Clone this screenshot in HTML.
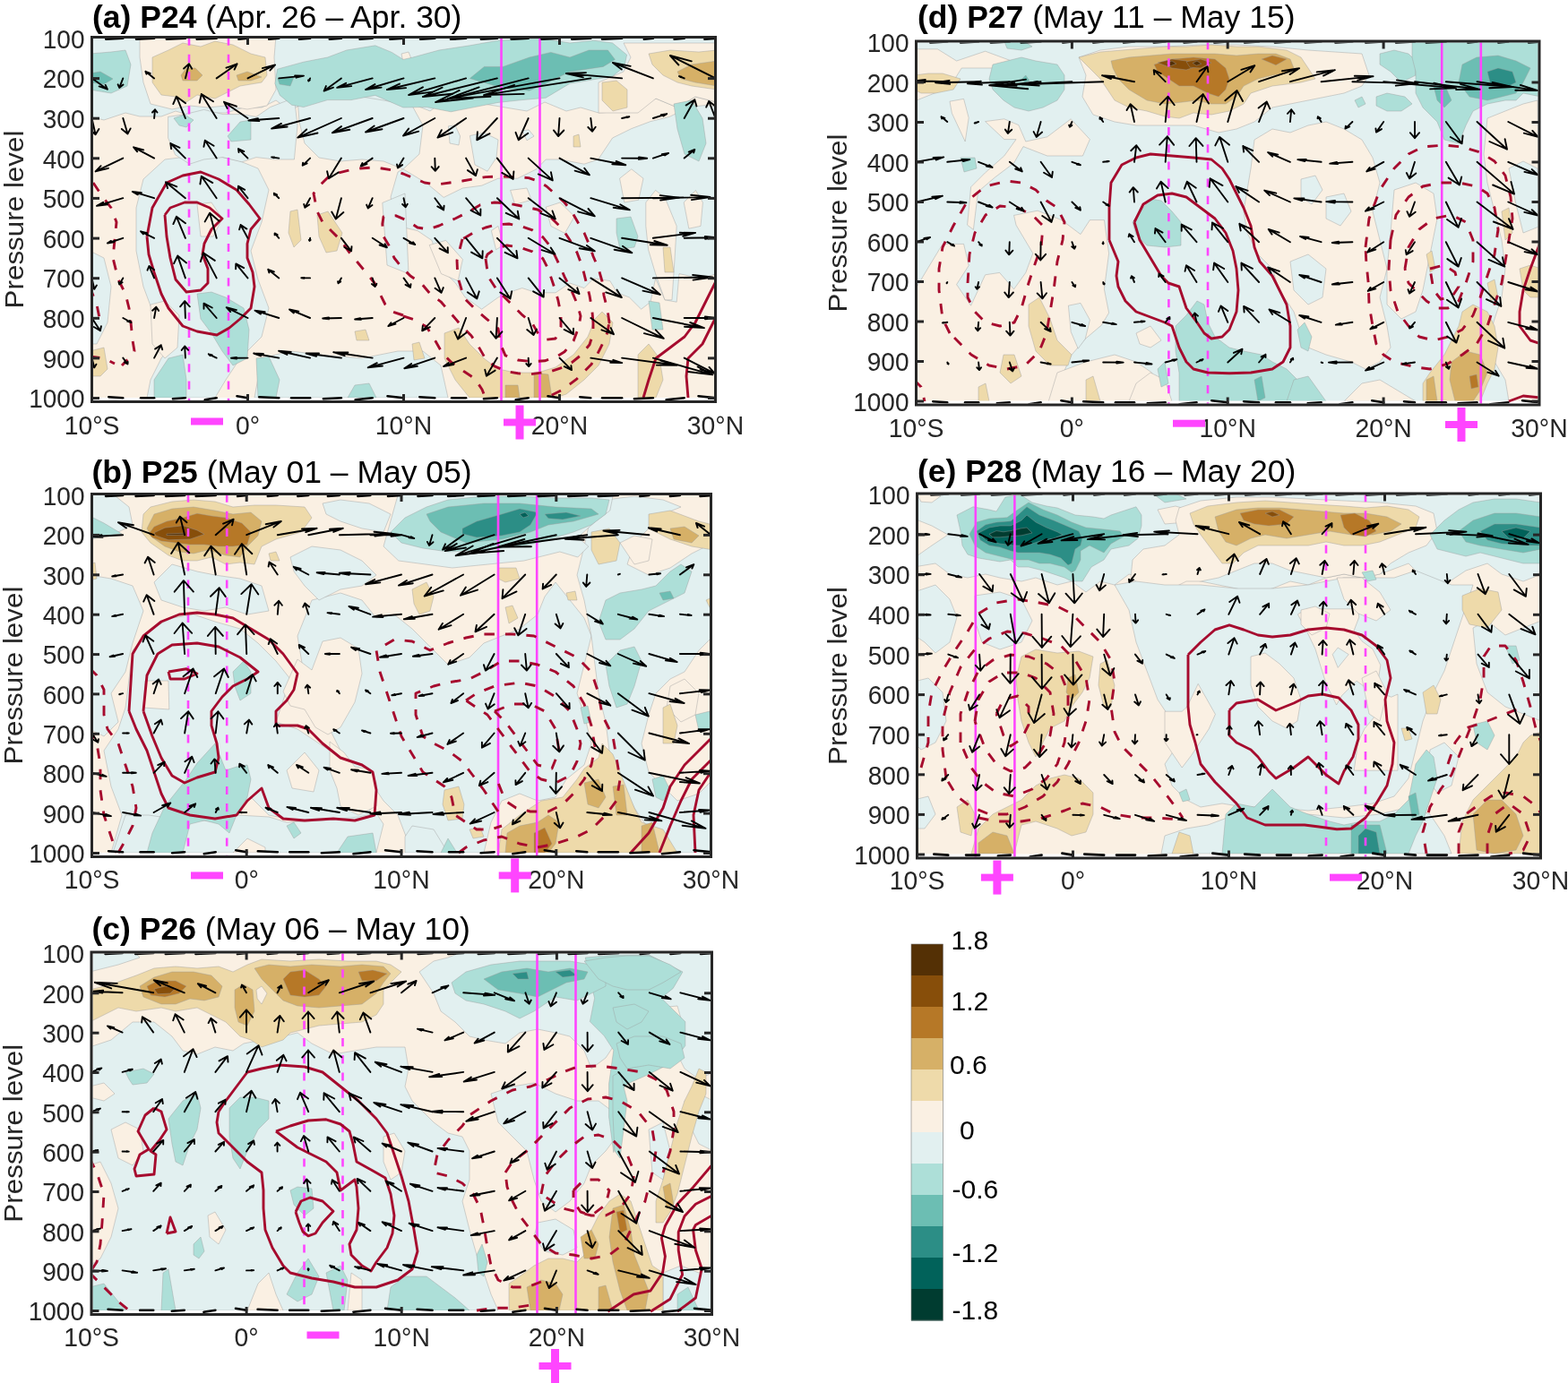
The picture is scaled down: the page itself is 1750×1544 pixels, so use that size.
<!DOCTYPE html><html><head><meta charset="utf-8"><title>figure</title><style>html,body{margin:0;padding:0;background:#fff;width:1750px;height:1544px;overflow:hidden}svg{display:block}</style></head><body><svg width="1750" height="1544" viewBox="0 0 1750 1544">
<style>.t{font-family:"Liberation Sans", Arial, Helvetica, sans-serif;font-size:29.5px;fill:#262626} .ti{font-family:"Liberation Sans", Arial, Helvetica, sans-serif;font-size:35.5px;fill:#000} .cb{font-family:"Liberation Sans", Arial, Helvetica, sans-serif;font-size:30px;fill:#000} path{stroke:#000;stroke-width:1.9;fill:none;stroke-linecap:round;stroke-linejoin:round}</style>
<rect width="1750" height="1544" fill="#fff"/>
<clipPath id="clipa"><rect x="104" y="43" width="693" height="404"/></clipPath>
<g clip-path="url(#clipa)">
<rect x="101" y="40" width="699" height="405" fill="#faf0e3"/>
<polygon points="100.0,40.0 800.0,40.0 800.0,114.0 776.0,108.0 756.0,120.0 732.0,110.0 704.0,124.0 668.0,126.0 648.0,120.0 632.0,124.0 608.0,114.0 588.0,124.0 564.0,120.0 540.0,116.0 520.0,120.0 496.0,112.0 480.0,124.0 460.0,116.0 440.0,122.0 412.0,126.0 388.0,118.0 364.0,122.0 340.0,114.0 324.0,124.0 308.0,112.0 292.0,120.0 272.0,120.0 252.0,126.0 232.0,126.0 216.0,130.0 196.0,124.0 180.0,130.0 156.0,130.0 140.0,126.0 116.0,134.0 100.0,130.0" fill="#e2f0f0" stroke="#9a9a9a" stroke-width="0.6" stroke-opacity="0.7"/>
<polygon points="156.0,44.0 164.0,40.0 308.0,40.0 306.0,64.0 308.0,100.0 298.0,118.0 276.0,122.0 252.0,118.0 232.0,120.0 212.0,118.0 192.0,122.0 168.0,116.0 160.0,92.0 156.0,64.0" fill="#faf0e3" stroke="#9a9a9a" stroke-width="0.6" stroke-opacity="0.7"/>
<polygon points="696.0,48.0 800.0,48.0 800.0,114.0 776.0,108.0 756.0,120.0 732.0,110.0 712.0,126.0 668.0,126.0 668.0,92.0 696.0,80.0 704.0,64.0" fill="#faf0e3" stroke="#9a9a9a" stroke-width="0.6" stroke-opacity="0.7"/>
<polygon points="448.0,60.0 456.0,58.0 460.0,68.0 450.0,70.0" fill="#faf0e3" stroke="#9a9a9a" stroke-width="0.6" stroke-opacity="0.7"/>
<polygon points="160.0,200.0 184.0,178.0 232.0,172.0 268.0,180.0 288.0,188.0 300.0,212.0 292.0,248.0 280.0,280.0 288.0,312.0 300.0,344.0 292.0,376.0 268.0,400.0 252.0,424.0 240.0,444.0 164.0,444.0 168.0,424.0 180.0,400.0 192.0,384.0 172.0,352.0 160.0,320.0 152.0,280.0 152.0,232.0" fill="#e2f0f0" stroke="#9a9a9a" stroke-width="0.6" stroke-opacity="0.7"/>
<polygon points="168.0,340.0 184.0,336.0 200.0,352.0 198.0,388.0 184.0,400.0 170.0,384.0" fill="#faf0e3" stroke="#9a9a9a" stroke-width="0.6" stroke-opacity="0.7"/>
<polygon points="220.0,228.0 236.0,226.0 248.0,244.0 238.0,264.0 224.0,264.0" fill="#faf0e3" stroke="#9a9a9a" stroke-width="0.6" stroke-opacity="0.7"/>
<polygon points="187.6,130.4 206.4,127.6 227.6,122.4 248.8,127.6 270.0,127.6 286.0,130.4 301.6,119.6 328.4,109.2 332.0,140.0 328.4,178.0 307.2,178.0 286.0,175.6 270.0,180.8 248.8,175.6 227.6,178.0 211.6,183.2 195.6,172.8 187.6,154.0" fill="#e2f0f0" stroke="#9a9a9a" stroke-width="0.6" stroke-opacity="0.7"/>
<polygon points="332.0,108.0 356.0,106.0 380.0,110.0 404.0,108.0 428.0,112.0 460.0,118.0 472.0,140.0 468.0,172.0 450.0,188.8 428.0,180.0 404.0,178.0 380.0,180.0 356.0,176.0 340.0,160.0 334.0,136.0" fill="#e2f0f0" stroke="#9a9a9a" stroke-width="0.6" stroke-opacity="0.7"/>
<polygon points="450.0,188.8 476.4,204.8 495.2,220.4 516.4,210.0 537.6,207.2 556.0,199.2 577.6,199.2 598.8,188.8 609.2,178.0 625.2,178.0 652.0,183.2 667.6,178.0 683.6,154.0 704.8,143.6 726.0,135.6 747.2,130.4 768.8,119.6 790.0,117.2 800.0,119.6 800.0,305.6 782.0,310.8 758.0,305.6 755.2,337.2 742.0,334.8 731.6,310.8 726.0,337.2 715.6,345.2 702.4,332.0 688.8,326.8 680.8,313.6 662.4,310.8 652.0,321.6 636.0,316.0 620.0,326.8 598.8,326.8 582.8,321.6 566.8,326.8 556.0,332.0 537.6,345.2 519.2,332.0 508.4,316.0 492.4,300.4 482.0,268.4 466.0,257.6 444.0,252.4 436.0,220.0 444.0,192.0" fill="#e2f0f0" stroke="#9a9a9a" stroke-width="0.6" stroke-opacity="0.7"/>
<polygon points="691.6,199.2 704.8,188.8 718.0,199.2 712.8,223.2 696.8,226.0" fill="#faf0e3" stroke="#9a9a9a" stroke-width="0.6" stroke-opacity="0.7"/>
<polygon points="720.8,226.0 731.6,212.4 742.0,220.4 755.2,252.4 752.8,292.4 750.0,334.8 742.0,334.8 731.6,305.6 723.6,278.8 720.8,252.4" fill="#faf0e3" stroke="#9a9a9a" stroke-width="0.6" stroke-opacity="0.7"/>
<polygon points="763.2,226.0 776.4,212.4 784.4,226.0 782.0,252.4 768.8,255.2" fill="#faf0e3" stroke="#9a9a9a" stroke-width="0.6" stroke-opacity="0.7"/>
<polygon points="569.6,212.4 588.0,210.0 593.2,223.2 574.8,228.4" fill="#faf0e3" stroke="#9a9a9a" stroke-width="0.6" stroke-opacity="0.7"/>
<polygon points="609.2,231.2 625.2,226.0 641.2,241.6 630.4,260.4 614.8,252.4" fill="#faf0e3" stroke="#9a9a9a" stroke-width="0.6" stroke-opacity="0.7"/>
<polygon points="479.2,273.6 497.6,268.4 516.4,289.6 511.2,313.6 492.4,305.6" fill="#faf0e3" stroke="#9a9a9a" stroke-width="0.6" stroke-opacity="0.7"/>
<polygon points="548.4,257.6 556.0,252.4 561.6,273.6 553.6,278.8" fill="#faf0e3" stroke="#9a9a9a" stroke-width="0.6" stroke-opacity="0.7"/>
<polygon points="500.4,140.8 508.0,140.0 513.6,152.0 512.0,162.0 502.0,160.0" fill="#e2f0f0" stroke="#9a9a9a" stroke-width="0.6" stroke-opacity="0.7"/>
<polygon points="524.4,151.6 540.0,148.0 556.0,156.0 554.0,176.0 544.0,191.2 530.0,184.0" fill="#e2f0f0" stroke="#9a9a9a" stroke-width="0.6" stroke-opacity="0.7"/>
<polygon points="582.8,146.0 590.0,144.8 596.0,152.0 588.0,156.8" fill="#e2f0f0" stroke="#9a9a9a" stroke-width="0.6" stroke-opacity="0.7"/>
<polygon points="426.8,226.4 452.0,216.0 456.0,305.6 432.0,296.0" fill="#e2f0f0" stroke="#9a9a9a" stroke-width="0.6" stroke-opacity="0.7"/>
<polygon points="100.0,280.0 116.0,288.0 124.0,320.0 120.0,360.0 108.0,384.0 100.0,384.0" fill="#e2f0f0" stroke="#9a9a9a" stroke-width="0.6" stroke-opacity="0.7"/>
<polygon points="292.0,400.0 324.0,392.0 360.0,396.0 404.0,400.0 444.0,392.0 472.0,392.0 492.0,408.0 500.0,444.0 284.0,444.0" fill="#e2f0f0" stroke="#9a9a9a" stroke-width="0.6" stroke-opacity="0.7"/>
<polygon points="100.0,60.0 124.0,58.0 140.0,56.0 146.0,72.0 142.0,96.0 124.0,104.0 100.0,100.0" fill="#addfd8" stroke="#9a9a9a" stroke-width="0.6" stroke-opacity="0.7"/>
<polygon points="100.0,82.0 112.0,80.0 126.0,88.0 116.0,94.0 100.0,92.0" fill="#6cbeb3" stroke="#9a9a9a" stroke-width="0.6" stroke-opacity="0.7"/>
<polygon points="194.0,132.0 206.0,128.0 216.0,134.0 208.0,142.0 200.0,140.0" fill="#addfd8" stroke="#9a9a9a" stroke-width="0.6" stroke-opacity="0.7"/>
<polygon points="254.0,152.0 268.0,136.0 280.0,134.0 280.0,156.0 258.0,158.0" fill="#addfd8" stroke="#9a9a9a" stroke-width="0.6" stroke-opacity="0.7"/>
<polygon points="309.6,77.2 338.8,69.2 365.6,64.0 386.8,56.0 418.8,50.8 437.2,58.4 450.0,66.4 460.8,64.0 490.0,56.0 524.4,50.8 556.0,45.2 604.0,42.8 636.0,48.0 662.4,45.2 683.6,48.0 699.6,61.2 696.8,74.4 683.6,85.2 636.0,93.2 609.2,109.2 582.8,111.6 556.0,114.4 529.6,119.6 503.2,124.8 476.4,119.6 450.0,120.0 418.8,106.4 392.0,111.6 365.6,111.6 338.8,119.6 325.6,117.2 312.4,106.4 306.8,93.2" fill="#addfd8" stroke="#9a9a9a" stroke-width="0.6" stroke-opacity="0.7"/>
<polygon points="524.4,87.6 540.4,74.4 561.6,74.4 590.8,64.0 614.8,58.4 636.0,64.0 657.2,56.0 678.4,56.0 686.4,66.4 673.2,74.4 636.0,80.0 609.2,93.2 590.8,101.2 561.6,98.4" fill="#6cbeb3" stroke="#9a9a9a" stroke-width="0.6" stroke-opacity="0.7"/>
<polygon points="310.0,88.0 328.0,86.0 324.0,96.0 312.0,94.0" fill="#6cbeb3" stroke="#9a9a9a" stroke-width="0.6" stroke-opacity="0.7"/>
<polygon points="752.0,116.0 772.0,112.0 784.0,132.0 788.0,160.0 780.0,180.0 764.0,172.0 756.0,144.0" fill="#addfd8" stroke="#9a9a9a" stroke-width="0.6" stroke-opacity="0.7"/>
<polygon points="220.0,328.0 236.0,326.0 252.0,332.0 272.0,344.0 278.0,368.0 276.0,400.0 260.0,408.0 248.0,392.0 236.0,372.0 224.0,356.0" fill="#addfd8" stroke="#9a9a9a" stroke-width="0.6" stroke-opacity="0.7"/>
<polygon points="172.0,424.0 188.0,400.0 204.0,396.0 208.0,424.0 208.0,444.0 172.0,444.0" fill="#addfd8" stroke="#9a9a9a" stroke-width="0.6" stroke-opacity="0.7"/>
<polygon points="286.0,400.0 300.0,398.0 312.0,424.0 308.0,444.0 288.0,444.0" fill="#addfd8" stroke="#9a9a9a" stroke-width="0.6" stroke-opacity="0.7"/>
<polygon points="688.0,244.0 704.0,242.0 712.0,264.0 708.0,276.0 692.0,278.0 688.0,260.0" fill="#addfd8" stroke="#9a9a9a" stroke-width="0.6" stroke-opacity="0.7"/>
<polygon points="724.0,336.0 736.0,338.0 740.0,368.0 728.0,368.0" fill="#addfd8" stroke="#9a9a9a" stroke-width="0.6" stroke-opacity="0.7"/>
<polygon points="388.0,444.0 396.0,430.0 412.0,428.0 420.0,444.0" fill="#addfd8" stroke="#9a9a9a" stroke-width="0.6" stroke-opacity="0.7"/>
<polygon points="170.0,64.0 188.0,56.0 204.0,48.0 224.0,52.0 240.0,46.0 260.0,50.0 280.0,60.0 296.0,64.0 298.0,84.0 292.0,92.0 268.0,96.0 252.0,104.0 240.0,110.0 220.0,106.0 208.0,114.0 196.0,108.0 180.0,106.0 170.0,92.0" fill="#eedaaa" stroke="#9a9a9a" stroke-width="0.6" stroke-opacity="0.7"/>
<polygon points="202.0,84.0 208.0,76.0 218.0,76.0 226.0,84.0 220.0,90.0 204.0,90.0" fill="#d6b067" stroke="#9a9a9a" stroke-width="0.6" stroke-opacity="0.7"/>
<polygon points="264.0,84.0 276.0,80.0 292.0,86.0 280.0,90.0 266.0,90.0" fill="#d6b067" stroke="#9a9a9a" stroke-width="0.6" stroke-opacity="0.7"/>
<polygon points="724.0,60.0 748.0,56.0 780.0,58.0 800.0,56.0 800.0,100.0 772.0,96.0 756.0,92.0 740.0,84.0 728.0,72.0" fill="#eedaaa" stroke="#9a9a9a" stroke-width="0.6" stroke-opacity="0.7"/>
<polygon points="756.0,80.0 772.0,72.0 800.0,68.0 800.0,96.0 776.0,92.0 760.0,88.0" fill="#d6b067" stroke="#9a9a9a" stroke-width="0.6" stroke-opacity="0.7"/>
<polygon points="672.0,92.0 688.0,90.0 700.0,100.0 700.0,120.0 684.0,124.0 672.0,112.0" fill="#eedaaa" stroke="#9a9a9a" stroke-width="0.6" stroke-opacity="0.7"/>
<polygon points="354.0,240.0 366.0,236.0 382.0,260.0 376.0,280.0 364.0,282.0 356.0,264.0" fill="#eedaaa" stroke="#9a9a9a" stroke-width="0.6" stroke-opacity="0.7"/>
<polygon points="324.0,236.0 332.0,234.0 336.0,268.0 328.0,276.0 322.0,260.0" fill="#eedaaa" stroke="#9a9a9a" stroke-width="0.6" stroke-opacity="0.7"/>
<polygon points="496.0,372.0 512.0,366.0 524.0,384.0 540.0,400.0 556.0,412.0 576.0,416.0 600.0,416.0 620.0,410.0 640.0,396.0 656.0,376.0 664.0,356.0 672.0,348.0 684.0,360.0 680.0,384.0 668.0,408.0 652.0,424.0 632.0,440.0 620.0,444.0 524.0,444.0 508.0,424.0 496.0,400.0" fill="#eedaaa" stroke="#9a9a9a" stroke-width="0.6" stroke-opacity="0.7"/>
<polygon points="596.0,416.0 612.0,418.0 616.0,444.0 596.0,444.0" fill="#d6b067" stroke="#9a9a9a" stroke-width="0.6" stroke-opacity="0.7"/>
<polygon points="564.0,430.0 578.0,430.0 580.0,444.0 564.0,444.0" fill="#d6b067" stroke="#9a9a9a" stroke-width="0.6" stroke-opacity="0.7"/>
<polygon points="712.0,396.0 724.0,384.0 736.0,400.0 740.0,424.0 732.0,444.0 712.0,444.0" fill="#eedaaa" stroke="#9a9a9a" stroke-width="0.6" stroke-opacity="0.7"/>
<polygon points="100.0,392.0 116.0,388.0 120.0,412.0 112.0,420.0 100.0,420.0" fill="#eedaaa" stroke="#9a9a9a" stroke-width="0.6" stroke-opacity="0.7"/>
<polygon points="396.0,370.0 408.0,368.0 412.0,380.0 398.0,380.0" fill="#eedaaa" stroke="#9a9a9a" stroke-width="0.6" stroke-opacity="0.7"/>
<polygon points="460.0,384.0 468.0,382.0 474.0,400.0 462.0,402.0" fill="#eedaaa" stroke="#9a9a9a" stroke-width="0.6" stroke-opacity="0.7"/>
<polygon points="740.0,276.0 748.0,276.0 752.0,304.0 742.0,304.0" fill="#eedaaa" stroke="#9a9a9a" stroke-width="0.6" stroke-opacity="0.7"/>
<polygon points="640.0,152.0 646.0,150.0 648.0,164.0 640.0,164.0" fill="#eedaaa" stroke="#9a9a9a" stroke-width="0.6" stroke-opacity="0.7"/>
<rect x="101" y="444" width="699" height="6" fill="#fff"/>
<line x1="211" y1="41.5" x2="211" y2="450" stroke="#ff45ff" stroke-width="2.6" stroke-dasharray="9.2,10"/>
<line x1="255" y1="41.5" x2="255" y2="450" stroke="#ff45ff" stroke-width="2.6" stroke-dasharray="9.2,10"/>
<line x1="559.5" y1="41.5" x2="559.5" y2="450" stroke="#ff45ff" stroke-width="2.6"/>
<line x1="602.5" y1="41.5" x2="602.5" y2="450" stroke="#ff45ff" stroke-width="2.6"/>
<polyline points="164.0,264.0 170.0,232.0 186.0,204.0 204.0,196.0 224.0,192.0 244.0,200.0 264.0,212.0 278.0,228.0 290.0,244.0 280.0,256.0 276.0,272.0 276.0,288.0 282.0,304.0 284.0,320.0 280.0,344.0 268.0,356.0 256.0,366.0 242.0,374.0 220.0,370.0 204.0,364.0 188.0,344.0 180.0,328.0 172.0,304.0 166.0,284.0 164.0,264.0" fill="none" stroke="#a60b2e" stroke-width="2.9" stroke-linejoin="round"/>
<polyline points="184.0,240.0 190.0,232.0 206.0,226.0 220.0,226.0 234.0,232.0 248.0,244.0 236.0,256.0 228.0,272.0 226.0,284.0 232.0,300.0 232.0,316.0 224.0,324.0 208.0,326.0 196.0,312.0 190.0,288.0 186.0,264.0 184.0,240.0" fill="none" stroke="#a60b2e" stroke-width="2.9" stroke-linejoin="round"/>
<polyline points="104.0,204.0 112.0,216.0 124.0,232.0 130.0,248.0 128.0,268.0 126.0,288.0 132.0,312.0 140.0,328.0 144.0,344.0 146.0,360.0 148.0,380.0 150.0,392.0 144.0,400.0 136.0,408.0" fill="none" stroke="#a60b2e" stroke-width="2.9" stroke-linejoin="round" stroke-dasharray="11.5,12"/>
<polyline points="100.0,398.0 116.0,400.0 128.0,406.0" fill="none" stroke="#a60b2e" stroke-width="2.9" stroke-linejoin="round" stroke-dasharray="11.5,12"/>
<polyline points="100.0,320.0 108.0,340.0 112.0,360.0" fill="none" stroke="#a60b2e" stroke-width="2.9" stroke-linejoin="round" stroke-dasharray="11.5,12"/>
<polyline points="718.0,444.0 724.0,424.0 732.0,400.0 748.0,388.0 764.0,376.0 776.0,360.0 788.0,336.0 800.0,312.0" fill="none" stroke="#a60b2e" stroke-width="2.9" stroke-linejoin="round"/>
<polyline points="768.0,444.0 766.0,420.0 768.0,400.0 784.0,384.0 796.0,360.0 800.0,352.0" fill="none" stroke="#a60b2e" stroke-width="2.9" stroke-linejoin="round"/>
<polyline points="450.0,352.0 438.0,348.0 430.0,340.0 424.0,328.0 418.0,316.0 410.0,306.0 400.0,294.0 390.0,282.0 380.0,268.0 370.0,258.0 360.0,248.0 354.0,236.0 352.0,226.0 350.0,216.0 358.0,206.0 366.0,198.0 378.0,193.0 390.0,190.0 402.0,188.0 416.0,187.0 426.0,188.0 438.0,190.0 450.0,194.0 462.0,199.0 474.0,204.0 488.0,206.0 502.0,204.0 516.0,202.0 530.0,199.6 542.0,197.6 558.0,197.0 574.0,197.6 590.0,198.6 600.0,202.0 610.0,208.0 620.0,217.0 630.0,226.0 638.0,236.0 646.0,250.0 652.0,260.0 658.0,274.0 662.0,286.0 668.0,300.0 672.0,314.0 674.0,330.0 678.0,346.0 680.0,360.0 680.8,354.8 678.0,370.8 674.0,380.8 670.0,388.8 666.0,396.8 660.0,406.8 654.0,412.8 644.0,422.8 636.0,428.8 626.0,436.0 618.0,440.0 610.0,444.8" fill="none" stroke="#a60b2e" stroke-width="2.9" stroke-linejoin="round" stroke-dasharray="11.5,12"/>
<polyline points="450.0,352.8 462.0,356.8 476.0,364.8 486.0,380.8 494.0,394.8 504.0,404.8 518.0,414.8 530.0,422.8 538.0,434.8 542.0,444.8" fill="none" stroke="#a60b2e" stroke-width="2.9" stroke-linejoin="round" stroke-dasharray="11.5,12"/>
<polyline points="662.0,360.0 660.8,346.0 658.0,330.0 654.0,314.0 650.0,298.0 644.0,282.0 636.0,268.0 628.0,256.0 616.0,244.0 600.0,234.0 582.0,230.0 566.0,226.8 552.0,226.0 536.0,228.8 520.0,238.0 508.0,244.0 490.0,252.0 478.0,256.0 466.0,254.0 454.0,246.0 442.0,240.8 428.0,242.0 426.8,250.0 428.0,264.0 434.0,274.0 440.0,288.0 448.0,298.0 458.0,308.0 470.0,316.0 480.0,328.0 492.0,336.8 504.0,350.8 516.0,364.8 526.0,374.8 534.0,386.8 542.0,400.8 552.0,408.8 566.0,414.8 578.0,416.8 590.0,418.0 602.0,416.4 614.0,414.8 626.0,410.8 638.0,404.8 648.0,396.8 658.0,384.8 662.0,372.0 662.0,360.0" fill="none" stroke="#a60b2e" stroke-width="2.9" stroke-linejoin="round" stroke-dasharray="11.5,12"/>
<polyline points="516.0,266.8 510.0,290.8 510.8,308.8 518.0,332.8 530.0,344.8 544.0,356.8 556.0,366.8 558.8,384.8 564.0,396.8 578.0,402.0 594.0,403.6 608.0,402.8 620.0,398.8 630.0,392.8 640.0,380.8 646.0,364.8 648.0,352.8 644.0,338.8 638.0,324.8 630.0,308.8 622.0,290.8 614.0,274.8 606.0,264.8 594.0,256.8 582.0,252.8 568.0,250.0 554.0,250.8 542.0,254.0 530.0,258.8 520.0,264.8 516.0,266.8" fill="none" stroke="#a60b2e" stroke-width="2.9" stroke-linejoin="round" stroke-dasharray="11.5,12"/>
<polyline points="542.0,288.8 544.8,308.8 554.0,322.8 568.0,336.8 582.0,350.8 594.0,360.8 600.8,372.8 610.0,379.2 620.0,378.0 626.0,364.8 626.0,350.8 622.8,334.8 618.0,318.8 612.0,300.8 606.0,288.8 594.0,280.8 580.0,276.0 566.0,274.0 554.0,276.8 544.0,284.0 542.0,288.8" fill="none" stroke="#a60b2e" stroke-width="2.9" stroke-linejoin="round" stroke-dasharray="11.5,12"/>
<path d="M102.5,87.4L119.9,99.7M110.7,96.4L119.9,99.7L117.7,94.9" />
<path d="M137.3,87.4L133.2,97.9M131.6,94.3L133.2,97.9L137.5,94.6" />
<path d="M172.1,87.4L162.4,79.8M167.7,81.9L162.4,79.8L163.5,82.7" />
<path d="M206.9,87.4L211.0,71.3M214.2,76.8L211.0,71.3L205.1,76.5" />
<path d="M241.7,87.4L264.6,71.3M261.6,77.6L264.6,71.3L252.5,75.7" />
<path d="M276.5,87.4L307.1,72.4M301.3,78.6L307.1,72.4L292.8,76.1" />
<path d="M311.3,87.4L339.0,84.6M330.6,86.7L339.0,84.6L329.1,84.4" />
<path d="M346.1,87.4L344.3,90.5M344.0,89.4L344.3,90.5L345.8,89.5" />
<path d="M380.9,87.4L361.6,101.6M363.9,96.1L361.6,101.6L372.0,97.7" />
<path d="M415.7,87.4L376.2,97.9M386.2,92.8L376.2,97.9L392.2,96.1" />
<path d="M102.5,132.0L106.6,150.2M100.1,144.4L106.6,150.2L110.4,144.0" />
<path d="M137.3,132.0L142.5,149.4M135.8,143.9L142.5,149.4L145.7,143.4" />
<path d="M172.1,132.0L173.0,122.3M175.5,125.5L173.0,122.3L170.0,125.5" />
<path d="M206.9,132.0L196.9,107.7M207.1,115.3L196.9,107.7L193.3,116.1" />
<path d="M241.7,132.0L224.8,105.1M238.0,113.2L224.8,105.1L222.7,114.7" />
<path d="M276.5,132.0L250.0,113.8M263.9,118.7L250.0,113.8L253.6,120.9" />
<path d="M311.3,132.0L277.4,134.5M287.9,132.3L277.4,134.5L289.3,135.1" />
<path d="M346.1,132.0L303.1,143.6M314.0,137.9L303.1,143.6L320.6,141.5" />
<path d="M380.9,132.0L332.3,153.6M342.2,144.5L332.3,153.6L354.5,148.5" />
<path d="M415.7,132.0L370.8,148.3M381.0,141.1L370.8,148.3L390.3,144.8" />
<path d="M137.3,176.6L106.6,191.4M112.6,185.2L106.6,191.4L120.9,187.8" />
<path d="M172.1,176.6L149.1,164.3M160.2,167.4L149.1,164.3L153.2,169.3" />
<path d="M206.9,176.6L190.3,160.0M200.5,164.8L190.3,160.0L191.1,166.2" />
<path d="M241.7,176.6L228.8,156.8M238.6,162.8L228.8,156.8L227.4,163.9" />
<path d="M276.5,176.6L266.0,166.1M272.4,169.1L266.0,166.1L266.5,170.0" />
<path d="M311.3,176.6L303.1,175.4M306.2,175.5L303.1,175.4L305.5,176.2" />
<path d="M346.1,176.6L337.7,184.7M338.1,181.7L337.7,184.7L342.7,182.4" />
<path d="M380.9,176.6L366.9,199.3M365.1,191.2L366.9,199.3L377.9,192.4" />
<path d="M415.7,176.6L402.7,185.5M404.5,182.0L402.7,185.5L409.5,183.1" />
<path d="M137.3,221.2L108.0,229.9M115.2,225.8L108.0,229.9L120.1,228.2" />
<path d="M172.1,221.2L147.8,213.9M157.9,215.3L147.8,213.9L153.8,217.3" />
<path d="M206.9,221.2L185.0,203.3M197.3,208.3L185.0,203.3L187.1,210.1" />
<path d="M241.7,221.2L224.8,196.7M237.3,204.1L224.8,196.7L223.4,205.5" />
<path d="M276.5,221.2L266.0,207.8M273.2,211.8L266.0,207.8L265.6,212.7" />
<path d="M311.3,221.2L305.8,215.8M309.1,217.3L305.8,215.8L306.1,217.8" />
<path d="M346.1,221.2L340.3,231.7M339.2,228.0L340.3,231.7L345.2,228.5" />
<path d="M380.9,221.2L374.8,244.5M370.2,236.5L374.8,244.5L383.4,237.0" />
<path d="M415.7,221.2L410.7,232.5M409.1,228.6L410.7,232.5L415.5,229.0" />
<path d="M137.3,265.8L119.9,271.5M124.0,268.9L119.9,271.5L127.3,270.4" />
<path d="M172.1,265.8L157.1,258.3M164.2,260.1L157.1,258.3L159.9,261.4" />
<path d="M206.9,265.8L196.9,241.8M207.0,249.3L196.9,241.8L193.4,250.1" />
<path d="M241.7,265.8L234.1,237.8M244.5,246.7L234.1,237.8L228.7,247.4" />
<path d="M276.5,265.8L268.6,251.1M275.4,255.6L268.6,251.1L267.1,256.3" />
<path d="M311.3,265.8L306.6,260.4M309.7,262.0L306.6,260.4L306.6,262.4" />
<path d="M346.1,265.8L345.6,268.9M344.9,267.9L345.6,268.9L346.7,267.9" />
<path d="M380.9,265.8L392.1,280.3M384.3,276.0L392.1,280.3L392.5,275.1" />
<path d="M415.7,265.8L431.9,276.3M423.6,273.5L431.9,276.3L429.5,272.2" />
<path d="M102.5,310.4L105.3,322.8M100.9,318.8L105.3,322.8L107.9,318.6" />
<path d="M137.3,310.4L133.2,317.5M132.5,315.0L133.2,317.5L136.6,315.3" />
<path d="M172.1,310.4L166.4,297.0M172.1,301.2L166.4,297.0L164.5,301.7" />
<path d="M206.9,310.4L198.2,285.6M208.1,293.4L198.2,285.6L194.1,294.2" />
<path d="M241.7,310.4L226.9,282.2M239.8,290.9L226.9,282.2L223.8,292.1" />
<path d="M276.5,310.4L263.3,294.4M272.2,299.1L263.3,294.4L263.1,300.2" />
<path d="M311.3,310.4L299.2,300.8M305.9,303.4L299.2,300.8L300.4,304.4" />
<path d="M346.1,310.4L336.3,310.3M339.6,309.9L336.3,310.3L339.5,310.8" />
<path d="M380.9,310.4L377.5,316.2M377.0,314.1L377.5,316.2L380.2,314.4" />
<path d="M415.7,310.4L418.6,320.1M414.9,317.0L418.6,320.1L420.4,316.8" />
<path d="M102.5,355.0L111.9,369.3M104.8,365.0L111.9,369.3L112.9,364.2" />
<path d="M137.3,355.0L146.5,360.0M142.0,358.7L146.5,360.0L144.8,357.9" />
<path d="M172.1,355.0L174.3,342.7M177.1,346.9L174.3,342.7L170.1,346.7" />
<path d="M206.9,355.0L206.2,336.1M211.8,342.3L206.2,336.1L201.1,342.3" />
<path d="M241.7,355.0L227.5,338.7M236.8,343.5L227.5,338.7L227.5,344.7" />
<path d="M276.5,355.0L252.7,343.2M263.9,346.1L252.7,343.2L257.2,348.1" />
<path d="M311.3,355.0L284.5,346.7M295.7,348.3L284.5,346.7L291.0,350.6" />
<path d="M346.1,355.0L323.0,345.4M333.4,347.6L323.0,345.4L327.9,349.5" />
<path d="M380.9,355.0L360.2,355.5M366.9,354.4L360.2,355.5L367.2,356.2" />
<path d="M415.7,355.0L396.1,356.5M402.1,355.2L396.1,356.5L403.0,356.8" />
<path d="M102.5,399.6L105.3,410.4M101.3,407.0L105.3,410.4L107.4,406.7" />
<path d="M137.3,399.6L142.5,406.4M138.8,404.4L142.5,406.4L142.7,404.0" />
<path d="M172.1,399.6L179.7,385.2M181.2,390.3L179.7,385.2L173.1,389.6" />
<path d="M206.9,399.6L206.2,386.5M210.1,390.8L206.2,386.5L202.7,390.9" />
<path d="M241.7,399.6L232.8,395.3M236.9,396.3L232.8,395.3L234.5,397.1" />
<path d="M276.5,399.6L258.0,399.8M264.0,399.0L258.0,399.8L264.2,400.5" />
<path d="M311.3,399.6L283.2,394.5M293.9,395.0L283.2,394.5L291.0,397.4" />
<path d="M346.1,399.6L311.1,391.8M324.8,392.9L311.1,391.8L320.5,395.9" />
<path d="M380.9,399.6L341.6,394.5M356.0,394.5L341.6,394.5L353.1,397.8" />
<path d="M415.7,399.6L372.2,393.2M388.4,393.5L372.2,393.2L384.7,397.1" />
<path d="M450.5,87.4L408.0,100.0M418.5,94.1L408.0,100.0L425.6,97.6" />
<path d="M485.3,87.4L431.9,100.0M446.0,93.6L431.9,100.0L453.1,98.1" />
<path d="M520.1,87.4L456.1,106.1M471.9,97.3L456.1,106.1L482.5,102.6" />
<path d="M554.9,87.4L472.0,108.0M493.6,97.7L472.0,108.0L505.2,104.7" />
<path d="M589.7,87.4L486.1,114.1M512.7,100.9L486.1,114.1L527.9,109.6" />
<path d="M624.5,87.4L499.9,110.1M534.6,97.4L499.9,110.1L547.5,107.8" />
<path d="M659.3,87.4L540.0,106.1M574.1,94.9L540.0,106.1L584.7,104.9" />
<path d="M694.1,87.4L631.9,82.0M654.0,81.1L631.9,82.0L650.9,86.4" />
<path d="M728.9,87.4L683.9,70.0M703.7,73.9L683.9,70.0L693.8,77.6" />
<path d="M763.7,87.4L758.0,85.1M760.5,85.6L758.0,85.1L759.3,86.1" />
<path d="M798.5,87.4L747.9,62.0M771.8,68.3L747.9,62.0L757.4,72.5" />
<path d="M450.5,132.0L408.0,147.5M417.7,140.6L408.0,147.5L426.5,144.2" />
<path d="M485.3,132.0L450.0,151.5M456.1,143.6L450.0,151.5L467.2,146.6" />
<path d="M520.1,132.0L488.5,153.6M492.8,145.2L488.5,153.6L505.1,147.8" />
<path d="M554.9,132.0L532.3,156.3M532.9,147.3L532.3,156.3L546.6,149.2" />
<path d="M589.7,132.0L578.8,156.3M575.5,147.8L578.8,156.3L589.3,148.7" />
<path d="M624.5,132.0L623.1,152.1M617.9,145.4L623.1,152.1L629.3,145.5" />
<path d="M659.3,132.0L661.1,146.7M656.3,142.0L661.1,146.7L664.7,141.8" />
<path d="M694.1,132.0L702.3,130.3M700.1,131.2L702.3,130.3L699.1,130.5" />
<path d="M728.9,132.0L744.2,127.1M740.5,129.4L744.2,127.1L737.8,128.1" />
<path d="M763.7,132.0L775.3,111.2M777.4,118.5L775.3,111.2L765.6,117.6" />
<path d="M798.5,132.0L791.2,113.0M799.0,119.0L791.2,113.0L788.2,119.6" />
<path d="M450.5,176.6L443.9,187.4M443.0,183.5L443.9,187.4L449.1,184.1" />
<path d="M485.3,176.6L485.8,190.8M481.6,186.2L485.8,190.8L489.7,186.1" />
<path d="M520.1,176.6L531.0,196.1M521.9,190.1L531.0,196.1L532.9,189.2" />
<path d="M554.9,176.6L572.7,199.9M560.2,192.9L572.7,199.9L573.4,191.4" />
<path d="M589.7,176.6L616.8,201.4M600.8,194.4L616.8,201.4L614.9,192.1" />
<path d="M624.5,176.6L657.9,195.3M641.6,190.6L657.9,195.3L652.2,187.8" />
<path d="M659.3,176.6L698.3,184.2M683.3,183.3L698.3,184.2L687.6,180.0" />
<path d="M694.1,176.6L722.2,176.7M712.9,177.9L722.2,176.7L713.0,175.5" />
<path d="M728.9,176.6L746.1,170.9M742.0,173.5L746.1,170.9L738.8,172.1" />
<path d="M763.7,176.6L775.3,166.9M774.2,170.6L775.3,166.9L768.7,169.6" />
<path d="M450.5,221.2L452.7,231.2M449.1,228.0L452.7,231.2L454.8,227.8" />
<path d="M485.3,221.2L495.1,234.4M488.2,230.4L495.1,234.4L495.6,229.6" />
<path d="M520.1,221.2L536.3,240.5M525.5,234.8L536.3,240.5L536.4,233.4" />
<path d="M554.9,221.2L579.3,244.5M564.7,237.8L579.3,244.5L577.8,235.8" />
<path d="M589.7,221.2L619.9,244.5M603.4,238.1L619.9,244.5L616.5,235.5" />
<path d="M624.5,221.2L663.8,241.3M645.1,236.3L663.8,241.3L656.5,233.0" />
<path d="M659.3,221.2L702.8,234.4M684.7,231.8L702.8,234.4L692.2,228.2" />
<path d="M694.1,221.2L758.0,220.6M737.1,223.5L758.0,220.6L736.7,218.1" />
<path d="M728.9,221.2L792.5,220.0M771.9,223.1L792.5,220.0L771.2,217.8" />
<path d="M450.5,265.8L463.3,273.1M457.0,271.3L463.3,273.1L461.1,270.2" />
<path d="M485.3,265.8L499.9,282.2M490.5,277.4L499.9,282.2L499.7,276.2" />
<path d="M520.1,265.8L538.4,288.3M526.0,281.6L538.4,288.3L538.7,280.1" />
<path d="M554.9,265.8L577.5,288.3M563.6,281.8L577.5,288.3L576.4,279.9" />
<path d="M589.7,265.8L619.4,283.8M604.5,279.1L619.4,283.8L614.7,276.6" />
<path d="M624.5,265.8L663.8,280.3M646.7,277.2L663.8,280.3L654.9,273.9" />
<path d="M659.3,265.8L705.4,282.2M685.6,278.7L705.4,282.2L694.9,274.8" />
<path d="M694.1,265.8L744.7,273.7M725.8,273.2L744.7,273.7L730.3,269.0" />
<path d="M728.9,265.8L776.1,259.9M762.2,263.8L776.1,259.9L758.8,259.8" />
<path d="M763.7,265.8L798.4,265.2M787.1,266.8L798.4,265.2L786.8,263.9" />
<path d="M450.5,310.4L458.0,320.9M452.5,317.8L458.0,320.9L458.5,317.1" />
<path d="M485.3,310.4L492.5,326.8M485.5,321.7L492.5,326.8L494.8,321.1" />
<path d="M520.1,310.4L532.3,333.4M521.8,326.3L532.3,333.4L534.8,325.3" />
<path d="M554.9,310.4L569.5,333.4M558.2,326.4L569.5,333.4L571.2,325.2" />
<path d="M589.7,310.4L606.7,331.6M595.1,325.3L606.7,331.6L607.1,323.9" />
<path d="M624.5,310.4L646.5,328.1M634.2,323.2L646.5,328.1L644.2,321.3" />
<path d="M659.3,310.4L693.8,332.1M676.2,326.4L693.8,332.1L688.5,323.5" />
<path d="M694.1,310.4L736.8,328.9M717.5,324.6L736.8,328.9L727.9,321.0" />
<path d="M728.9,310.4L795.2,309.5M773.6,312.6L795.2,309.5L773.1,307.0" />
<path d="M450.5,355.0L433.3,364.0M436.4,360.3L433.3,364.0L441.5,361.7" />
<path d="M485.3,355.0L471.2,369.3M471.8,364.0L471.2,369.3L479.9,365.1" />
<path d="M520.1,355.0L511.1,378.6M507.4,370.4L511.1,378.6L520.7,371.2" />
<path d="M554.9,355.0L553.6,377.8M547.6,370.2L553.6,377.8L560.4,370.3" />
<path d="M589.7,355.0L595.5,374.0M588.2,368.0L595.5,374.0L599.0,367.5" />
<path d="M624.5,355.0L639.9,373.2M629.6,367.9L639.9,373.2L640.0,366.6" />
<path d="M659.3,355.0L685.0,373.2M671.4,368.3L685.0,373.2L681.7,366.1" />
<path d="M694.1,355.0L740.8,377.8M718.9,372.2L740.8,377.8L731.8,368.3" />
<path d="M728.9,355.0L785.9,366.1M764.0,364.8L785.9,366.1L770.2,360.0" />
<path d="M763.7,355.0L798.4,354.9M787.0,356.4L798.4,354.9L786.9,353.5" />
<path d="M450.5,399.6L410.7,410.4M420.8,405.2L410.7,410.4L426.9,408.5" />
<path d="M485.3,399.6L451.3,411.2M459.2,406.0L451.3,411.2L465.8,408.8" />
<path d="M520.1,399.6L495.1,409.1M500.7,404.9L495.1,409.1L506.1,407.0" />
<path d="M554.9,399.6L542.9,419.7M541.2,412.6L542.9,419.7L552.6,413.6" />
<path d="M589.7,399.6L590.2,409.1M587.3,406.0L590.2,409.1L592.7,405.9" />
<path d="M624.5,399.6L638.0,413.1M629.7,409.2L638.0,413.1L637.4,408.1" />
<path d="M659.3,399.6L694.3,405.1M681.2,404.8L694.3,405.1L684.3,401.8" />
<path d="M694.1,399.6L755.4,407.8M732.8,407.6L755.4,407.8L737.5,402.5" />
<path d="M728.9,399.6L795.2,418.4M768.0,415.0L795.2,418.4L778.6,409.4" />
<path d="M763.7,399.6L797.8,417.1M781.6,412.7L797.8,417.1L791.5,409.9" />
<path d="M102.5,42.8L84.5,43.8" style="stroke-width:2.6"/>
<path d="M137.3,42.8L118.3,43.8" style="stroke-width:2.6"/>
<path d="M172.1,42.8L152.1,43.8" style="stroke-width:2.6"/>
<path d="M206.9,42.8L185.9,43.8" style="stroke-width:2.6"/>
<path d="M241.7,42.8L219.7,43.8" style="stroke-width:2.6"/>
<path d="M276.5,42.8L266.5,43.8" style="stroke-width:2.6"/>
<path d="M311.3,42.8L300.3,43.8" style="stroke-width:2.6"/>
<path d="M346.1,42.8L334.1,43.8" style="stroke-width:2.6"/>
<path d="M380.9,42.8L367.9,43.8" style="stroke-width:2.6"/>
<path d="M415.7,42.8L401.7,43.8" style="stroke-width:2.6"/>
<path d="M450.5,42.8L435.5,43.8" style="stroke-width:2.6"/>
<path d="M485.3,42.8L469.3,43.8" style="stroke-width:2.6"/>
<path d="M520.1,42.8L503.1,43.8" style="stroke-width:2.6"/>
<path d="M554.9,42.8L536.9,43.8" style="stroke-width:2.6"/>
<path d="M589.7,42.8L570.7,43.8" style="stroke-width:2.6"/>
<path d="M624.5,42.8L604.5,43.8" style="stroke-width:2.6"/>
<path d="M659.3,42.8L638.3,43.8" style="stroke-width:2.6"/>
<path d="M694.1,42.8L672.1,43.8" style="stroke-width:2.6"/>
<path d="M728.9,42.8L718.9,43.8" style="stroke-width:2.6"/>
<path d="M763.7,42.8L752.7,43.8" style="stroke-width:2.6"/>
<path d="M798.5,42.8L786.5,43.8" style="stroke-width:2.6"/>
<path d="M102.5,444.2L85.5,442.2" style="stroke-width:2.6"/>
<path d="M137.3,444.2L121.3,443.2" style="stroke-width:2.6"/>
<path d="M172.1,444.2L157.1,444.2" style="stroke-width:2.6"/>
<path d="M206.9,444.2L192.9,445.2" style="stroke-width:2.6"/>
<path d="M241.7,444.2L228.7,446.2" style="stroke-width:2.6"/>
<path d="M276.5,444.2L264.5,442.2" style="stroke-width:2.6"/>
<path d="M311.3,444.2L289.3,443.2" style="stroke-width:2.6"/>
<path d="M346.1,444.2L325.1,444.2" style="stroke-width:2.6"/>
<path d="M380.9,444.2L360.9,445.2" style="stroke-width:2.6"/>
<path d="M415.7,444.2L396.7,446.2" style="stroke-width:2.6"/>
<path d="M450.5,444.2L432.5,442.2" style="stroke-width:2.6"/>
<path d="M485.3,444.2L468.3,443.2" style="stroke-width:2.6"/>
<path d="M520.1,444.2L504.1,444.2" style="stroke-width:2.6"/>
<path d="M554.9,444.2L539.9,445.2" style="stroke-width:2.6"/>
<path d="M589.7,444.2L575.7,446.2" style="stroke-width:2.6"/>
<path d="M624.5,444.2L611.5,442.2" style="stroke-width:2.6"/>
<path d="M659.3,444.2L647.3,443.2" style="stroke-width:2.6"/>
<path d="M694.1,444.2L672.1,444.2" style="stroke-width:2.6"/>
<path d="M728.9,444.2L707.9,445.2" style="stroke-width:2.6"/>
<path d="M763.7,444.2L743.7,446.2" style="stroke-width:2.6"/>
<path d="M798.5,444.2L779.5,442.2" style="stroke-width:2.6"/>
</g>
<rect x="102.5" y="41.5" width="696" height="407" fill="none" stroke="#262626" stroke-width="3"/>
<line x1="102.5" y1="87.6" x2="111" y2="87.6" stroke="#262626" stroke-width="3"/>
<line x1="798.5" y1="87.6" x2="790" y2="87.6" stroke="#262626" stroke-width="3"/>
<line x1="102.5" y1="132.2" x2="111" y2="132.2" stroke="#262626" stroke-width="3"/>
<line x1="798.5" y1="132.2" x2="790" y2="132.2" stroke="#262626" stroke-width="3"/>
<line x1="102.5" y1="176.8" x2="111" y2="176.8" stroke="#262626" stroke-width="3"/>
<line x1="798.5" y1="176.8" x2="790" y2="176.8" stroke="#262626" stroke-width="3"/>
<line x1="102.5" y1="221.4" x2="111" y2="221.4" stroke="#262626" stroke-width="3"/>
<line x1="798.5" y1="221.4" x2="790" y2="221.4" stroke="#262626" stroke-width="3"/>
<line x1="102.5" y1="266.1" x2="111" y2="266.1" stroke="#262626" stroke-width="3"/>
<line x1="798.5" y1="266.1" x2="790" y2="266.1" stroke="#262626" stroke-width="3"/>
<line x1="102.5" y1="310.7" x2="111" y2="310.7" stroke="#262626" stroke-width="3"/>
<line x1="798.5" y1="310.7" x2="790" y2="310.7" stroke="#262626" stroke-width="3"/>
<line x1="102.5" y1="355.3" x2="111" y2="355.3" stroke="#262626" stroke-width="3"/>
<line x1="798.5" y1="355.3" x2="790" y2="355.3" stroke="#262626" stroke-width="3"/>
<line x1="102.5" y1="399.9" x2="111" y2="399.9" stroke="#262626" stroke-width="3"/>
<line x1="798.5" y1="399.9" x2="790" y2="399.9" stroke="#262626" stroke-width="3"/>
<line x1="102.5" y1="444.5" x2="111" y2="444.5" stroke="#262626" stroke-width="3"/>
<line x1="798.5" y1="444.5" x2="790" y2="444.5" stroke="#262626" stroke-width="3"/>
<line x1="276.5" y1="448.5" x2="276.5" y2="440" stroke="#262626" stroke-width="3"/>
<line x1="276.5" y1="41.5" x2="276.5" y2="50" stroke="#262626" stroke-width="3"/>
<line x1="450.5" y1="448.5" x2="450.5" y2="440" stroke="#262626" stroke-width="3"/>
<line x1="450.5" y1="41.5" x2="450.5" y2="50" stroke="#262626" stroke-width="3"/>
<line x1="624.5" y1="448.5" x2="624.5" y2="440" stroke="#262626" stroke-width="3"/>
<line x1="624.5" y1="41.5" x2="624.5" y2="50" stroke="#262626" stroke-width="3"/>
<text x="94.5" y="53.7" text-anchor="end" class="t" textLength="46.8" lengthAdjust="spacingAndGlyphs">100</text>
<text x="94.5" y="98.3" text-anchor="end" class="t" textLength="46.8" lengthAdjust="spacingAndGlyphs">200</text>
<text x="94.5" y="142.9" text-anchor="end" class="t" textLength="46.8" lengthAdjust="spacingAndGlyphs">300</text>
<text x="94.5" y="187.5" text-anchor="end" class="t" textLength="46.8" lengthAdjust="spacingAndGlyphs">400</text>
<text x="94.5" y="232.1" text-anchor="end" class="t" textLength="46.8" lengthAdjust="spacingAndGlyphs">500</text>
<text x="94.5" y="276.8" text-anchor="end" class="t" textLength="46.8" lengthAdjust="spacingAndGlyphs">600</text>
<text x="94.5" y="321.4" text-anchor="end" class="t" textLength="46.8" lengthAdjust="spacingAndGlyphs">700</text>
<text x="94.5" y="366.0" text-anchor="end" class="t" textLength="46.8" lengthAdjust="spacingAndGlyphs">800</text>
<text x="94.5" y="410.6" text-anchor="end" class="t" textLength="46.8" lengthAdjust="spacingAndGlyphs">900</text>
<text x="94.5" y="455.2" text-anchor="end" class="t" textLength="62.3" lengthAdjust="spacingAndGlyphs">1000</text>
<text x="102.5" y="484.5" text-anchor="middle" class="t" textLength="61.7" lengthAdjust="spacingAndGlyphs">10°S</text>
<text x="276.5" y="484.5" text-anchor="middle" class="t" textLength="27.1" lengthAdjust="spacingAndGlyphs">0°</text>
<text x="450.5" y="484.5" text-anchor="middle" class="t" textLength="63.3" lengthAdjust="spacingAndGlyphs">10°N</text>
<text x="624.5" y="484.5" text-anchor="middle" class="t" textLength="63.3" lengthAdjust="spacingAndGlyphs">20°N</text>
<text x="798.5" y="484.5" text-anchor="middle" class="t" textLength="63.3" lengthAdjust="spacingAndGlyphs">30°N</text>
<text x="25.5" y="245.0" text-anchor="middle" class="t" textLength="198.9" lengthAdjust="spacingAndGlyphs" transform="rotate(-90 25.5 245.0)">Pressure level</text>
<text x="103.0" y="31" class="ti"><tspan font-weight="bold">(a) P24</tspan> (Apr. 26 – Apr. 30)</text>
<rect x="213" y="466.5" width="36" height="8" fill="#ff45ff"/>
<rect x="562" y="467.5" width="36" height="8" fill="#ff45ff"/>
<rect x="575.5" y="452.5" width="9" height="38" fill="#ff45ff"/>
<clipPath id="clipb"><rect x="104" y="553" width="688" height="402"/></clipPath>
<g clip-path="url(#clipb)">
<rect x="101" y="550" width="694" height="403" fill="#faf0e3"/>
<polygon points="100.0,642.0 124.0,646.0 148.0,654.0 160.0,682.0 148.0,718.0 140.0,750.0 124.0,774.0 132.0,806.0 116.0,822.0 100.0,814.0" fill="#e2f0f0" stroke="#9a9a9a" stroke-width="0.6" stroke-opacity="0.7"/>
<polygon points="100.0,550.0 124.0,550.0 144.0,566.0 148.0,586.0 124.0,598.0 100.0,602.0" fill="#e2f0f0" stroke="#9a9a9a" stroke-width="0.6" stroke-opacity="0.7"/>
<polygon points="140.0,790.0 148.0,726.0 168.0,702.0 192.0,690.0 216.0,686.0 240.0,694.0 268.0,702.0 288.0,718.0 308.0,738.0 324.0,758.0 316.0,782.0 308.0,806.0 332.0,814.0 356.0,830.0 380.0,846.0 404.0,862.0 416.0,882.0 412.0,910.0 380.0,918.0 340.0,918.0 300.0,910.0 280.0,890.0 260.0,902.0 232.0,914.0 212.0,918.0 180.0,952.0 124.0,952.0 136.0,910.0 124.0,878.0 116.0,838.0 132.0,814.0" fill="#e2f0f0" stroke="#9a9a9a" stroke-width="0.6" stroke-opacity="0.7"/>
<polygon points="172.0,650.0 192.0,630.0 220.0,638.0 240.0,642.0 268.0,646.0 292.0,654.0 300.0,682.0 276.0,686.0 252.0,678.0 228.0,682.0 204.0,678.0 180.0,670.0" fill="#e2f0f0" stroke="#9a9a9a" stroke-width="0.6" stroke-opacity="0.7"/>
<polygon points="332.0,710.0 348.0,670.0 380.0,662.0 404.0,670.0 420.0,690.0 440.0,686.0 460.0,702.0 484.0,726.0 500.0,742.0 524.0,734.0 540.0,718.0 560.0,710.0 580.0,702.0 600.0,686.0 608.0,666.0 620.0,650.0 636.0,670.0 652.0,690.0 660.0,710.0 652.0,742.0 644.0,774.0 652.0,798.0 660.0,830.0 652.0,854.0 632.0,870.0 620.0,890.0 600.0,894.0 580.0,886.0 560.0,894.0 548.0,918.0 540.0,952.0 460.0,952.0 444.0,910.0 428.0,894.0 412.0,870.0 388.0,854.0 372.0,822.0 356.0,790.0 340.0,758.0" fill="#e2f0f0" stroke="#9a9a9a" stroke-width="0.6" stroke-opacity="0.7"/>
<polygon points="324.0,622.0 348.0,610.0 380.0,614.0 404.0,626.0 420.0,642.0 404.0,654.0 380.0,658.0 356.0,670.0 340.0,654.0 328.0,638.0" fill="#e2f0f0" stroke="#9a9a9a" stroke-width="0.6" stroke-opacity="0.7"/>
<polygon points="360.0,562.0 380.0,558.0 412.0,562.0 436.0,574.0 428.0,594.0 404.0,590.0 380.0,582.0 364.0,574.0" fill="#e2f0f0" stroke="#9a9a9a" stroke-width="0.6" stroke-opacity="0.7"/>
<polygon points="660.0,574.0 676.0,558.0 708.0,554.0 740.0,558.0 760.0,566.0 740.0,574.0 724.0,590.0 708.0,606.0 700.0,630.0 724.0,642.0 748.0,634.0 772.0,618.0 796.0,606.0 796.0,710.0 780.0,726.0 764.0,750.0 748.0,758.0 732.0,774.0 724.0,798.0 716.0,830.0 724.0,862.0 740.0,878.0 756.0,894.0 780.0,886.0 796.0,870.0 796.0,952.0 740.0,952.0 724.0,926.0 708.0,902.0 692.0,870.0 680.0,838.0 676.0,806.0 668.0,774.0 664.0,742.0 660.0,710.0 652.0,670.0 644.0,642.0 652.0,610.0" fill="#e2f0f0" stroke="#9a9a9a" stroke-width="0.6" stroke-opacity="0.7"/>
<polygon points="692.0,606.0 708.0,598.0 728.0,602.0 724.0,626.0 708.0,630.0" fill="#faf0e3" stroke="#9a9a9a" stroke-width="0.6" stroke-opacity="0.7"/>
<polygon points="748.0,766.0 764.0,758.0 780.0,774.0 776.0,798.0 760.0,806.0 744.0,790.0" fill="#faf0e3" stroke="#9a9a9a" stroke-width="0.6" stroke-opacity="0.7"/>
<polygon points="452.0,934.0 460.0,922.0 484.0,926.0 500.0,952.0 452.0,952.0" fill="#e2f0f0" stroke="#9a9a9a" stroke-width="0.6" stroke-opacity="0.7"/>
<polygon points="444.8,550.0 684.8,550.0 680.8,570.0 664.8,582.0 644.8,600.0 656.8,610.0 644.8,622.0 624.8,616.0 584.8,626.0 544.8,630.0 504.8,634.0 444.8,626.0 428.0,610.0" fill="#e2f0f0" stroke="#9a9a9a" stroke-width="0.6" stroke-opacity="0.7"/>
<polygon points="316.0,772.0 324.0,788.0 340.0,792.0 352.0,812.0 366.0,820.0 380.0,812.0 396.0,784.0 404.0,752.0 400.0,724.0 380.0,712.0 360.0,716.0 348.0,748.0 332.0,736.0" fill="#faf0e3" stroke="#9a9a9a" stroke-width="0.6" stroke-opacity="0.7"/>
<polygon points="320.0,860.0 340.0,840.0 356.0,860.0 350.0,884.0 326.0,880.0" fill="#faf0e3" stroke="#9a9a9a" stroke-width="0.6" stroke-opacity="0.7"/>
<polygon points="368.0,828.0 384.0,840.0 396.0,856.0 412.0,858.0 420.0,874.0 420.0,900.0 400.0,910.0 380.0,900.0 376.0,880.0 368.0,860.0" fill="#faf0e3" stroke="#9a9a9a" stroke-width="0.6" stroke-opacity="0.7"/>
<polygon points="160.0,790.0 162.0,760.0 188.0,760.0 188.8,792.0" fill="#faf0e3" stroke="#9a9a9a" stroke-width="0.6" stroke-opacity="0.7"/>
<polygon points="126.0,952.0 140.0,910.0 166.0,910.0 206.0,916.0 240.0,916.0 266.0,910.0 300.0,912.0 320.0,918.0 360.0,916.0 400.0,912.0 420.0,908.0 428.0,920.0 420.0,952.0" fill="#e2f0f0" stroke="#9a9a9a" stroke-width="0.6" stroke-opacity="0.7"/>
<polygon points="260.0,952.0 276.0,936.0 296.0,946.0 296.0,952.0" fill="#faf0e3" stroke="#9a9a9a" stroke-width="0.6" stroke-opacity="0.7"/>
<polygon points="160.0,574.0 168.0,566.0 192.0,560.0 216.0,558.0 240.0,560.0 260.0,566.0 284.0,564.0 308.0,564.0 340.0,566.0 348.0,578.0 336.0,594.0 308.0,602.0 292.0,610.0 284.0,630.0 268.0,628.0 252.0,630.0 236.0,622.0 220.0,626.0 204.0,626.0 188.0,620.0 168.0,606.0 158.0,594.0" fill="#eedaaa" stroke="#9a9a9a" stroke-width="0.6" stroke-opacity="0.7"/>
<polygon points="164.0,590.0 172.0,574.0 192.0,568.0 216.0,566.0 240.0,570.0 260.0,574.0 280.0,572.0 292.0,582.0 288.0,598.0 276.0,610.0 268.0,622.0 252.0,620.0 232.0,614.0 216.0,618.0 200.0,616.0 184.0,610.0 170.0,600.0" fill="#d6b067" stroke="#9a9a9a" stroke-width="0.6" stroke-opacity="0.7"/>
<polygon points="166.0,596.0 172.0,588.0 186.0,582.0 204.0,578.0 220.0,573.2 236.0,576.0 252.0,578.0 270.0,584.0 280.0,594.0 276.0,608.0 260.0,610.0 244.0,610.0 228.0,608.0 212.0,608.0 196.0,606.0 180.0,604.0 170.0,600.0" fill="#b67827" stroke="#9a9a9a" stroke-width="0.6" stroke-opacity="0.7"/>
<polygon points="172.0,594.8 184.0,589.2 204.0,586.8 220.0,592.0 228.0,596.4 212.0,602.0 188.0,602.8 174.0,598.0" fill="#874e0a" stroke="#9a9a9a" stroke-width="0.6" stroke-opacity="0.7"/>
<polygon points="186.0,596.0 206.0,595.2 206.0,597.2 186.0,597.6" fill="#543005" stroke="#9a9a9a" stroke-width="0.6" stroke-opacity="0.7"/>
<polygon points="660.0,594.0 680.0,590.0 692.0,606.0 688.0,626.0 668.0,630.0 660.0,614.0" fill="#eedaaa" stroke="#9a9a9a" stroke-width="0.6" stroke-opacity="0.7"/>
<polygon points="724.0,574.0 748.0,570.0 780.0,582.0 796.0,586.0 796.0,614.0 772.0,610.0 748.0,602.0 724.0,590.0" fill="#eedaaa" stroke="#9a9a9a" stroke-width="0.6" stroke-opacity="0.7"/>
<polygon points="748.0,590.0 764.0,588.0 780.0,598.0 772.0,606.0 752.0,602.0" fill="#d6b067" stroke="#9a9a9a" stroke-width="0.6" stroke-opacity="0.7"/>
<polygon points="436.0,594.0 452.0,578.0 476.0,566.0 500.0,558.0 540.0,554.0 580.0,554.0 620.0,556.0 660.0,556.0 680.0,558.0 676.0,574.0 660.0,586.0 640.0,594.0 620.0,600.0 600.0,606.0 580.0,610.0 540.0,614.0 500.0,616.0 472.0,612.0 448.0,606.0" fill="#addfd8" stroke="#9a9a9a" stroke-width="0.6" stroke-opacity="0.7"/>
<polygon points="476.0,574.0 500.0,566.0 540.0,562.0 580.0,562.0 620.0,566.0 660.0,568.0 668.0,574.0 640.0,582.0 612.0,586.0 592.0,594.0 560.0,602.0 520.0,606.0 492.0,594.0 480.0,582.0" fill="#6cbeb3" stroke="#9a9a9a" stroke-width="0.6" stroke-opacity="0.7"/>
<polygon points="516.0,590.0 532.0,582.0 560.0,574.0 580.0,568.0 600.0,572.0 592.0,586.0 580.0,594.0 560.0,598.0 532.0,600.0 516.0,596.0" fill="#2c8e86" stroke="#9a9a9a" stroke-width="0.6" stroke-opacity="0.7"/>
<polygon points="608.0,574.0 632.0,572.0 648.0,576.0 628.0,580.0 612.0,578.8" fill="#2c8e86" stroke="#9a9a9a" stroke-width="0.6" stroke-opacity="0.7"/>
<polygon points="580.0,574.0 586.0,572.0 590.0,576.0 584.0,578.0" fill="#01625a" stroke="#9a9a9a" stroke-width="0.6" stroke-opacity="0.7"/>
<polygon points="100.0,576.0 116.0,584.0 136.0,596.0 116.0,598.0 100.0,602.0" fill="#addfd8" stroke="#9a9a9a" stroke-width="0.6" stroke-opacity="0.7"/>
<polygon points="668.0,694.0 676.0,670.0 692.0,662.0 716.0,658.0 732.0,654.0 748.0,638.0 760.0,630.0 772.0,638.0 764.0,662.0 748.0,670.0 724.0,682.0 708.0,702.0 692.0,714.0 676.0,714.0" fill="#addfd8" stroke="#9a9a9a" stroke-width="0.6" stroke-opacity="0.7"/>
<polygon points="736.0,662.0 748.0,660.0 752.0,668.0 740.0,670.0" fill="#6cbeb3" stroke="#9a9a9a" stroke-width="0.6" stroke-opacity="0.7"/>
<polygon points="676.0,742.0 692.0,726.0 708.0,722.0 716.0,738.0 708.0,766.0 700.0,786.0 688.0,790.0 680.0,766.0" fill="#addfd8" stroke="#9a9a9a" stroke-width="0.6" stroke-opacity="0.7"/>
<polygon points="164.0,952.0 170.0,930.0 184.0,900.0 200.0,880.0 208.0,870.0 220.0,852.0 240.0,830.0 244.0,840.0 252.0,860.0 264.0,856.0 276.0,854.0 280.0,870.0 276.0,890.0 264.0,910.0 256.0,930.0 244.0,920.0 228.0,916.0 212.0,920.0 208.0,936.0 204.0,952.0" fill="#addfd8" stroke="#9a9a9a" stroke-width="0.6" stroke-opacity="0.7"/>
<polygon points="376.0,952.0 388.0,934.0 416.0,930.0 420.0,952.0" fill="#addfd8" stroke="#9a9a9a" stroke-width="0.6" stroke-opacity="0.7"/>
<polygon points="260.0,750.0 272.0,738.0 280.0,750.0 280.0,774.0 268.0,782.0 262.0,766.0" fill="#addfd8" stroke="#9a9a9a" stroke-width="0.6" stroke-opacity="0.7"/>
<polygon points="320.0,922.0 328.0,918.0 336.0,930.0 328.0,936.0" fill="#addfd8" stroke="#9a9a9a" stroke-width="0.6" stroke-opacity="0.7"/>
<polygon points="648.0,790.0 656.0,788.0 660.0,806.0 652.0,808.0" fill="#addfd8" stroke="#9a9a9a" stroke-width="0.6" stroke-opacity="0.7"/>
<polygon points="728.0,870.0 740.0,866.0 748.0,882.0 740.0,894.0 732.0,890.0" fill="#addfd8" stroke="#9a9a9a" stroke-width="0.6" stroke-opacity="0.7"/>
<polygon points="776.0,798.0 792.0,794.0 794.0,814.0 780.0,816.0" fill="#addfd8" stroke="#9a9a9a" stroke-width="0.6" stroke-opacity="0.7"/>
<polygon points="492.0,952.0 500.0,936.0 510.0,952.0" fill="#addfd8" stroke="#9a9a9a" stroke-width="0.6" stroke-opacity="0.7"/>
<polygon points="496.0,882.0 512.0,878.0 518.0,898.0 516.0,914.0 500.0,916.0 494.0,898.0" fill="#eedaaa" stroke="#9a9a9a" stroke-width="0.6" stroke-opacity="0.7"/>
<polygon points="556.0,952.0 560.0,926.0 580.0,910.0 604.0,894.0 628.0,890.0 644.0,870.0 652.0,858.0 668.0,846.0 672.0,830.0 684.0,842.0 692.0,862.0 700.0,882.0 708.0,902.0 716.0,918.0 740.0,926.0 756.0,952.0" fill="#eedaaa" stroke="#9a9a9a" stroke-width="0.6" stroke-opacity="0.7"/>
<polygon points="564.0,952.0 566.0,930.0 580.0,922.0 600.0,918.0 612.0,910.0 624.0,918.0 620.0,942.0 612.0,952.0" fill="#d6b067" stroke="#9a9a9a" stroke-width="0.6" stroke-opacity="0.7"/>
<polygon points="596.0,930.0 608.0,924.0 616.0,942.0 608.0,952.0 596.0,952.0" fill="#b67827" stroke="#9a9a9a" stroke-width="0.6" stroke-opacity="0.7"/>
<polygon points="652.0,874.0 668.0,870.0 676.0,890.0 668.0,902.0 656.0,898.0" fill="#d6b067" stroke="#9a9a9a" stroke-width="0.6" stroke-opacity="0.7"/>
<polygon points="684.0,878.0 696.0,876.0 700.0,910.0 688.0,910.0" fill="#d6b067" stroke="#9a9a9a" stroke-width="0.6" stroke-opacity="0.7"/>
<polygon points="716.0,922.0 728.0,918.0 736.0,952.0 716.0,952.0" fill="#d6b067" stroke="#9a9a9a" stroke-width="0.6" stroke-opacity="0.7"/>
<polygon points="740.0,790.0 748.0,786.0 756.0,810.0 752.0,830.0 740.0,830.0" fill="#eedaaa" stroke="#9a9a9a" stroke-width="0.6" stroke-opacity="0.7"/>
<polygon points="556.0,634.0 576.0,634.0 580.0,646.0 564.0,650.0 556.0,646.0" fill="#eedaaa" stroke="#9a9a9a" stroke-width="0.6" stroke-opacity="0.7"/>
<polygon points="460.0,658.0 476.0,650.0 484.0,666.0 480.0,682.0 468.0,686.0 462.0,674.0" fill="#eedaaa" stroke="#9a9a9a" stroke-width="0.6" stroke-opacity="0.7"/>
<polygon points="564.0,678.0 572.0,676.0 578.0,690.0 568.0,696.0" fill="#eedaaa" stroke="#9a9a9a" stroke-width="0.6" stroke-opacity="0.7"/>
<polygon points="632.0,662.0 642.0,660.0 644.0,670.0 634.0,670.0" fill="#eedaaa" stroke="#9a9a9a" stroke-width="0.6" stroke-opacity="0.7"/>
<polygon points="100.0,630.0 106.0,628.0 108.0,646.0 100.0,648.0" fill="#eedaaa" stroke="#9a9a9a" stroke-width="0.6" stroke-opacity="0.7"/>
<polygon points="788.0,670.0 796.0,666.0 796.0,686.0" fill="#eedaaa" stroke="#9a9a9a" stroke-width="0.6" stroke-opacity="0.7"/>
<polygon points="300.0,618.0 308.0,616.0 312.0,626.0 302.0,626.0" fill="#eedaaa" stroke="#9a9a9a" stroke-width="0.6" stroke-opacity="0.7"/>
<polygon points="524.0,926.0 536.0,924.0 540.0,934.0 528.0,936.0" fill="#eedaaa" stroke="#9a9a9a" stroke-width="0.6" stroke-opacity="0.7"/>
<rect x="101" y="952" width="694" height="6" fill="#fff"/>
<line x1="210" y1="551.5" x2="210" y2="958" stroke="#ff45ff" stroke-width="2.6" stroke-dasharray="9.2,10"/>
<line x1="253.2" y1="551.5" x2="253.2" y2="958" stroke="#ff45ff" stroke-width="2.6" stroke-dasharray="9.2,10"/>
<line x1="556" y1="551.5" x2="556" y2="958" stroke="#ff45ff" stroke-width="2.6"/>
<line x1="599.2" y1="551.5" x2="599.2" y2="958" stroke="#ff45ff" stroke-width="2.6"/>
<polyline points="144.0,794.0 148.0,730.0 160.0,710.0 180.0,694.0 200.0,686.0 220.0,684.0 240.0,686.0 260.0,690.0 280.0,702.0 300.0,714.0 316.0,730.0 332.0,752.0 328.0,770.0 320.0,782.0 308.0,794.0 308.0,810.0 332.0,810.0 344.0,814.0 360.0,830.0 380.0,846.0 404.0,854.0 416.0,862.0 420.0,882.0 418.0,910.0 396.0,916.0 372.0,914.0 340.0,916.0 316.0,914.0 300.0,902.0 292.0,880.0 276.0,894.0 264.0,910.0 240.0,914.0 212.0,910.0 188.0,902.0 180.0,886.0 172.0,862.0 164.0,838.0 152.0,814.0 144.0,794.0" fill="none" stroke="#a60b2e" stroke-width="2.9" stroke-linejoin="round"/>
<polyline points="160.0,794.0 164.0,754.0 176.0,730.0 192.0,720.0 220.0,718.0 244.0,722.0 268.0,734.0 288.0,750.0 276.0,758.0 260.0,766.0 248.0,778.0 236.0,794.0 236.0,810.0 242.0,830.0 244.0,846.0 240.0,862.0 220.0,868.0 206.0,874.0 192.0,866.0 180.0,846.0 170.0,822.0 160.0,794.0" fill="none" stroke="#a60b2e" stroke-width="2.9" stroke-linejoin="round"/>
<polyline points="188.0,750.0 208.0,746.8 220.0,752.0 206.0,758.0 190.0,758.0 188.0,750.0" fill="none" stroke="#a60b2e" stroke-width="2.9" stroke-linejoin="round"/>
<polyline points="704.0,952.0 724.0,930.0 740.0,902.0 748.0,878.0 764.0,854.0 780.0,838.0 796.0,822.0" fill="none" stroke="#a60b2e" stroke-width="2.9" stroke-linejoin="round"/>
<polyline points="736.0,952.0 748.0,922.0 760.0,894.0 772.0,870.0 788.0,854.0 796.0,846.0" fill="none" stroke="#a60b2e" stroke-width="2.9" stroke-linejoin="round"/>
<polyline points="776.0,952.0 774.0,910.0 780.0,882.0 796.0,858.0" fill="none" stroke="#a60b2e" stroke-width="2.9" stroke-linejoin="round"/>
<polyline points="100.0,746.0 108.0,754.0 116.0,770.0 116.0,798.0 120.0,814.0 132.0,830.0 140.0,854.0 148.0,878.0 152.0,902.0 148.0,922.0 140.0,938.0 132.0,952.0" fill="none" stroke="#a60b2e" stroke-width="2.9" stroke-linejoin="round" stroke-dasharray="11.5,12"/>
<polyline points="100.0,814.0 108.0,830.0 112.0,854.0 112.0,882.0 116.0,910.0 124.0,934.0 130.0,952.0" fill="none" stroke="#a60b2e" stroke-width="2.9" stroke-linejoin="round" stroke-dasharray="11.5,12"/>
<polyline points="512.0,952.0 520.0,946.0 540.0,938.0 560.0,934.0 580.0,942.0 600.0,946.0 620.0,942.0 644.0,934.0 660.0,926.0 676.0,910.0 688.0,894.0 692.0,870.0 688.0,846.0 684.0,822.0 672.0,798.0 668.0,774.0 660.0,750.0 644.0,734.0 620.0,722.0 596.0,710.0 572.0,708.0 540.0,708.0 520.0,712.0 500.0,718.0 480.0,726.0 460.0,716.0 440.0,714.0 420.0,726.0 424.0,750.0 432.0,774.0 440.0,798.0 448.0,822.0 460.0,842.0 472.0,862.0 484.0,870.0 496.0,878.0 504.0,890.0 508.0,910.0 520.0,918.0 532.0,926.0 548.0,926.0 560.0,922.0" fill="none" stroke="#a60b2e" stroke-width="2.9" stroke-linejoin="round" stroke-dasharray="11.5,12"/>
<polyline points="556.0,906.0 548.0,894.0 540.0,882.0 528.0,866.0 516.0,850.0 500.0,838.0 484.0,830.0 472.0,822.0 464.0,798.0 464.0,774.0 484.0,766.0 500.0,762.0 524.0,758.0 540.0,750.0 560.0,738.0 580.0,738.0 600.0,742.0 620.0,750.0 640.0,766.0 652.0,786.0 660.0,810.0 664.0,834.0 660.0,854.0 652.0,870.0 640.0,886.0 628.0,898.0 612.0,906.0 592.0,906.0 576.0,902.0 564.0,894.0 556.0,874.0" fill="none" stroke="#a60b2e" stroke-width="2.9" stroke-linejoin="round" stroke-dasharray="11.5,12"/>
<polyline points="520.0,782.0 532.0,774.0 552.0,766.0 580.0,762.0 600.0,766.0 620.0,778.0 636.0,794.0 644.0,814.0 648.0,830.0 644.0,850.0 636.0,866.0 620.0,874.0 604.0,870.0 592.0,862.0 580.0,846.0 568.0,830.0 556.0,814.0 544.0,798.0 532.0,790.0 520.0,782.0" fill="none" stroke="#a60b2e" stroke-width="2.9" stroke-linejoin="round" stroke-dasharray="11.5,12"/>
<polyline points="552.0,794.0 572.0,786.0 592.0,786.0 608.0,794.0 620.0,814.0 624.0,838.0 616.0,858.0 600.0,854.0 588.0,838.0 576.0,822.0 564.0,806.0 552.0,794.0" fill="none" stroke="#a60b2e" stroke-width="2.9" stroke-linejoin="round" stroke-dasharray="11.5,12"/>
<path d="M137.1,597.2L102.7,599.1M113.5,597.1L102.7,599.1L114.5,599.9" />
<path d="M171.6,597.2L131.9,583.2M149.0,586.2L131.9,583.2L141.0,589.5" />
<path d="M206.1,597.2L200.9,576.6M208.5,583.2L200.9,576.6L196.8,583.6" />
<path d="M240.7,597.2L260.6,579.7M259.0,586.4L260.6,579.7L249.1,584.7" />
<path d="M275.2,597.2L313.8,581.9M305.4,588.6L313.8,581.9L296.7,585.3" />
<path d="M309.8,597.2L353.6,589.8M341.2,594.1L353.6,589.8L337.0,590.4" />
<path d="M344.3,597.2L382.8,589.8M372.2,593.9L382.8,589.8L368.0,590.7" />
<path d="M378.9,597.2L437.2,595.7M418.4,598.6L437.2,595.7L417.5,593.7" />
<path d="M413.4,597.2L447.8,597.3M436.5,598.7L447.8,597.3L436.5,595.8" />
<path d="M137.1,641.5L125.2,643.5M128.6,642.3L125.2,643.5L129.7,643.3" />
<path d="M171.6,641.5L165.1,621.7M172.8,628.0L165.1,621.7L161.6,628.5" />
<path d="M206.1,641.5L198.8,605.8M211.3,617.2L198.8,605.8L191.1,617.9" />
<path d="M240.7,641.5L235.4,609.7M246.2,620.0L235.4,609.7L228.2,620.4" />
<path d="M275.2,641.5L269.9,607.1M281.4,618.2L269.9,607.1L262.0,618.7" />
<path d="M309.8,641.5L300.5,627.5M307.5,631.8L300.5,627.5L299.6,632.5" />
<path d="M344.3,641.5L327.8,632.8M335.7,635.0L327.8,632.8L330.8,636.4" />
<path d="M378.9,641.5L353.6,639.2M362.6,638.9L353.6,639.2L361.3,641.0" />
<path d="M413.4,641.5L378.8,639.8M390.7,638.9L378.8,639.8L389.7,641.8" />
<path d="M137.1,685.8L125.2,688.1M128.5,686.8L125.2,688.1L129.8,687.8" />
<path d="M171.6,685.8L163.7,664.2M172.4,671.0L163.7,664.2L160.2,671.6" />
<path d="M206.1,685.8L204.9,648.2M215.9,660.6L204.9,648.2L194.7,660.7" />
<path d="M240.7,685.8L244.7,656.2M251.8,666.1L244.7,656.2L235.0,665.8" />
<path d="M275.2,685.8L280.6,652.2M288.3,663.5L280.6,652.2L269.3,663.1" />
<path d="M309.8,685.8L311.1,670.8M314.9,675.8L311.1,670.8L306.4,675.7" />
<path d="M344.3,685.8L340.3,673.5M345.1,677.4L340.3,673.5L338.2,677.7" />
<path d="M378.9,685.8L365.5,684.1M370.4,684.1L365.5,684.1L369.5,685.2" />
<path d="M413.4,685.8L389.4,676.9M399.9,678.8L389.4,676.9L394.9,680.8" />
<path d="M137.1,730.0L122.6,733.2M126.4,731.5L122.6,733.2L128.3,732.8" />
<path d="M171.6,730.0L162.4,709.3M171.3,715.8L162.4,709.3L159.6,716.5" />
<path d="M206.1,730.0L203.6,695.5M214.2,706.8L203.6,695.5L194.6,707.0" />
<path d="M240.7,730.0L240.2,700.0M248.9,709.9L240.2,700.0L231.9,709.9" />
<path d="M275.2,730.0L273.9,697.4M283.6,708.1L273.9,697.4L265.1,708.2" />
<path d="M309.8,730.0L301.8,713.3M309.2,718.5L301.8,713.3L299.7,719.1" />
<path d="M344.3,730.0L333.7,719.9M340.0,722.8L333.7,719.9L334.3,723.7" />
<path d="M378.9,730.0L362.9,730.0M368.2,729.4L362.9,730.0L368.2,730.7" />
<path d="M413.4,730.0L392.1,722.6M401.2,724.1L392.1,722.6L397.0,725.9" />
<path d="M137.1,774.2L133.2,775.2M134.2,774.7L133.2,775.2L134.7,775.0" />
<path d="M171.6,774.2L177.0,758.4M179.7,763.9L177.0,758.4L170.7,763.4" />
<path d="M206.1,774.2L215.5,746.5M220.3,756.0L215.5,746.5L204.6,755.3" />
<path d="M240.7,774.2L250.0,746.5M254.8,756.0L250.0,746.5L239.1,755.3" />
<path d="M275.2,774.2L281.9,753.1M285.7,760.4L281.9,753.1L273.7,759.8" />
<path d="M309.8,774.2L309.8,761.9M313.3,766.0L309.8,761.9L306.3,766.0" />
<path d="M344.3,774.2L343.0,764.6M346.2,767.7L343.0,764.6L340.7,767.8" />
<path d="M378.9,774.2L376.2,770.9M378.0,771.9L376.2,770.9L376.1,772.1" />
<path d="M413.4,774.2L408.0,770.4M410.9,771.4L408.0,770.4L408.7,771.9" />
<path d="M102.5,818.5L109.3,828.8M104.1,825.7L109.3,828.8L110.0,825.1" />
<path d="M137.1,818.5L143.8,818.5M141.6,818.8L143.8,818.5L141.6,818.2" />
<path d="M171.6,818.5L179.7,803.6M181.2,808.8L179.7,803.6L172.8,808.2" />
<path d="M206.1,818.5L210.2,794.3M215.7,802.4L210.2,794.3L202.0,802.1" />
<path d="M240.7,818.5L243.4,794.3M249.4,802.4L243.4,794.3L235.6,802.2" />
<path d="M275.2,818.5L277.9,803.6M281.3,808.6L277.9,803.6L272.8,808.4" />
<path d="M309.8,818.5L308.4,807.6M312.0,811.1L308.4,807.6L305.8,811.2" />
<path d="M344.3,818.5L341.6,810.2M344.9,812.8L341.6,810.2L340.2,813.1" />
<path d="M378.9,818.5L372.2,814.2M375.6,815.3L372.2,814.2L373.2,815.9" />
<path d="M413.4,818.5L404.0,815.5M408.0,816.1L404.0,815.5L406.3,816.9" />
<path d="M102.5,862.8L118.6,866.8M112.1,866.1L118.6,866.8L114.4,864.8" />
<path d="M137.1,862.8L151.8,862.8M146.9,863.4L151.8,862.8L146.9,862.2" />
<path d="M171.6,862.8L183.6,850.6M183.1,855.1L183.6,850.6L176.2,854.1" />
<path d="M206.1,862.8L214.2,844.7M216.6,851.0L214.2,844.7L206.4,850.3" />
<path d="M240.7,862.8L239.4,847.4M244.2,852.4L239.4,847.4L235.5,852.5" />
<path d="M275.2,862.8L267.3,852.7M272.8,855.7L267.3,852.7L267.1,856.4" />
<path d="M309.8,862.8L299.2,854.0M305.1,856.5L299.2,854.0L300.2,857.4" />
<path d="M344.3,862.8L331.0,854.0M337.9,856.4L331.0,854.0L332.9,857.5" />
<path d="M378.9,862.8L361.6,856.7M369.0,858.0L361.6,856.7L365.6,859.4" />
<path d="M413.4,862.8L392.1,859.3M400.1,859.6L392.1,859.3L398.2,861.4" />
<path d="M102.5,907.0L123.9,911.1M115.7,910.7L123.9,911.1L118.0,908.9" />
<path d="M137.1,907.0L157.1,910.6M149.5,910.2L157.1,910.6L151.5,908.6" />
<path d="M171.6,907.0L190.3,896.5M187.1,900.8L190.3,896.5L181.1,899.2" />
<path d="M206.1,907.0L218.2,897.3M216.9,901.0L218.2,897.3L211.5,900.0" />
<path d="M240.7,907.0L243.4,901.8M244.0,903.7L243.4,901.8L241.0,903.4" />
<path d="M275.2,907.0L267.3,906.9M269.9,906.6L267.3,906.9L269.9,907.3" />
<path d="M309.8,907.0L296.5,901.8M302.3,903.0L296.5,901.8L299.4,904.1" />
<path d="M344.3,907.0L320.4,901.0M330.0,902.0L320.4,901.0L326.6,904.0" />
<path d="M378.9,907.0L346.9,901.8M359.0,902.2L346.9,901.8L356.0,904.9" />
<path d="M413.4,907.0L376.2,901.8M389.9,902.0L376.2,901.8L387.0,905.1" />
<path d="M448.0,597.2L462.3,601.0M456.5,600.3L462.3,601.0L458.6,599.2" />
<path d="M482.5,597.2L479.0,608.9M476.9,604.9L479.0,608.9L483.5,605.2" />
<path d="M517.1,597.2L494.1,613.7M497.0,607.3L494.1,613.7L506.4,609.3" />
<path d="M551.6,597.2L496.8,615.1M509.8,606.9L496.8,615.1L519.9,611.5" />
<path d="M586.2,597.2L508.7,620.4M527.7,609.5L508.7,620.4L540.8,616.0" />
<path d="M620.8,597.2L524.7,617.7M550.6,606.9L524.7,617.7L562.2,615.0" />
<path d="M655.3,597.2L556.5,610.5M585.4,602.0L556.5,610.5L592.9,610.3" />
<path d="M689.8,597.2L630.9,601.8M649.1,597.8L630.9,601.8L651.6,602.8" />
<path d="M724.4,597.2L673.4,592.5M691.6,591.9L673.4,592.5L688.9,596.2" />
<path d="M758.9,597.2L723.8,589.3M737.7,590.5L723.8,589.3L733.2,593.4" />
<path d="M793.5,597.2L776.9,584.0M786.1,587.7L776.9,584.0L778.6,589.1" />
<path d="M448.0,641.5L408.1,652.2M418.2,647.0L408.1,652.2L424.3,650.4" />
<path d="M482.5,641.5L445.0,653.6M454.0,648.0L445.0,653.6L460.8,651.2" />
<path d="M517.1,641.5L473.7,665.5M481.2,655.8L473.7,665.5L494.8,659.4" />
<path d="M551.6,641.5L514.0,664.7M519.9,655.5L514.0,664.7L533.0,658.6" />
<path d="M586.2,641.5L560.5,668.2M561.4,658.3L560.5,668.2L576.5,660.4" />
<path d="M620.8,641.5L605.6,657.5M606.1,651.6L605.6,657.5L615.2,652.9" />
<path d="M655.3,641.5L654.2,654.9M650.8,650.4L654.2,654.9L658.4,650.5" />
<path d="M689.8,641.5L691.9,640.8M691.4,641.1L691.9,640.8L691.1,641.0" />
<path d="M724.4,641.5L737.1,640.3M733.2,641.2L737.1,640.3L732.6,640.2" />
<path d="M758.9,641.5L774.3,630.2M772.4,634.6L774.3,630.2L766.0,633.3" />
<path d="M448.0,685.8L416.1,688.6M425.8,686.3L416.1,688.6L427.4,689.0" />
<path d="M482.5,685.8L450.8,691.3M459.7,688.1L450.8,691.3L462.9,690.8" />
<path d="M517.1,685.8L489.6,702.7M493.9,695.9L489.6,702.7L503.5,698.2" />
<path d="M551.6,685.8L530.5,705.3M531.9,698.0L530.5,705.3L543.0,699.8" />
<path d="M586.2,685.8L578.3,709.3M574.2,701.2L578.3,709.3L587.6,701.9" />
<path d="M620.8,685.8L625.6,701.4M619.6,696.4L625.6,701.4L628.4,696.0" />
<path d="M655.3,685.8L672.8,696.6M664.0,693.7L672.8,696.6L670.1,692.3" />
<path d="M689.8,685.8L711.3,691.5M702.6,690.5L711.3,691.5L705.9,688.7" />
<path d="M724.4,685.8L741.1,688.1M734.9,688.0L741.1,688.1L736.2,686.6" />
<path d="M758.9,685.8L771.6,687.0M767.1,687.1L771.6,687.0L767.8,686.1" />
<path d="M448.0,730.0L424.0,733.7M430.9,731.5L424.0,733.7L433.0,733.5" />
<path d="M482.5,730.0L460.9,732.7M467.3,730.9L460.9,732.7L468.8,732.7" />
<path d="M517.1,730.0L500.2,741.7M502.5,737.1L500.2,741.7L509.1,738.6" />
<path d="M551.6,730.0L541.9,748.6M539.9,742.1L541.9,748.6L550.4,742.9" />
<path d="M586.2,730.0L587.9,748.6M582.0,742.5L587.9,748.6L592.6,742.4" />
<path d="M620.8,730.0L634.9,745.2M625.9,740.8L634.9,745.2L634.5,739.6" />
<path d="M655.3,730.0L681.3,743.3M669.0,740.0L681.3,743.3L676.5,737.8" />
<path d="M689.8,730.0L721.2,743.8M706.9,740.6L721.2,743.8L714.7,738.0" />
<path d="M724.4,730.0L755.7,739.1M742.8,737.4L755.7,739.1L747.9,734.8" />
<path d="M758.9,730.0L792.8,730.0M781.7,731.4L792.8,730.0L781.7,728.6" />
<path d="M448.0,774.2L437.3,776.2M440.3,775.1L437.3,776.2L441.4,776.0" />
<path d="M482.5,774.2L467.6,777.0M471.7,775.5L467.6,777.0L473.3,776.7" />
<path d="M517.1,774.2L503.4,785.0M504.9,780.9L503.4,785.0L511.0,782.0" />
<path d="M551.6,774.2L544.6,791.6M542.0,785.6L544.6,791.6L551.8,786.2" />
<path d="M586.2,774.2L589.7,790.3M584.0,785.2L589.7,790.3L593.1,784.9" />
<path d="M620.8,774.2L635.7,791.1M626.0,786.2L635.7,791.1L635.5,784.9" />
<path d="M655.3,774.2L681.3,787.7M668.9,784.3L681.3,787.7L676.5,782.1" />
<path d="M689.8,774.2L723.8,799.6M705.4,792.7L723.8,799.6L719.8,789.8" />
<path d="M724.4,774.2L763.6,785.0M747.6,783.1L763.6,785.0L753.7,779.8" />
<path d="M758.9,774.2L792.8,770.4M782.8,773.1L792.8,770.4L780.6,770.2" />
<path d="M448.0,818.5L436.0,818.7M439.9,818.1L436.0,818.7L440.0,819.2" />
<path d="M482.5,818.5L465.7,823.0M470.0,820.8L465.7,823.0L472.5,822.2" />
<path d="M517.1,818.5L499.4,830.9M501.7,826.1L499.4,830.9L508.8,827.6" />
<path d="M551.6,818.5L537.9,834.7M537.9,828.7L537.9,834.7L547.0,829.9" />
<path d="M586.2,818.5L580.4,832.8M578.3,827.8L580.4,832.8L586.4,828.3" />
<path d="M620.8,818.5L624.2,839.4M617.2,832.7L624.2,839.4L629.0,832.4" />
<path d="M655.3,818.5L672.0,840.8M660.2,834.1L672.0,840.8L672.8,832.7" />
<path d="M689.8,818.5L719.8,848.7M701.4,840.0L719.8,848.7L718.5,837.5" />
<path d="M724.4,818.5L769.0,830.1M751.0,828.2L769.0,830.1L757.5,824.4" />
<path d="M758.9,818.5L791.5,814.2M782.0,817.0L791.5,814.2L779.6,814.3" />
<path d="M448.0,862.8L426.4,863.9M433.2,862.6L426.4,863.9L433.9,864.4" />
<path d="M482.5,862.8L455.6,866.0M463.6,863.8L455.6,866.0L465.4,866.0" />
<path d="M517.1,862.8L494.9,873.4M499.2,869.0L494.9,873.4L505.3,870.8" />
<path d="M551.6,862.8L534.8,877.1M536.3,871.7L534.8,877.1L544.4,873.1" />
<path d="M586.2,862.8L575.6,876.1M575.4,871.2L575.6,876.1L582.9,872.1" />
<path d="M620.8,862.8L620.3,885.9M613.9,878.2L620.3,885.9L627.0,878.3" />
<path d="M655.3,862.8L672.0,883.2M660.7,877.2L672.0,883.2L672.3,875.8" />
<path d="M689.8,862.8L729.1,888.6M708.9,881.7L729.1,888.6L723.5,878.4" />
<path d="M724.4,862.8L780.9,874.5M758.9,873.0L780.9,874.5L765.6,868.2" />
<path d="M758.9,862.8L792.8,860.7M782.3,862.8L792.8,860.7L781.1,859.9" />
<path d="M448.0,907.0L413.4,908.5M424.4,906.5L413.4,908.5L425.2,909.4" />
<path d="M482.5,907.0L445.0,909.0M456.8,906.8L445.0,909.0L458.0,909.9" />
<path d="M517.1,907.0L483.5,909.0M494.0,906.9L483.5,909.0L495.2,909.7" />
<path d="M551.6,907.0L524.7,919.6M530.0,914.3L524.7,919.6L537.1,916.6" />
<path d="M586.2,907.0L571.9,920.4M572.8,915.4L571.9,920.4L580.4,916.6" />
<path d="M620.8,907.0L625.0,924.4M618.7,918.8L625.0,924.4L628.5,918.5" />
<path d="M655.3,907.0L682.7,909.8M672.8,910.0L682.7,909.8L674.4,907.7" />
<path d="M689.8,907.0L738.4,916.4M719.7,915.4L738.4,916.4L725.1,911.3" />
<path d="M724.4,907.0L787.5,924.9M761.6,921.7L787.5,924.9L771.8,916.4" />
<path d="M758.9,907.0L791.5,904.5M781.5,906.7L791.5,904.5L780.1,904.0" />
<path d="M102.5,553.0L84.5,554.0" style="stroke-width:2.6"/>
<path d="M137.1,553.0L118.1,554.0" style="stroke-width:2.6"/>
<path d="M171.6,553.0L151.6,554.0" style="stroke-width:2.6"/>
<path d="M206.1,553.0L185.1,554.0" style="stroke-width:2.6"/>
<path d="M240.7,553.0L218.7,554.0" style="stroke-width:2.6"/>
<path d="M275.2,553.0L265.2,554.0" style="stroke-width:2.6"/>
<path d="M309.8,553.0L298.8,554.0" style="stroke-width:2.6"/>
<path d="M344.3,553.0L332.3,554.0" style="stroke-width:2.6"/>
<path d="M378.9,553.0L365.9,554.0" style="stroke-width:2.6"/>
<path d="M413.4,553.0L399.4,554.0" style="stroke-width:2.6"/>
<path d="M448.0,553.0L433.0,554.0" style="stroke-width:2.6"/>
<path d="M482.5,553.0L466.5,554.0" style="stroke-width:2.6"/>
<path d="M517.1,553.0L500.1,554.0" style="stroke-width:2.6"/>
<path d="M551.6,553.0L533.6,554.0" style="stroke-width:2.6"/>
<path d="M586.2,553.0L567.2,554.0" style="stroke-width:2.6"/>
<path d="M620.8,553.0L600.8,554.0" style="stroke-width:2.6"/>
<path d="M655.3,553.0L634.3,554.0" style="stroke-width:2.6"/>
<path d="M689.8,553.0L667.8,554.0" style="stroke-width:2.6"/>
<path d="M724.4,553.0L714.4,554.0" style="stroke-width:2.6"/>
<path d="M758.9,553.0L747.9,554.0" style="stroke-width:2.6"/>
<path d="M793.5,553.0L781.5,554.0" style="stroke-width:2.6"/>
<path d="M102.5,951.2L85.5,949.2" style="stroke-width:2.6"/>
<path d="M137.1,951.2L121.1,950.2" style="stroke-width:2.6"/>
<path d="M171.6,951.2L156.6,951.2" style="stroke-width:2.6"/>
<path d="M206.1,951.2L192.1,952.2" style="stroke-width:2.6"/>
<path d="M240.7,951.2L227.7,953.2" style="stroke-width:2.6"/>
<path d="M275.2,951.2L263.2,949.2" style="stroke-width:2.6"/>
<path d="M309.8,951.2L287.8,950.2" style="stroke-width:2.6"/>
<path d="M344.3,951.2L323.3,951.2" style="stroke-width:2.6"/>
<path d="M378.9,951.2L358.9,952.2" style="stroke-width:2.6"/>
<path d="M413.4,951.2L394.4,953.2" style="stroke-width:2.6"/>
<path d="M448.0,951.2L430.0,949.2" style="stroke-width:2.6"/>
<path d="M482.5,951.2L465.5,950.2" style="stroke-width:2.6"/>
<path d="M517.1,951.2L501.1,951.2" style="stroke-width:2.6"/>
<path d="M551.6,951.2L536.6,952.2" style="stroke-width:2.6"/>
<path d="M586.2,951.2L572.2,953.2" style="stroke-width:2.6"/>
<path d="M620.8,951.2L607.8,949.2" style="stroke-width:2.6"/>
<path d="M655.3,951.2L643.3,950.2" style="stroke-width:2.6"/>
<path d="M689.8,951.2L667.8,951.2" style="stroke-width:2.6"/>
<path d="M724.4,951.2L703.4,952.2" style="stroke-width:2.6"/>
<path d="M758.9,951.2L738.9,953.2" style="stroke-width:2.6"/>
<path d="M793.5,951.2L774.5,949.2" style="stroke-width:2.6"/>
</g>
<rect x="102.5" y="551.5" width="691" height="405" fill="none" stroke="#262626" stroke-width="3"/>
<line x1="102.5" y1="597.4" x2="111" y2="597.4" stroke="#262626" stroke-width="3"/>
<line x1="793.5" y1="597.4" x2="785" y2="597.4" stroke="#262626" stroke-width="3"/>
<line x1="102.5" y1="641.8" x2="111" y2="641.8" stroke="#262626" stroke-width="3"/>
<line x1="793.5" y1="641.8" x2="785" y2="641.8" stroke="#262626" stroke-width="3"/>
<line x1="102.5" y1="686.2" x2="111" y2="686.2" stroke="#262626" stroke-width="3"/>
<line x1="793.5" y1="686.2" x2="785" y2="686.2" stroke="#262626" stroke-width="3"/>
<line x1="102.5" y1="730.6" x2="111" y2="730.6" stroke="#262626" stroke-width="3"/>
<line x1="793.5" y1="730.6" x2="785" y2="730.6" stroke="#262626" stroke-width="3"/>
<line x1="102.5" y1="774.9" x2="111" y2="774.9" stroke="#262626" stroke-width="3"/>
<line x1="793.5" y1="774.9" x2="785" y2="774.9" stroke="#262626" stroke-width="3"/>
<line x1="102.5" y1="819.3" x2="111" y2="819.3" stroke="#262626" stroke-width="3"/>
<line x1="793.5" y1="819.3" x2="785" y2="819.3" stroke="#262626" stroke-width="3"/>
<line x1="102.5" y1="863.7" x2="111" y2="863.7" stroke="#262626" stroke-width="3"/>
<line x1="793.5" y1="863.7" x2="785" y2="863.7" stroke="#262626" stroke-width="3"/>
<line x1="102.5" y1="908.1" x2="111" y2="908.1" stroke="#262626" stroke-width="3"/>
<line x1="793.5" y1="908.1" x2="785" y2="908.1" stroke="#262626" stroke-width="3"/>
<line x1="102.5" y1="952.5" x2="111" y2="952.5" stroke="#262626" stroke-width="3"/>
<line x1="793.5" y1="952.5" x2="785" y2="952.5" stroke="#262626" stroke-width="3"/>
<line x1="275.2" y1="956.5" x2="275.2" y2="948" stroke="#262626" stroke-width="3"/>
<line x1="275.2" y1="551.5" x2="275.2" y2="560" stroke="#262626" stroke-width="3"/>
<line x1="448.0" y1="956.5" x2="448.0" y2="948" stroke="#262626" stroke-width="3"/>
<line x1="448.0" y1="551.5" x2="448.0" y2="560" stroke="#262626" stroke-width="3"/>
<line x1="620.8" y1="956.5" x2="620.8" y2="948" stroke="#262626" stroke-width="3"/>
<line x1="620.8" y1="551.5" x2="620.8" y2="560" stroke="#262626" stroke-width="3"/>
<text x="94.5" y="563.7" text-anchor="end" class="t" textLength="46.8" lengthAdjust="spacingAndGlyphs">100</text>
<text x="94.5" y="608.1" text-anchor="end" class="t" textLength="46.8" lengthAdjust="spacingAndGlyphs">200</text>
<text x="94.5" y="652.5" text-anchor="end" class="t" textLength="46.8" lengthAdjust="spacingAndGlyphs">300</text>
<text x="94.5" y="696.9" text-anchor="end" class="t" textLength="46.8" lengthAdjust="spacingAndGlyphs">400</text>
<text x="94.5" y="741.3" text-anchor="end" class="t" textLength="46.8" lengthAdjust="spacingAndGlyphs">500</text>
<text x="94.5" y="785.6" text-anchor="end" class="t" textLength="46.8" lengthAdjust="spacingAndGlyphs">600</text>
<text x="94.5" y="830.0" text-anchor="end" class="t" textLength="46.8" lengthAdjust="spacingAndGlyphs">700</text>
<text x="94.5" y="874.4" text-anchor="end" class="t" textLength="46.8" lengthAdjust="spacingAndGlyphs">800</text>
<text x="94.5" y="918.8" text-anchor="end" class="t" textLength="46.8" lengthAdjust="spacingAndGlyphs">900</text>
<text x="94.5" y="963.2" text-anchor="end" class="t" textLength="62.3" lengthAdjust="spacingAndGlyphs">1000</text>
<text x="102.5" y="991.5" text-anchor="middle" class="t" textLength="61.7" lengthAdjust="spacingAndGlyphs">10°S</text>
<text x="275.2" y="991.5" text-anchor="middle" class="t" textLength="27.1" lengthAdjust="spacingAndGlyphs">0°</text>
<text x="448.0" y="991.5" text-anchor="middle" class="t" textLength="63.3" lengthAdjust="spacingAndGlyphs">10°N</text>
<text x="620.8" y="991.5" text-anchor="middle" class="t" textLength="63.3" lengthAdjust="spacingAndGlyphs">20°N</text>
<text x="793.5" y="991.5" text-anchor="middle" class="t" textLength="63.3" lengthAdjust="spacingAndGlyphs">30°N</text>
<text x="25" y="754.0" text-anchor="middle" class="t" textLength="198.9" lengthAdjust="spacingAndGlyphs" transform="rotate(-90 25 754.0)">Pressure level</text>
<text x="102.5" y="539" class="ti"><tspan font-weight="bold">(b) P25</tspan> (May 01 – May 05)</text>
<rect x="213" y="973.4" width="36" height="8" fill="#ff45ff"/>
<rect x="556.7" y="973.4" width="36" height="8" fill="#ff45ff"/>
<rect x="570.2" y="958.4" width="9" height="38" fill="#ff45ff"/>
<clipPath id="clipc"><rect x="103.5" y="1064.5" width="689.5" height="401.5"/></clipPath>
<g clip-path="url(#clipc)">
<rect x="100.5" y="1061.5" width="695.5" height="402.5" fill="#faf0e3"/>
<polygon points="100.0,1061.0 148.0,1061.0 156.0,1069.0 132.0,1077.0 100.0,1085.0" fill="#e2f0f0" stroke="#9a9a9a" stroke-width="0.6" stroke-opacity="0.7"/>
<polygon points="100.0,1169.0 124.0,1161.0 148.0,1141.0 172.0,1141.0 192.0,1157.0 204.0,1173.0 220.0,1177.0 240.0,1169.0 260.0,1173.0 272.0,1165.0 292.0,1161.0 316.0,1157.0 332.0,1153.0 348.0,1165.0 372.0,1177.0 396.0,1173.0 420.0,1169.0 452.0,1169.0 456.0,1193.0 452.0,1213.0 460.0,1229.0 472.0,1241.0 484.0,1253.0 500.0,1265.0 516.0,1269.0 524.0,1285.0 524.0,1317.0 516.0,1341.0 524.0,1373.0 532.0,1401.0 540.0,1421.0 548.0,1445.0 556.0,1463.0 100.0,1463.0" fill="#e2f0f0" stroke="#9a9a9a" stroke-width="0.6" stroke-opacity="0.7"/>
<polygon points="100.0,1213.0 116.0,1209.0 128.0,1221.0 116.0,1229.0 100.0,1225.0" fill="#faf0e3" stroke="#9a9a9a" stroke-width="0.6" stroke-opacity="0.7"/>
<polygon points="124.0,1261.0 140.0,1253.0 156.0,1261.0 160.0,1285.0 148.0,1301.0 132.0,1293.0" fill="#faf0e3" stroke="#9a9a9a" stroke-width="0.6" stroke-opacity="0.7"/>
<polygon points="100.0,1301.0 112.0,1297.0 124.0,1321.0 132.0,1349.0 124.0,1381.0 112.0,1405.0 100.0,1413.0" fill="#faf0e3" stroke="#9a9a9a" stroke-width="0.6" stroke-opacity="0.7"/>
<polygon points="232.0,1357.0 240.0,1353.0 252.0,1373.0 244.0,1389.0 234.0,1381.0" fill="#faf0e3" stroke="#9a9a9a" stroke-width="0.6" stroke-opacity="0.7"/>
<polygon points="276.0,1463.0 288.0,1433.0 300.0,1421.0 308.0,1445.0 316.0,1463.0" fill="#faf0e3" stroke="#9a9a9a" stroke-width="0.6" stroke-opacity="0.7"/>
<polygon points="388.0,1463.0 392.0,1421.0 404.0,1429.0 404.0,1463.0" fill="#faf0e3" stroke="#9a9a9a" stroke-width="0.6" stroke-opacity="0.7"/>
<polygon points="428.0,1269.0 440.0,1265.0 452.0,1285.0 448.0,1309.0 436.0,1317.0 428.0,1297.0" fill="#faf0e3" stroke="#9a9a9a" stroke-width="0.6" stroke-opacity="0.7"/>
<polygon points="468.0,1085.0 484.0,1073.0 500.0,1069.0 520.0,1061.0 796.0,1061.0 796.0,1197.0 780.0,1205.0 764.0,1193.0 756.0,1177.0 740.0,1165.0 724.0,1157.0 692.0,1157.0 676.0,1181.0 660.0,1193.0 652.0,1173.0 636.0,1157.0 620.0,1153.0 600.0,1149.0 580.0,1153.0 564.0,1165.0 540.0,1161.0 524.0,1157.0 508.0,1141.0 492.0,1129.0 484.0,1109.0 476.0,1097.0" fill="#e2f0f0" stroke="#9a9a9a" stroke-width="0.6" stroke-opacity="0.7"/>
<polygon points="692.0,1109.0 708.0,1105.0 716.0,1113.0 700.0,1117.0" fill="#faf0e3" stroke="#9a9a9a" stroke-width="0.6" stroke-opacity="0.7"/>
<polygon points="736.0,1125.0 756.0,1123.0 760.0,1137.0 740.0,1141.0" fill="#faf0e3" stroke="#9a9a9a" stroke-width="0.6" stroke-opacity="0.7"/>
<polygon points="548.0,1221.0 572.0,1213.0 596.0,1209.0 620.0,1221.0 644.0,1229.0 668.0,1229.0 684.0,1241.0 688.0,1269.0 676.0,1285.0 660.0,1301.0 652.0,1321.0 636.0,1341.0 620.0,1353.0 604.0,1341.0 596.0,1317.0 588.0,1285.0 572.0,1269.0 556.0,1253.0" fill="#e2f0f0" stroke="#9a9a9a" stroke-width="0.6" stroke-opacity="0.7"/>
<polygon points="600.0,1365.0 620.0,1361.0 640.0,1373.0 644.0,1393.0 628.0,1401.0 608.0,1397.0 596.0,1381.0" fill="#e2f0f0" stroke="#9a9a9a" stroke-width="0.6" stroke-opacity="0.7"/>
<polygon points="740.0,1421.0 760.0,1413.0 780.0,1421.0 796.0,1413.0 796.0,1463.0 740.0,1463.0" fill="#e2f0f0" stroke="#9a9a9a" stroke-width="0.6" stroke-opacity="0.7"/>
<polygon points="764.0,1229.0 780.0,1221.0 796.0,1229.0 796.0,1285.0 780.0,1277.0 772.0,1261.0" fill="#e2f0f0" stroke="#9a9a9a" stroke-width="0.6" stroke-opacity="0.7"/>
<polygon points="724.0,1261.0 740.0,1253.0 748.0,1285.0 740.0,1317.0 728.0,1309.0" fill="#e2f0f0" stroke="#9a9a9a" stroke-width="0.6" stroke-opacity="0.7"/>
<polygon points="100.0,1105.0 124.0,1099.0 152.0,1089.0 172.0,1081.0 196.0,1079.0 220.0,1081.0 244.0,1079.0 260.0,1085.0 276.0,1077.0 292.0,1071.0 324.0,1073.0 356.0,1071.0 388.0,1073.0 420.0,1073.0 436.0,1077.0 448.0,1085.0 440.0,1093.0 428.0,1105.0 428.0,1121.0 420.0,1133.0 404.0,1141.0 380.0,1143.0 356.0,1145.0 340.0,1149.0 324.0,1153.0 316.0,1161.0 292.0,1169.0 280.0,1161.0 268.0,1157.0 260.0,1149.0 252.0,1141.0 220.0,1125.0 196.0,1129.0 180.0,1125.0 152.0,1129.0 132.0,1125.0 116.0,1133.0 100.0,1141.0" fill="#eedaaa" stroke="#9a9a9a" stroke-width="0.6" stroke-opacity="0.7"/>
<polygon points="156.0,1101.0 172.0,1091.0 192.0,1085.0 216.0,1085.0 236.0,1089.0 248.0,1101.0 244.0,1113.0 228.0,1117.0 212.0,1115.0 196.0,1121.0 180.0,1121.0 160.0,1113.0" fill="#d6b067" stroke="#9a9a9a" stroke-width="0.6" stroke-opacity="0.7"/>
<polygon points="284.0,1081.0 300.0,1077.0 324.0,1079.0 348.0,1077.0 380.0,1079.0 404.0,1077.0 428.0,1079.0 436.0,1087.0 428.0,1097.0 420.0,1109.0 404.0,1121.0 380.0,1123.0 356.0,1125.0 332.0,1123.0 316.0,1117.0 304.0,1105.0 292.0,1093.0" fill="#d6b067" stroke="#9a9a9a" stroke-width="0.6" stroke-opacity="0.7"/>
<polygon points="262.0,1105.0 272.0,1099.0 282.0,1105.0 284.0,1129.0 276.0,1145.0 266.0,1141.0 262.0,1125.0" fill="#d6b067" stroke="#9a9a9a" stroke-width="0.6" stroke-opacity="0.7"/>
<polygon points="164.0,1101.0 176.0,1095.0 196.0,1095.0 208.0,1101.0 200.0,1109.0 184.0,1113.0 168.0,1111.0" fill="#b67827" stroke="#9a9a9a" stroke-width="0.6" stroke-opacity="0.7"/>
<polygon points="316.0,1093.0 324.0,1085.0 340.0,1083.0 356.0,1093.0 364.0,1101.0 356.0,1111.0 340.0,1113.0 324.0,1111.0" fill="#b67827" stroke="#9a9a9a" stroke-width="0.6" stroke-opacity="0.7"/>
<polygon points="400.0,1085.0 416.0,1083.0 432.0,1087.0 420.0,1095.0 404.0,1095.0" fill="#b67827" stroke="#9a9a9a" stroke-width="0.6" stroke-opacity="0.7"/>
<polygon points="172.0,1104.2 184.0,1101.0 196.0,1103.0 190.0,1109.0 176.0,1109.8" fill="#874e0a" stroke="#9a9a9a" stroke-width="0.6" stroke-opacity="0.7"/>
<polygon points="286.0,1105.0 292.0,1101.0 298.0,1109.0 292.0,1121.0 287.2,1115.0" fill="#faf0e3" stroke="#9a9a9a" stroke-width="0.6" stroke-opacity="0.7"/>
<polygon points="653.2,1069.0 684.8,1066.2 724.8,1066.2 762.0,1085.0 751.2,1103.4 738.0,1114.2 764.8,1140.6 764.8,1167.4 751.2,1185.8 724.8,1199.0 700.8,1209.8 690.4,1220.2 692.8,1247.0 684.8,1286.6 679.6,1247.0 679.6,1209.8 684.8,1172.6 674.4,1156.6 658.4,1140.6 663.6,1114.2 658.4,1093.0" fill="#addfd8" stroke="#9a9a9a" stroke-width="0.6" stroke-opacity="0.7"/>
<polygon points="504.0,1097.0 520.0,1085.0 548.0,1077.0 580.0,1073.0 612.0,1073.0 636.0,1073.0 660.0,1077.0 676.0,1085.0 676.0,1101.0 660.0,1109.0 644.0,1117.0 620.0,1113.0 596.0,1129.0 580.0,1137.0 564.0,1129.0 540.0,1121.0 520.0,1117.0 508.0,1109.0" fill="#addfd8" stroke="#9a9a9a" stroke-width="0.6" stroke-opacity="0.7"/>
<polygon points="540.0,1093.0 560.0,1085.0 588.0,1081.0 612.0,1085.0 636.0,1081.0 656.0,1085.0 652.0,1093.0 632.0,1097.0 616.0,1105.0 600.0,1113.0 580.0,1109.0 556.0,1105.0" fill="#6cbeb3" stroke="#9a9a9a" stroke-width="0.6" stroke-opacity="0.7"/>
<polygon points="572.0,1087.0 588.0,1085.0 590.0,1093.0 578.0,1093.0" fill="#2c8e86" stroke="#9a9a9a" stroke-width="0.6" stroke-opacity="0.7"/>
<polygon points="620.0,1085.0 636.0,1083.0 644.0,1089.0 628.0,1091.0" fill="#2c8e86" stroke="#9a9a9a" stroke-width="0.6" stroke-opacity="0.7"/>
<polygon points="652.0,1073.0 676.0,1069.0 700.0,1067.0 724.0,1067.0 748.0,1077.0 760.0,1085.0 740.0,1097.0 724.0,1105.0 700.0,1105.0 684.0,1101.0 668.0,1093.0" fill="#addfd8" stroke="#9a9a9a" stroke-width="0.6" stroke-opacity="0.7"/>
<polygon points="684.0,1125.0 708.0,1121.0 724.0,1129.0 716.0,1141.0 700.0,1149.0 688.0,1141.0" fill="#addfd8" stroke="#9a9a9a" stroke-width="0.6" stroke-opacity="0.7"/>
<polygon points="688.0,1165.0 708.0,1157.0 740.0,1157.0 760.0,1165.0 764.0,1181.0 748.0,1193.0 724.0,1189.0 700.0,1193.0 692.0,1181.0" fill="#addfd8" stroke="#9a9a9a" stroke-width="0.6" stroke-opacity="0.7"/>
<polygon points="684.0,1201.0 692.0,1197.0 700.0,1229.0 696.0,1261.0 692.0,1293.0 686.0,1285.0 684.0,1245.0" fill="#addfd8" stroke="#9a9a9a" stroke-width="0.6" stroke-opacity="0.7"/>
<polygon points="140.0,1197.0 160.0,1193.0 172.0,1199.0 164.0,1209.0 148.0,1211.0 144.0,1205.0" fill="#addfd8" stroke="#9a9a9a" stroke-width="0.6" stroke-opacity="0.7"/>
<polygon points="188.0,1249.0 204.0,1229.0 220.0,1221.0 224.0,1237.0 220.0,1261.0 212.0,1277.0 204.0,1301.0 196.0,1297.0 192.0,1277.0" fill="#addfd8" stroke="#9a9a9a" stroke-width="0.6" stroke-opacity="0.7"/>
<polygon points="256.0,1237.0 268.0,1225.0 284.0,1225.0 300.0,1229.0 300.0,1249.0 288.0,1261.0 276.0,1285.0 268.0,1305.0 260.0,1293.0 256.0,1269.0" fill="#addfd8" stroke="#9a9a9a" stroke-width="0.6" stroke-opacity="0.7"/>
<polygon points="324.0,1329.0 332.0,1325.0 348.0,1327.0 350.0,1349.0 340.0,1357.0 328.0,1345.0" fill="#addfd8" stroke="#9a9a9a" stroke-width="0.6" stroke-opacity="0.7"/>
<polygon points="216.0,1389.0 224.0,1381.0 228.0,1397.0 222.0,1405.0 216.0,1401.0" fill="#addfd8" stroke="#9a9a9a" stroke-width="0.6" stroke-opacity="0.7"/>
<polygon points="180.0,1463.0 182.0,1421.0 188.0,1417.0 196.0,1463.0" fill="#addfd8" stroke="#9a9a9a" stroke-width="0.6" stroke-opacity="0.7"/>
<polygon points="320.0,1445.0 332.0,1421.0 344.0,1405.0 356.0,1425.0 348.0,1445.0 332.0,1453.0" fill="#addfd8" stroke="#9a9a9a" stroke-width="0.6" stroke-opacity="0.7"/>
<polygon points="364.0,1421.0 380.0,1413.0 388.0,1429.0 384.0,1463.0 372.0,1463.0" fill="#addfd8" stroke="#9a9a9a" stroke-width="0.6" stroke-opacity="0.7"/>
<polygon points="432.0,1463.0 436.0,1437.0 452.0,1425.0 476.0,1425.0 492.0,1437.0 508.0,1449.0 524.0,1463.0" fill="#addfd8" stroke="#9a9a9a" stroke-width="0.6" stroke-opacity="0.7"/>
<polygon points="532.0,1401.0 538.0,1389.0 544.0,1409.0 540.0,1425.0 534.0,1421.0" fill="#addfd8" stroke="#9a9a9a" stroke-width="0.6" stroke-opacity="0.7"/>
<polygon points="100.0,1437.0 116.0,1433.0 132.0,1453.0 140.0,1463.0 100.0,1463.0" fill="#addfd8" stroke="#9a9a9a" stroke-width="0.6" stroke-opacity="0.7"/>
<polygon points="756.0,1445.0 768.0,1437.0 780.0,1463.0 756.0,1463.0" fill="#addfd8" stroke="#9a9a9a" stroke-width="0.6" stroke-opacity="0.7"/>
<polygon points="568.0,1433.0 580.0,1425.0 596.0,1413.0 612.0,1405.0 628.0,1405.0 644.0,1409.0 652.0,1401.0 660.0,1373.0 668.0,1357.0 680.0,1341.0 692.0,1333.0 704.0,1341.0 712.0,1365.0 720.0,1389.0 728.0,1413.0 740.0,1421.0 740.0,1463.0 568.0,1463.0" fill="#eedaaa" stroke="#9a9a9a" stroke-width="0.6" stroke-opacity="0.7"/>
<polygon points="588.0,1437.0 604.0,1429.0 620.0,1433.0 628.0,1445.0 624.0,1463.0 592.0,1463.0" fill="#d6b067" stroke="#9a9a9a" stroke-width="0.6" stroke-opacity="0.7"/>
<polygon points="668.0,1437.0 676.0,1435.0 684.0,1463.0 668.0,1463.0" fill="#d6b067" stroke="#9a9a9a" stroke-width="0.6" stroke-opacity="0.7"/>
<polygon points="684.0,1349.0 696.0,1345.0 704.0,1373.0 708.0,1401.0 716.0,1421.0 724.0,1441.0 720.0,1463.0 700.0,1463.0 692.0,1441.0 684.0,1409.0 680.0,1381.0" fill="#d6b067" stroke="#9a9a9a" stroke-width="0.6" stroke-opacity="0.7"/>
<polygon points="688.0,1353.0 696.0,1351.0 700.0,1373.0 692.0,1377.0" fill="#b67827" stroke="#9a9a9a" stroke-width="0.6" stroke-opacity="0.7"/>
<polygon points="732.0,1341.0 740.0,1317.0 748.0,1285.0 756.0,1253.0 764.0,1229.0 772.0,1213.0 780.0,1193.0 788.0,1197.0 788.0,1221.0 780.0,1241.0 772.0,1269.0 764.0,1301.0 756.0,1333.0 748.0,1353.0 740.0,1365.0 732.0,1365.0" fill="#eedaaa" stroke="#9a9a9a" stroke-width="0.6" stroke-opacity="0.7"/>
<polygon points="740.0,1325.0 748.0,1321.0 752.0,1345.0 744.0,1349.0" fill="#d6b067" stroke="#9a9a9a" stroke-width="0.6" stroke-opacity="0.7"/>
<polygon points="648.0,1381.0 660.0,1373.0 668.0,1389.0 664.0,1405.0 652.0,1405.0" fill="#d6b067" stroke="#9a9a9a" stroke-width="0.6" stroke-opacity="0.7"/>
<rect x="100.5" y="1463" width="695.5" height="6" fill="#fff"/>
<line x1="339.5" y1="1063.0" x2="339.5" y2="1469" stroke="#ff45ff" stroke-width="2.6" stroke-dasharray="9.2,10"/>
<line x1="382.5" y1="1063.0" x2="382.5" y2="1469" stroke="#ff45ff" stroke-width="2.6" stroke-dasharray="9.2,10"/>
<line x1="599.5" y1="1063.0" x2="599.5" y2="1469" stroke="#ff45ff" stroke-width="2.6"/>
<line x1="642.5" y1="1063.0" x2="642.5" y2="1469" stroke="#ff45ff" stroke-width="2.6"/>
<polyline points="244.0,1241.0 252.0,1229.0 264.0,1213.0 276.0,1197.0 292.0,1193.0 312.0,1189.0 340.0,1191.0 360.0,1197.0 380.0,1213.0 400.0,1229.0 420.0,1249.0 432.0,1265.0 440.0,1289.0 448.0,1313.0 456.0,1341.0 462.0,1373.0 466.0,1397.0 460.0,1417.0 444.0,1429.0 420.0,1437.0 396.0,1437.0 372.0,1431.0 348.0,1427.0 324.0,1421.0 316.0,1413.0 304.0,1393.0 296.0,1373.0 294.0,1349.0 294.0,1329.0 292.0,1309.0 276.0,1297.0 260.0,1281.0 244.0,1265.0 242.0,1253.0 244.0,1241.0" fill="none" stroke="#a60b2e" stroke-width="2.9" stroke-linejoin="round"/>
<polyline points="308.0,1263.0 324.0,1257.0 344.0,1251.0 364.0,1249.8 380.0,1255.0 390.0,1263.0 394.0,1277.0 398.0,1297.0 416.0,1307.0 430.0,1315.0 436.0,1333.0 440.0,1357.0 438.0,1377.0 432.0,1393.0 420.0,1409.0 414.0,1419.0 404.0,1413.0 392.0,1401.0 390.0,1389.0 398.0,1373.0 400.0,1349.0 398.0,1325.0 396.0,1317.0 380.0,1329.0 376.0,1309.0 364.0,1297.0 348.0,1289.0 332.0,1281.0 316.0,1269.0 308.0,1263.0" fill="none" stroke="#a60b2e" stroke-width="2.9" stroke-linejoin="round"/>
<polyline points="330.0,1353.0 336.0,1341.0 346.0,1337.0 360.0,1341.0 372.0,1352.2 360.0,1365.0 352.0,1377.0 344.0,1379.8 338.0,1375.0 334.0,1365.0 330.0,1353.0" fill="none" stroke="#a60b2e" stroke-width="2.9" stroke-linejoin="round"/>
<polyline points="172.0,1237.0 180.0,1241.0 186.0,1261.0 178.0,1273.0 168.0,1285.0 174.0,1289.0 172.0,1311.0 152.0,1313.0 150.0,1305.0 156.0,1289.0 166.0,1283.0 160.0,1273.0 154.0,1263.0 162.0,1245.0 172.0,1237.0" fill="none" stroke="#a60b2e" stroke-width="2.9" stroke-linejoin="round"/>
<polyline points="186.0,1377.0 190.0,1359.0 196.0,1375.0 186.0,1377.0" fill="none" stroke="#a60b2e" stroke-width="2.9" stroke-linejoin="round"/>
<polyline points="678.4,1464.2 707.2,1445.0 726.0,1441.0 739.6,1420.6 742.4,1402.6 738.4,1382.2 742.4,1368.6 756.0,1344.2 773.6,1325.4 798.0,1296.6" fill="none" stroke="#a60b2e" stroke-width="2.9" stroke-linejoin="round"/>
<polyline points="726.0,1464.2 748.0,1450.2 761.6,1423.0 757.2,1395.8 757.2,1375.4 764.0,1357.8 776.4,1344.2 798.0,1333.4" fill="none" stroke="#a60b2e" stroke-width="2.9" stroke-linejoin="round"/>
<polyline points="756.0,1464.2 776.4,1449.0 783.2,1416.2 776.4,1395.8 773.6,1373.0 776.4,1367.4 798.0,1355.0" fill="none" stroke="#a60b2e" stroke-width="2.9" stroke-linejoin="round"/>
<polyline points="100.0,1293.0 108.0,1309.0 116.0,1333.0 114.0,1365.0 112.0,1389.0 108.0,1409.0 100.0,1421.0" fill="none" stroke="#a60b2e" stroke-width="2.9" stroke-linejoin="round" stroke-dasharray="11.5,12"/>
<polyline points="100.0,1421.0 116.0,1437.0 132.0,1453.0 144.0,1463.0" fill="none" stroke="#a60b2e" stroke-width="2.9" stroke-linejoin="round" stroke-dasharray="11.5,12"/>
<polyline points="604.0,1431.0 588.0,1437.0 572.0,1437.0 556.0,1429.0 548.0,1413.0 544.0,1393.0 540.0,1369.0 536.0,1349.0 528.0,1333.0 516.0,1321.0 500.0,1313.0 484.0,1309.0 488.0,1289.0 500.0,1273.0 516.0,1257.0 524.0,1245.0 548.0,1229.0 572.0,1217.0 592.0,1213.0 612.0,1205.0 628.0,1197.0 644.0,1191.0 668.0,1189.8 692.0,1193.0 716.0,1197.0 732.0,1205.0 744.0,1217.0 752.0,1241.0 752.0,1261.0 748.0,1285.0 740.0,1309.0" fill="none" stroke="#a60b2e" stroke-width="2.9" stroke-linejoin="round" stroke-dasharray="11.5,12"/>
<polyline points="564.0,1309.0 572.0,1297.0 588.0,1285.0 604.0,1269.0 620.0,1253.0 636.0,1237.0 656.0,1227.0 676.0,1225.0 692.0,1229.0 712.0,1241.0 728.0,1261.0 732.0,1285.0 728.0,1309.0 720.0,1341.0 708.0,1365.0 696.0,1389.0 680.0,1401.0 660.0,1405.0 640.0,1401.0 620.0,1399.0 604.0,1389.0 592.0,1373.0 580.0,1357.0 572.0,1341.0 566.0,1325.0 564.0,1309.0" fill="none" stroke="#a60b2e" stroke-width="2.9" stroke-linejoin="round" stroke-dasharray="11.5,12"/>
<polyline points="604.0,1333.0 608.0,1313.0 620.0,1297.0 636.0,1281.0 652.0,1269.0 668.0,1267.0 684.0,1273.0 700.0,1289.0 708.0,1309.0 704.0,1333.0 692.0,1349.0 676.0,1357.0 660.0,1357.0 644.0,1353.0 628.0,1349.0 616.0,1341.0 604.0,1333.0" fill="none" stroke="#a60b2e" stroke-width="2.9" stroke-linejoin="round" stroke-dasharray="11.5,12"/>
<polyline points="640.0,1329.0 652.0,1317.0 668.0,1317.0 680.0,1329.0 676.0,1345.0 660.0,1357.0 648.0,1353.0 640.0,1341.0 640.0,1329.0" fill="none" stroke="#a60b2e" stroke-width="2.9" stroke-linejoin="round" stroke-dasharray="11.5,12"/>
<polyline points="532.0,1463.0 552.0,1460.2 572.0,1460.2 592.0,1457.0" fill="none" stroke="#a60b2e" stroke-width="2.9" stroke-linejoin="round" stroke-dasharray="11.5,12"/>
<path d="M136.6,1108.3L104.0,1106.7M115.2,1105.8L104.0,1106.7L114.3,1108.6" />
<path d="M171.2,1108.3L105.8,1096.8M130.7,1097.9L105.8,1096.8L124.2,1103.4" />
<path d="M205.8,1108.3L171.7,1094.2M186.9,1097.4L171.7,1094.2L179.0,1100.3" />
<path d="M240.4,1108.3L220.8,1098.2M230.1,1100.7L220.8,1098.2L224.4,1102.3" />
<path d="M275.0,1108.3L269.9,1099.5M274.1,1102.2L269.9,1099.5L269.1,1102.6" />
<path d="M309.6,1108.3L313.8,1100.3M314.6,1103.1L313.8,1100.3L310.1,1102.8" />
<path d="M344.2,1108.3L366.9,1094.2M363.4,1099.8L366.9,1094.2L355.4,1097.9" />
<path d="M378.8,1108.3L417.3,1095.5M408.2,1101.4L417.3,1095.5L401.0,1098.1" />
<path d="M413.4,1108.3L453.2,1095.5M443.7,1101.4L453.2,1095.5L436.4,1098.1" />
<path d="M136.6,1152.6L119.9,1145.4M127.4,1147.1L119.9,1145.4L123.4,1148.5" />
<path d="M171.2,1152.6L158.9,1135.3M167.9,1140.5L158.9,1135.3L158.1,1141.6" />
<path d="M205.8,1152.6L195.6,1132.2M204.7,1138.5L195.6,1132.2L193.2,1139.3" />
<path d="M240.4,1152.6L235.4,1136.7M241.6,1141.7L235.4,1136.7L232.6,1142.1" />
<path d="M275.0,1152.6L275.0,1127.4M282.1,1135.7L275.0,1127.4L267.9,1135.7" />
<path d="M309.6,1152.6L312.4,1134.0M316.8,1140.3L312.4,1134.0L306.2,1140.0" />
<path d="M344.2,1152.6L344.0,1129.5M350.6,1137.1L344.0,1129.5L337.5,1137.1" />
<path d="M378.8,1152.6L376.2,1129.5M383.6,1137.0L376.2,1129.5L370.5,1137.2" />
<path d="M413.4,1152.6L405.4,1130.6M414.3,1137.5L405.4,1130.6L401.8,1138.2" />
<path d="M102.0,1196.9L113.3,1192.4M110.8,1194.4L113.3,1192.4L108.3,1193.4" />
<path d="M136.6,1196.9L147.8,1193.8M145.0,1195.3L147.8,1193.8L143.2,1194.3" />
<path d="M171.2,1196.9L179.7,1182.6M180.9,1187.7L179.7,1182.6L172.8,1187.0" />
<path d="M205.8,1196.9L215.5,1171.2M219.6,1180.1L215.5,1171.2L205.0,1179.3" />
<path d="M240.4,1196.9L254.0,1179.2M254.5,1185.6L254.0,1179.2L244.5,1184.4" />
<path d="M275.0,1196.9L288.5,1167.2M292.5,1177.6L288.5,1167.2L275.7,1176.4" />
<path d="M309.6,1196.9L316.4,1177.8M319.6,1184.4L316.4,1177.8L308.8,1183.8" />
<path d="M344.2,1196.9L344.0,1172.5M351.0,1180.6L344.0,1172.5L337.2,1180.6" />
<path d="M378.8,1196.9L372.2,1172.5M381.3,1180.3L372.2,1172.5L367.5,1180.8" />
<path d="M413.4,1196.9L396.1,1175.2M407.9,1181.6L396.1,1175.2L395.6,1183.1" />
<path d="M102.0,1241.2L111.9,1237.6M109.7,1239.2L111.9,1237.6L107.6,1238.4" />
<path d="M136.6,1241.2L143.8,1241.3M141.4,1241.6L143.8,1241.3L141.5,1241.0" />
<path d="M171.2,1241.2L181.0,1227.0M181.8,1232.1L181.0,1227.0L173.7,1231.2" />
<path d="M205.8,1241.2L218.2,1219.0M220.4,1226.8L218.2,1219.0L207.8,1225.8" />
<path d="M240.4,1241.2L251.4,1227.8M251.5,1232.7L251.4,1227.8L243.9,1231.7" />
<path d="M275.0,1241.2L280.6,1217.7M285.4,1225.7L280.6,1217.7L272.1,1225.2" />
<path d="M309.6,1241.2L307.1,1227.0M312.0,1231.6L307.1,1227.0L303.9,1231.8" />
<path d="M344.2,1241.2L335.0,1219.8M344.1,1226.5L335.0,1219.8L332.0,1227.2" />
<path d="M378.8,1241.2L361.6,1220.3M373.2,1226.5L361.6,1220.3L361.3,1227.9" />
<path d="M413.4,1241.2L389.4,1220.3M403.3,1226.2L389.4,1220.3L391.4,1228.2" />
<path d="M102.0,1285.5L109.3,1284.0M107.3,1284.8L109.3,1284.0L106.5,1284.2" />
<path d="M136.6,1285.5L143.8,1285.6M141.4,1285.9L143.8,1285.6L141.5,1285.3" />
<path d="M171.2,1285.5L182.3,1272.9M182.2,1277.5L182.3,1272.9L175.1,1276.6" />
<path d="M205.8,1285.5L216.8,1272.1M217.0,1277.0L216.8,1272.1L209.4,1276.1" />
<path d="M240.4,1285.5L250.0,1274.8M249.9,1278.7L250.0,1274.8L243.8,1277.9" />
<path d="M275.0,1285.5L283.2,1273.4M283.9,1277.8L283.2,1273.4L277.1,1277.1" />
<path d="M309.6,1285.5L309.5,1275.6M312.4,1278.8L309.5,1275.6L306.7,1278.8" />
<path d="M344.2,1285.5L339.0,1268.1M345.6,1273.6L339.0,1268.1L335.8,1274.1" />
<path d="M378.8,1285.5L365.5,1269.4M374.5,1274.2L365.5,1269.4L365.4,1275.3" />
<path d="M413.4,1285.5L394.7,1269.4M405.4,1274.0L394.7,1269.4L396.4,1275.5" />
<path d="M136.6,1329.8L143.8,1327.1M142.2,1328.3L143.8,1327.1L140.7,1327.7" />
<path d="M171.2,1329.8L179.7,1320.7M179.4,1324.1L179.7,1320.7L174.3,1323.3" />
<path d="M205.8,1329.8L212.9,1322.6M212.6,1325.2L212.9,1322.6L208.5,1324.6" />
<path d="M240.4,1329.8L247.4,1323.9M246.7,1326.1L247.4,1323.9L243.4,1325.5" />
<path d="M275.0,1329.8L283.2,1323.3M282.3,1325.8L283.2,1323.3L278.7,1325.1" />
<path d="M309.6,1329.8L315.1,1325.2M314.6,1327.0L315.1,1325.2L312.0,1326.5" />
<path d="M344.2,1329.8L342.2,1316.4M346.6,1320.8L342.2,1316.4L339.1,1320.9" />
<path d="M378.8,1329.8L370.8,1317.2M377.0,1321.1L370.8,1317.2L369.9,1321.7" />
<path d="M413.4,1329.8L398.7,1315.9M407.5,1319.9L398.7,1315.9L399.6,1321.1" />
<path d="M102.0,1374.1L111.9,1371.7M109.4,1372.9L111.9,1371.7L108.0,1372.1" />
<path d="M136.6,1374.1L146.5,1372.2M143.7,1373.2L146.5,1372.2L142.7,1372.4" />
<path d="M171.2,1374.1L179.7,1368.5M178.5,1370.7L179.7,1368.5L175.3,1370.0" />
<path d="M205.8,1374.1L214.2,1369.0M212.9,1371.0L214.2,1369.0L210.0,1370.3" />
<path d="M240.4,1374.1L248.7,1369.0M247.4,1371.0L248.7,1369.0L244.5,1370.3" />
<path d="M275.0,1374.1L283.2,1370.3M281.6,1371.9L283.2,1370.3L279.4,1371.2" />
<path d="M309.6,1374.1L313.8,1370.3M313.4,1371.8L313.8,1370.3L311.3,1371.4" />
<path d="M344.2,1374.1L344.0,1366.4M346.3,1368.9L344.0,1366.4L341.9,1368.9" />
<path d="M378.8,1374.1L372.2,1363.7M377.3,1366.9L372.2,1363.7L371.4,1367.4" />
<path d="M413.4,1374.1L400.1,1365.0M407.0,1367.5L400.1,1365.0L401.9,1368.6" />
<path d="M102.0,1418.4L119.9,1418.9M113.9,1419.5L119.9,1418.9L114.2,1418.0" />
<path d="M136.6,1418.4L153.1,1420.8M147.0,1420.7L153.1,1420.8L148.3,1419.3" />
<path d="M171.2,1418.4L185.0,1416.3M181.0,1417.6L185.0,1416.3L179.8,1416.4" />
<path d="M205.8,1418.4L216.8,1416.8M213.6,1417.8L216.8,1416.8L212.7,1416.9" />
<path d="M240.4,1418.4L250.0,1415.5M247.7,1416.9L250.0,1415.5L246.0,1416.0" />
<path d="M275.0,1418.4L283.2,1418.1M280.6,1418.6L283.2,1418.1L280.4,1417.9" />
<path d="M309.6,1418.4L316.4,1415.5M315.0,1416.7L316.4,1415.5L313.3,1416.2" />
<path d="M344.2,1418.4L344.0,1416.3M344.7,1417.0L344.0,1416.3L343.5,1417.0" />
<path d="M378.8,1418.4L368.2,1412.8M373.3,1414.2L368.2,1412.8L370.1,1415.1" />
<path d="M413.4,1418.4L396.1,1414.2M403.0,1414.8L396.1,1414.2L400.6,1416.3" />
<path d="M448.0,1108.3L464.6,1095.0M462.9,1100.1L464.6,1095.0L455.3,1098.7" />
<path d="M482.6,1108.3L500.4,1100.3M496.8,1103.7L500.4,1100.3L492.3,1102.2" />
<path d="M517.2,1108.3L552.2,1110.9M539.9,1111.5L552.2,1110.9L541.4,1108.6" />
<path d="M551.8,1108.3L574.0,1117.3M564.1,1115.3L574.0,1117.3L569.2,1113.4" />
<path d="M586.4,1108.3L590.7,1120.7M585.8,1116.8L590.7,1120.7L592.8,1116.5" />
<path d="M621.0,1108.3L614.6,1123.4M612.4,1118.1L614.6,1123.4L621.0,1118.7" />
<path d="M655.6,1108.3L650.5,1120.7M648.6,1116.4L650.5,1120.7L655.7,1116.9" />
<path d="M690.2,1108.3L695.6,1114.1M692.2,1112.4L695.6,1114.1L695.5,1112.0" />
<path d="M724.8,1108.3L748.7,1115.4M738.8,1114.1L748.7,1115.4L742.8,1112.1" />
<path d="M759.4,1108.3L792.5,1116.8M779.2,1115.4L792.5,1116.8L784.0,1112.6" />
<path d="M482.6,1152.6L465.9,1148.6M472.5,1149.2L465.9,1148.6L470.3,1150.6" />
<path d="M517.2,1152.6L496.5,1161.4M500.8,1157.6L496.5,1161.4L505.8,1159.3" />
<path d="M551.8,1152.6L529.6,1164.6M533.6,1159.7L529.6,1164.6L540.3,1161.5" />
<path d="M586.4,1152.6L566.8,1174.6M567.0,1166.6L566.8,1174.6L579.5,1168.2" />
<path d="M621.0,1152.6L607.4,1172.0M606.4,1165.0L607.4,1172.0L617.4,1166.2" />
<path d="M655.6,1152.6L655.8,1173.9M649.7,1166.8L655.8,1173.9L661.7,1166.8" />
<path d="M690.2,1152.6L700.9,1165.9M693.6,1162.0L700.9,1165.9L701.1,1161.1" />
<path d="M724.8,1152.6L747.4,1165.9M736.2,1162.4L747.4,1165.9L743.7,1160.6" />
<path d="M759.4,1152.6L792.5,1161.4M779.1,1159.9L792.5,1161.4L784.1,1157.1" />
<path d="M448.0,1196.9L418.7,1185.8M431.5,1188.2L418.7,1185.8L425.2,1190.7" />
<path d="M482.6,1196.9L447.3,1190.6M460.8,1191.2L447.3,1190.6L457.2,1194.1" />
<path d="M517.2,1196.9L479.2,1202.3M490.2,1198.9L479.2,1202.3L493.3,1202.1" />
<path d="M551.8,1196.9L517.7,1207.6M525.9,1202.6L517.7,1207.6L532.0,1205.5" />
<path d="M586.4,1196.9L560.2,1215.5M563.6,1208.3L560.2,1215.5L574.1,1210.5" />
<path d="M621.0,1196.9L605.3,1214.5M605.5,1208.0L605.3,1214.5L615.5,1209.3" />
<path d="M655.6,1196.9L655.8,1218.2M649.7,1211.2L655.8,1218.2L661.7,1211.2" />
<path d="M690.2,1196.9L707.6,1217.1M696.1,1211.2L707.6,1217.1L707.6,1209.7" />
<path d="M724.8,1196.9L750.8,1217.7M736.4,1211.9L750.8,1217.7L748.1,1209.7" />
<path d="M759.4,1196.9L792.5,1212.4M777.2,1208.6L792.5,1212.4L786.0,1205.9" />
<path d="M448.0,1241.2L417.3,1230.9M430.4,1233.0L417.3,1230.9L424.5,1235.6" />
<path d="M482.6,1241.2L447.3,1233.1M461.3,1234.3L447.3,1233.1L456.7,1237.2" />
<path d="M517.2,1241.2L481.8,1241.0M493.6,1239.6L481.8,1241.0L493.5,1242.6" />
<path d="M551.8,1241.2L520.3,1251.7M527.8,1246.9L520.3,1251.7L533.7,1249.5" />
<path d="M586.4,1241.2L562.3,1254.3M566.5,1249.0L562.3,1254.3L574.0,1251.0" />
<path d="M621.0,1241.2L606.6,1259.6M606.2,1252.9L606.6,1259.6L616.6,1254.1" />
<path d="M655.6,1241.2L661.1,1261.5M653.5,1255.0L661.1,1261.5L665.0,1254.6" />
<path d="M690.2,1241.2L710.2,1268.6M695.8,1260.4L710.2,1268.6L711.4,1258.8" />
<path d="M724.8,1241.2L756.7,1264.1M739.7,1257.9L756.7,1264.1L752.6,1255.2" />
<path d="M759.4,1241.2L792.5,1249.5M779.2,1248.2L792.5,1249.5L783.9,1245.4" />
<path d="M448.0,1285.5L426.6,1276.6M436.2,1278.7L426.6,1276.6L431.2,1280.4" />
<path d="M482.6,1285.5L455.3,1275.6M467.1,1277.7L455.3,1275.6L461.5,1280.0" />
<path d="M517.2,1285.5L488.5,1281.9M499.0,1281.9L488.5,1281.9L496.9,1284.3" />
<path d="M551.8,1285.5L527.0,1293.3M533.0,1289.7L527.0,1293.3L537.4,1291.8" />
<path d="M586.4,1285.5L569.5,1298.7M571.3,1293.6L569.5,1298.7L578.8,1295.0" />
<path d="M621.0,1285.5L610.6,1305.8M608.3,1298.7L610.6,1305.8L619.8,1299.6" />
<path d="M655.6,1285.5L661.1,1304.0M654.0,1298.1L661.1,1304.0L664.5,1297.6" />
<path d="M690.2,1285.5L708.9,1319.9M693.0,1309.3L708.9,1319.9L712.5,1307.8" />
<path d="M724.8,1285.5L758.0,1310.6M739.9,1303.7L758.0,1310.6L754.2,1300.9" />
<path d="M759.4,1285.5L792.5,1286.2M781.4,1287.3L792.5,1286.2L781.8,1284.6" />
<path d="M448.0,1329.8L430.6,1318.6M439.5,1321.5L430.6,1318.6L433.2,1323.0" />
<path d="M482.6,1329.8L457.9,1321.8M468.4,1323.4L457.9,1321.8L463.8,1325.4" />
<path d="M517.2,1329.8L488.5,1326.0M499.0,1326.1L488.5,1326.0L496.9,1328.5" />
<path d="M551.8,1329.8L525.1,1335.0M532.4,1332.2L525.1,1335.0L535.4,1334.4" />
<path d="M586.4,1329.8L568.1,1340.3M571.2,1336.1L568.1,1340.3L577.2,1337.6" />
<path d="M621.0,1329.8L608.0,1351.8M606.1,1344.0L608.0,1351.8L618.5,1345.1" />
<path d="M655.6,1329.8L655.8,1353.1M649.1,1345.4L655.8,1353.1L662.3,1345.4" />
<path d="M690.2,1329.8L710.2,1365.8M693.4,1354.8L710.2,1365.8L713.8,1353.1" />
<path d="M724.8,1329.8L762.0,1353.1M743.1,1347.0L762.0,1353.1L756.3,1343.8" />
<path d="M759.4,1329.8L792.5,1326.5M782.5,1329.0L792.5,1326.5L780.7,1326.2" />
<path d="M448.0,1374.1L426.6,1364.2M436.5,1366.6L426.6,1364.2L430.9,1368.4" />
<path d="M482.6,1374.1L456.6,1365.8M467.5,1367.5L456.6,1365.8L462.9,1369.6" />
<path d="M517.2,1374.1L488.5,1370.3M499.0,1370.4L488.5,1370.3L496.9,1372.8" />
<path d="M551.8,1374.1L525.7,1379.1M532.9,1376.4L525.7,1379.1L535.7,1378.6" />
<path d="M586.4,1374.1L568.1,1384.4M571.2,1380.2L568.1,1384.4L577.1,1381.8" />
<path d="M621.0,1374.1L608.0,1396.1M606.0,1388.3L608.0,1396.1L618.5,1389.4" />
<path d="M655.6,1374.1L661.1,1392.9M653.9,1386.9L661.1,1392.9L664.6,1386.5" />
<path d="M690.2,1374.1L716.8,1400.9M700.5,1393.2L716.8,1400.9L715.6,1390.9" />
<path d="M724.8,1374.1L775.3,1392.9M753.3,1388.8L775.3,1392.9L763.9,1384.6" />
<path d="M759.4,1374.1L792.5,1372.2M782.1,1374.2L792.5,1372.2L781.1,1371.4" />
<path d="M448.0,1418.4L421.3,1411.0M432.2,1412.3L421.3,1411.0L428.0,1414.5" />
<path d="M482.6,1418.4L450.0,1412.0M462.5,1412.8L450.0,1412.0L458.9,1415.5" />
<path d="M517.2,1418.4L481.8,1414.2M494.7,1414.1L481.8,1414.2L492.3,1417.0" />
<path d="M551.8,1418.4L517.2,1423.5M527.2,1420.3L517.2,1423.5L530.0,1423.2" />
<path d="M586.4,1418.4L562.3,1429.6M567.1,1424.9L562.3,1429.6L573.4,1426.9" />
<path d="M621.0,1418.4L612.8,1438.1M609.9,1431.2L612.8,1438.1L621.0,1431.9" />
<path d="M655.6,1418.4L667.7,1422.7M662.5,1421.8L667.7,1422.7L664.9,1420.7" />
<path d="M690.2,1418.4L724.8,1426.9M711.0,1425.5L724.8,1426.9L715.8,1422.6" />
<path d="M724.8,1418.4L776.6,1434.1M755.1,1431.1L776.6,1434.1L763.9,1426.7" />
<path d="M759.4,1418.4L792.5,1415.5M782.4,1417.8L792.5,1415.5L780.8,1415.1" />
<path d="M102.0,1064.0L84.0,1065.0" style="stroke-width:2.6"/>
<path d="M136.6,1064.0L117.6,1065.0" style="stroke-width:2.6"/>
<path d="M171.2,1064.0L151.2,1065.0" style="stroke-width:2.6"/>
<path d="M205.8,1064.0L184.8,1065.0" style="stroke-width:2.6"/>
<path d="M240.4,1064.0L218.4,1065.0" style="stroke-width:2.6"/>
<path d="M275.0,1064.0L265.0,1065.0" style="stroke-width:2.6"/>
<path d="M309.6,1064.0L298.6,1065.0" style="stroke-width:2.6"/>
<path d="M344.2,1064.0L332.2,1065.0" style="stroke-width:2.6"/>
<path d="M378.8,1064.0L365.8,1065.0" style="stroke-width:2.6"/>
<path d="M413.4,1064.0L399.4,1065.0" style="stroke-width:2.6"/>
<path d="M448.0,1064.0L433.0,1065.0" style="stroke-width:2.6"/>
<path d="M482.6,1064.0L466.6,1065.0" style="stroke-width:2.6"/>
<path d="M517.2,1064.0L500.2,1065.0" style="stroke-width:2.6"/>
<path d="M551.8,1064.0L533.8,1065.0" style="stroke-width:2.6"/>
<path d="M586.4,1064.0L567.4,1065.0" style="stroke-width:2.6"/>
<path d="M621.0,1064.0L601.0,1065.0" style="stroke-width:2.6"/>
<path d="M655.6,1064.0L634.6,1065.0" style="stroke-width:2.6"/>
<path d="M690.2,1064.0L668.2,1065.0" style="stroke-width:2.6"/>
<path d="M724.8,1064.0L714.8,1065.0" style="stroke-width:2.6"/>
<path d="M759.4,1064.0L748.4,1065.0" style="stroke-width:2.6"/>
<path d="M794.0,1064.0L782.0,1065.0" style="stroke-width:2.6"/>
<path d="M102.0,1462.7L85.0,1460.7" style="stroke-width:2.6"/>
<path d="M136.6,1462.7L120.6,1461.7" style="stroke-width:2.6"/>
<path d="M171.2,1462.7L156.2,1462.7" style="stroke-width:2.6"/>
<path d="M205.8,1462.7L191.8,1463.7" style="stroke-width:2.6"/>
<path d="M240.4,1462.7L227.4,1464.7" style="stroke-width:2.6"/>
<path d="M275.0,1462.7L263.0,1460.7" style="stroke-width:2.6"/>
<path d="M309.6,1462.7L287.6,1461.7" style="stroke-width:2.6"/>
<path d="M344.2,1462.7L323.2,1462.7" style="stroke-width:2.6"/>
<path d="M378.8,1462.7L358.8,1463.7" style="stroke-width:2.6"/>
<path d="M413.4,1462.7L394.4,1464.7" style="stroke-width:2.6"/>
<path d="M448.0,1462.7L430.0,1460.7" style="stroke-width:2.6"/>
<path d="M482.6,1462.7L465.6,1461.7" style="stroke-width:2.6"/>
<path d="M517.2,1462.7L501.2,1462.7" style="stroke-width:2.6"/>
<path d="M551.8,1462.7L536.8,1463.7" style="stroke-width:2.6"/>
<path d="M586.4,1462.7L572.4,1464.7" style="stroke-width:2.6"/>
<path d="M621.0,1462.7L608.0,1460.7" style="stroke-width:2.6"/>
<path d="M655.6,1462.7L643.6,1461.7" style="stroke-width:2.6"/>
<path d="M690.2,1462.7L668.2,1462.7" style="stroke-width:2.6"/>
<path d="M724.8,1462.7L703.8,1463.7" style="stroke-width:2.6"/>
<path d="M759.4,1462.7L739.4,1464.7" style="stroke-width:2.6"/>
<path d="M794.0,1462.7L775.0,1460.7" style="stroke-width:2.6"/>
</g>
<rect x="102.0" y="1063.0" width="692.5" height="404.5" fill="none" stroke="#262626" stroke-width="3"/>
<line x1="102.0" y1="1108.8" x2="110.5" y2="1108.8" stroke="#262626" stroke-width="3"/>
<line x1="794.5" y1="1108.8" x2="786" y2="1108.8" stroke="#262626" stroke-width="3"/>
<line x1="102.0" y1="1153.2" x2="110.5" y2="1153.2" stroke="#262626" stroke-width="3"/>
<line x1="794.5" y1="1153.2" x2="786" y2="1153.2" stroke="#262626" stroke-width="3"/>
<line x1="102.0" y1="1197.5" x2="110.5" y2="1197.5" stroke="#262626" stroke-width="3"/>
<line x1="794.5" y1="1197.5" x2="786" y2="1197.5" stroke="#262626" stroke-width="3"/>
<line x1="102.0" y1="1241.8" x2="110.5" y2="1241.8" stroke="#262626" stroke-width="3"/>
<line x1="794.5" y1="1241.8" x2="786" y2="1241.8" stroke="#262626" stroke-width="3"/>
<line x1="102.0" y1="1286.2" x2="110.5" y2="1286.2" stroke="#262626" stroke-width="3"/>
<line x1="794.5" y1="1286.2" x2="786" y2="1286.2" stroke="#262626" stroke-width="3"/>
<line x1="102.0" y1="1330.5" x2="110.5" y2="1330.5" stroke="#262626" stroke-width="3"/>
<line x1="794.5" y1="1330.5" x2="786" y2="1330.5" stroke="#262626" stroke-width="3"/>
<line x1="102.0" y1="1374.8" x2="110.5" y2="1374.8" stroke="#262626" stroke-width="3"/>
<line x1="794.5" y1="1374.8" x2="786" y2="1374.8" stroke="#262626" stroke-width="3"/>
<line x1="102.0" y1="1419.2" x2="110.5" y2="1419.2" stroke="#262626" stroke-width="3"/>
<line x1="794.5" y1="1419.2" x2="786" y2="1419.2" stroke="#262626" stroke-width="3"/>
<line x1="102.0" y1="1463.5" x2="110.5" y2="1463.5" stroke="#262626" stroke-width="3"/>
<line x1="794.5" y1="1463.5" x2="786" y2="1463.5" stroke="#262626" stroke-width="3"/>
<line x1="275.1" y1="1467.5" x2="275.1" y2="1459" stroke="#262626" stroke-width="3"/>
<line x1="275.1" y1="1063.0" x2="275.1" y2="1071.5" stroke="#262626" stroke-width="3"/>
<line x1="448.2" y1="1467.5" x2="448.2" y2="1459" stroke="#262626" stroke-width="3"/>
<line x1="448.2" y1="1063.0" x2="448.2" y2="1071.5" stroke="#262626" stroke-width="3"/>
<line x1="621.4" y1="1467.5" x2="621.4" y2="1459" stroke="#262626" stroke-width="3"/>
<line x1="621.4" y1="1063.0" x2="621.4" y2="1071.5" stroke="#262626" stroke-width="3"/>
<text x="94.0" y="1075.2" text-anchor="end" class="t" textLength="46.8" lengthAdjust="spacingAndGlyphs">100</text>
<text x="94.0" y="1119.5" text-anchor="end" class="t" textLength="46.8" lengthAdjust="spacingAndGlyphs">200</text>
<text x="94.0" y="1163.9" text-anchor="end" class="t" textLength="46.8" lengthAdjust="spacingAndGlyphs">300</text>
<text x="94.0" y="1208.2" text-anchor="end" class="t" textLength="46.8" lengthAdjust="spacingAndGlyphs">400</text>
<text x="94.0" y="1252.5" text-anchor="end" class="t" textLength="46.8" lengthAdjust="spacingAndGlyphs">500</text>
<text x="94.0" y="1296.9" text-anchor="end" class="t" textLength="46.8" lengthAdjust="spacingAndGlyphs">600</text>
<text x="94.0" y="1341.2" text-anchor="end" class="t" textLength="46.8" lengthAdjust="spacingAndGlyphs">700</text>
<text x="94.0" y="1385.5" text-anchor="end" class="t" textLength="46.8" lengthAdjust="spacingAndGlyphs">800</text>
<text x="94.0" y="1429.9" text-anchor="end" class="t" textLength="46.8" lengthAdjust="spacingAndGlyphs">900</text>
<text x="94.0" y="1474.2" text-anchor="end" class="t" textLength="62.3" lengthAdjust="spacingAndGlyphs">1000</text>
<text x="102.0" y="1503" text-anchor="middle" class="t" textLength="61.7" lengthAdjust="spacingAndGlyphs">10°S</text>
<text x="275.1" y="1503" text-anchor="middle" class="t" textLength="27.1" lengthAdjust="spacingAndGlyphs">0°</text>
<text x="448.2" y="1503" text-anchor="middle" class="t" textLength="63.3" lengthAdjust="spacingAndGlyphs">10°N</text>
<text x="621.4" y="1503" text-anchor="middle" class="t" textLength="63.3" lengthAdjust="spacingAndGlyphs">20°N</text>
<text x="794.5" y="1503" text-anchor="middle" class="t" textLength="63.3" lengthAdjust="spacingAndGlyphs">30°N</text>
<text x="25" y="1265.2" text-anchor="middle" class="t" textLength="198.9" lengthAdjust="spacingAndGlyphs" transform="rotate(-90 25 1265.2)">Pressure level</text>
<text x="102.5" y="1048.5" class="ti"><tspan font-weight="bold">(c) P26</tspan> (May 06 – May 10)</text>
<rect x="342.5" y="1486.5" width="36" height="8" fill="#ff45ff"/>
<rect x="601.5" y="1521" width="36" height="8" fill="#ff45ff"/>
<rect x="615.0" y="1506" width="9" height="38" fill="#ff45ff"/>
<clipPath id="clipd"><rect x="1024" y="47.5" width="692.5" height="403.0"/></clipPath>
<g clip-path="url(#clipd)">
<rect x="1021" y="44.5" width="698.5" height="404.0" fill="#e2f0f0"/>
<polygon points="1020.0,325.6 1036.0,298.8 1052.0,272.4 1075.6,272.4 1081.2,296.4 1067.6,317.6 1083.6,341.2 1099.6,306.8 1115.6,304.4 1131.6,322.8 1144.8,304.4 1152.8,282.8 1134.0,251.2 1131.6,240.4 1158.0,235.2 1184.8,245.6 1206.0,261.6 1216.4,245.6 1232.4,245.6 1237.6,282.8 1232.4,322.8 1237.6,349.2 1229.6,362.8 1211.2,378.4 1195.2,397.2 1184.8,421.2 1168.8,452.8 1020.0,452.8" fill="#faf0e3" stroke="#9a9a9a" stroke-width="0.6" stroke-opacity="0.7"/>
<polygon points="1192.4,341.2 1206.0,338.4 1216.4,357.2 1211.2,378.4 1203.2,389.2 1195.2,370.4" fill="#e2f0f0" stroke="#9a9a9a" stroke-width="0.6" stroke-opacity="0.7"/>
<polygon points="1099.6,135.6 1120.8,132.8 1136.8,139.6 1144.8,158.0 1168.8,152.8 1195.2,132.8 1216.4,155.6 1208.4,174.0 1168.8,174.0 1142.0,163.6 1131.6,182.0 1110.4,198.0 1091.6,214.0 1086.4,256.4 1079.6,251.2 1083.6,208.8 1099.6,192.8 1120.8,174.0 1134.0,155.6 1120.8,155.6" fill="#faf0e3" stroke="#9a9a9a" stroke-width="0.6" stroke-opacity="0.7"/>
<polygon points="1060.0,113.2 1075.6,110.4 1081.2,131.6 1077.2,158.0 1062.4,126.4" fill="#faf0e3" stroke="#9a9a9a" stroke-width="0.6" stroke-opacity="0.7"/>
<polygon points="1020.0,54.8 1046.4,54.8 1067.6,68.0 1099.6,57.2 1128.8,68.0 1107.6,76.0 1073.2,76.0 1060.0,97.2 1020.0,113.2" fill="#faf0e3" stroke="#9a9a9a" stroke-width="0.6" stroke-opacity="0.7"/>
<polygon points="1168.8,452.8 1180.0,416.0 1212.0,404.0 1244.0,396.0 1268.0,404.0 1285.6,416.0 1292.0,452.8" fill="#faf0e3" stroke="#9a9a9a" stroke-width="0.6" stroke-opacity="0.7"/>
<polygon points="1204.0,64.0 1228.0,56.0 1260.0,52.0 1300.0,52.0 1340.0,50.0 1380.0,50.0 1420.0,52.0 1460.0,56.0 1520.0,60.0 1528.0,84.0 1520.0,96.0 1500.0,104.0 1460.0,112.0 1420.0,120.0 1400.0,136.0 1380.0,144.0 1360.0,148.0 1332.0,140.0 1300.0,140.0 1268.0,140.0 1244.0,136.0 1220.0,128.0 1208.0,108.0 1212.0,84.0" fill="#faf0e3" stroke="#9a9a9a" stroke-width="0.6" stroke-opacity="0.7"/>
<polygon points="1400.0,156.0 1420.0,144.0 1440.0,148.0 1460.0,140.0 1480.0,136.0 1500.0,144.0 1520.0,156.0 1532.0,176.0 1540.0,204.0 1532.0,236.0 1540.0,268.0 1548.0,300.0 1540.0,332.0 1548.0,364.0 1552.0,388.0 1540.0,404.0 1524.0,412.0 1508.0,404.0 1480.0,396.0 1460.0,388.0 1452.0,372.0 1444.0,348.0 1428.0,324.0 1420.0,300.0 1404.0,284.0 1392.0,260.0 1388.0,236.0 1392.0,212.0 1396.0,188.0" fill="#faf0e3" stroke="#9a9a9a" stroke-width="0.6" stroke-opacity="0.7"/>
<polygon points="1452.0,200.0 1468.0,196.0 1476.0,212.0 1464.0,228.0 1452.0,220.0" fill="#e2f0f0" stroke="#9a9a9a" stroke-width="0.6" stroke-opacity="0.7"/>
<polygon points="1480.0,220.0 1500.0,216.0 1508.0,236.0 1496.0,252.0 1480.0,244.0" fill="#e2f0f0" stroke="#9a9a9a" stroke-width="0.6" stroke-opacity="0.7"/>
<polygon points="1440.0,292.0 1460.0,284.0 1480.0,300.0 1476.0,332.0 1460.0,340.0 1444.0,324.0" fill="#e2f0f0" stroke="#9a9a9a" stroke-width="0.6" stroke-opacity="0.7"/>
<polygon points="1556.0,212.0 1580.0,204.0 1600.0,216.0 1604.0,244.0 1596.0,284.0 1588.0,324.0 1580.0,348.0 1564.0,356.0 1548.0,340.0 1548.0,300.0 1552.0,260.0" fill="#faf0e3" stroke="#9a9a9a" stroke-width="0.6" stroke-opacity="0.7"/>
<polygon points="1660.0,132.0 1680.0,124.0 1700.0,116.0 1716.0,112.0 1720.0,448.0 1684.0,448.0 1680.0,424.0 1668.0,404.0 1660.0,384.0 1668.0,356.0 1676.0,332.0 1680.0,300.0 1676.0,268.0 1668.0,236.0 1660.0,204.0 1656.0,172.0" fill="#faf0e3" stroke="#9a9a9a" stroke-width="0.6" stroke-opacity="0.7"/>
<polygon points="1684.0,188.0 1700.0,180.0 1716.0,188.0 1720.0,252.0 1700.0,260.0 1692.0,228.0" fill="#e2f0f0" stroke="#9a9a9a" stroke-width="0.6" stroke-opacity="0.7"/>
<polygon points="1260.0,448.0 1268.0,428.0 1284.0,416.0 1300.0,424.0 1308.0,448.0" fill="#faf0e3" stroke="#9a9a9a" stroke-width="0.6" stroke-opacity="0.7"/>
<polygon points="1500.0,448.0 1520.0,428.0 1540.0,424.0 1560.0,436.0 1580.0,448.0" fill="#faf0e3" stroke="#9a9a9a" stroke-width="0.6" stroke-opacity="0.7"/>
<polygon points="1268.0,372.0 1284.0,364.0 1296.0,380.0 1284.0,388.0 1272.0,384.0" fill="#faf0e3" stroke="#9a9a9a" stroke-width="0.6" stroke-opacity="0.7"/>
<polygon points="1204.0,64.0 1228.0,58.0 1252.0,56.0 1276.0,54.0 1300.0,52.0 1324.0,52.0 1352.0,50.0 1380.0,52.0 1404.0,52.0 1436.0,56.0 1452.0,64.0 1460.0,76.0 1468.0,88.0 1452.0,92.0 1420.0,96.0 1396.0,104.0 1388.0,116.0 1372.0,124.0 1352.0,128.0 1332.0,126.0 1316.0,132.0 1300.0,130.0 1280.0,124.0 1260.0,120.0 1244.0,112.0 1236.0,100.0 1228.0,88.0 1216.0,76.0" fill="#eedaaa" stroke="#9a9a9a" stroke-width="0.6" stroke-opacity="0.7"/>
<polygon points="1240.0,68.0 1260.0,64.0 1284.0,62.0 1308.0,60.0 1332.0,60.0 1356.0,60.0 1380.0,62.0 1404.0,60.0 1424.0,60.0 1440.0,66.0 1444.0,76.0 1436.0,82.0 1420.0,84.0 1404.0,88.0 1388.0,96.0 1380.0,108.0 1368.0,116.0 1352.0,116.0 1336.0,112.0 1320.0,114.0 1300.0,116.0 1280.0,112.0 1260.0,100.0 1248.0,88.0 1242.0,76.0" fill="#d6b067" stroke="#9a9a9a" stroke-width="0.6" stroke-opacity="0.7"/>
<polygon points="1288.0,72.0 1308.0,66.0 1332.0,64.0 1356.0,66.0 1368.0,76.0 1372.0,88.0 1368.0,100.0 1360.0,108.0 1348.0,104.0 1332.0,96.0 1316.0,96.0 1304.0,88.0 1292.0,80.0" fill="#b67827" stroke="#9a9a9a" stroke-width="0.6" stroke-opacity="0.7"/>
<polygon points="1408.0,66.0 1420.0,62.0 1436.0,66.0 1424.0,72.8" fill="#b67827" stroke="#9a9a9a" stroke-width="0.6" stroke-opacity="0.7"/>
<polygon points="1292.0,70.0 1308.0,66.0 1324.0,68.0 1336.0,74.0 1324.0,78.0 1308.0,76.0" fill="#874e0a" stroke="#9a9a9a" stroke-width="0.6" stroke-opacity="0.7"/>
<polygon points="1324.0,68.8 1340.0,66.0 1352.0,70.0 1340.0,76.0 1328.0,75.2" fill="#874e0a" stroke="#9a9a9a" stroke-width="0.6" stroke-opacity="0.7"/>
<polygon points="1302.0,70.4 1308.0,68.0 1312.8,71.2 1306.4,73.6" fill="#543005" stroke="#9a9a9a" stroke-width="0.6" stroke-opacity="0.7"/>
<polygon points="1331.2,70.4 1336.0,68.0 1340.8,71.2 1335.2,73.2" fill="#543005" stroke="#9a9a9a" stroke-width="0.6" stroke-opacity="0.7"/>
<polygon points="1020.0,84.0 1036.0,82.0 1052.0,82.0 1072.0,88.0 1064.0,100.0 1044.0,104.0 1028.0,104.0 1020.0,100.0" fill="#eedaaa" stroke="#9a9a9a" stroke-width="0.6" stroke-opacity="0.7"/>
<polygon points="1108.0,72.0 1124.0,68.0 1140.0,64.0 1156.0,68.0 1180.0,72.0 1188.0,84.0 1188.0,100.0 1180.0,112.0 1164.0,120.0 1148.0,124.0 1132.0,120.0 1120.0,112.0 1108.0,100.0 1104.0,88.0" fill="#addfd8" stroke="#9a9a9a" stroke-width="0.6" stroke-opacity="0.7"/>
<polygon points="1140.0,88.8 1144.8,84.0 1148.8,90.0 1144.0,92.0" fill="#6cbeb3" stroke="#9a9a9a" stroke-width="0.6" stroke-opacity="0.7"/>
<polygon points="1120.0,44.0 1140.0,44.0 1152.0,52.0 1140.0,56.0 1124.0,54.0" fill="#addfd8" stroke="#9a9a9a" stroke-width="0.6" stroke-opacity="0.7"/>
<polygon points="1072.0,176.0 1088.0,176.0 1090.0,188.0 1076.0,192.0" fill="#addfd8" stroke="#9a9a9a" stroke-width="0.6" stroke-opacity="0.7"/>
<polygon points="1540.0,60.0 1556.0,56.0 1572.0,60.0 1580.0,68.0 1580.0,84.0 1564.0,92.0 1552.0,80.0 1540.0,72.0" fill="#addfd8" stroke="#9a9a9a" stroke-width="0.6" stroke-opacity="0.7"/>
<polygon points="1576.0,44.0 1720.0,44.0 1720.0,108.0 1700.0,104.0 1692.0,112.0 1680.0,112.0 1660.0,116.0 1644.0,124.0 1636.0,140.0 1628.0,160.0 1612.0,156.0 1604.0,136.0 1588.0,120.0 1580.0,104.0 1580.0,80.0 1576.0,64.0" fill="#addfd8" stroke="#9a9a9a" stroke-width="0.6" stroke-opacity="0.7"/>
<polygon points="1632.0,72.0 1648.0,64.0 1672.0,62.0 1692.0,68.0 1708.0,76.0 1700.0,92.0 1692.0,104.0 1676.0,108.0 1660.0,112.0 1640.0,108.0 1628.0,92.0" fill="#6cbeb3" stroke="#9a9a9a" stroke-width="0.6" stroke-opacity="0.7"/>
<polygon points="1660.0,80.0 1672.0,76.0 1688.0,80.0 1692.0,92.0 1680.0,98.0 1664.0,96.0" fill="#2c8e86" stroke="#9a9a9a" stroke-width="0.6" stroke-opacity="0.7"/>
<polygon points="1600.0,96.0 1612.0,94.0 1620.0,112.0 1612.0,120.0 1604.0,112.0" fill="#6cbeb3" stroke="#9a9a9a" stroke-width="0.6" stroke-opacity="0.7"/>
<polygon points="1536.0,108.0 1548.0,104.0 1568.0,108.0 1576.0,116.0 1564.0,124.0 1548.0,124.0 1536.0,118.0" fill="#addfd8" stroke="#9a9a9a" stroke-width="0.6" stroke-opacity="0.7"/>
<polygon points="1264.0,248.0 1276.0,232.0 1284.0,222.0 1296.0,224.0 1308.0,236.0 1318.0,248.0 1318.0,274.0 1300.0,276.0 1280.0,274.0 1268.0,262.0" fill="#addfd8" stroke="#9a9a9a" stroke-width="0.6" stroke-opacity="0.7"/>
<polygon points="1312.0,364.0 1324.0,352.0 1336.0,336.0 1344.0,340.0 1348.0,360.0 1356.0,376.0 1372.0,388.0 1388.0,392.0 1408.0,396.0 1420.0,404.0 1436.0,412.0 1452.0,428.0 1468.0,448.0 1316.0,448.0 1316.0,416.0 1312.0,392.0" fill="#addfd8" stroke="#9a9a9a" stroke-width="0.6" stroke-opacity="0.7"/>
<polygon points="1400.0,424.0 1408.0,420.0 1412.0,444.0 1404.0,448.0" fill="#6cbeb3" stroke="#9a9a9a" stroke-width="0.6" stroke-opacity="0.7"/>
<polygon points="1448.0,368.0 1456.0,360.0 1464.0,376.0 1460.0,392.0 1452.0,388.0" fill="#addfd8" stroke="#9a9a9a" stroke-width="0.6" stroke-opacity="0.7"/>
<polygon points="1292.0,412.0 1300.0,404.0 1304.0,428.0 1296.0,432.0" fill="#addfd8" stroke="#9a9a9a" stroke-width="0.6" stroke-opacity="0.7"/>
<polygon points="1512.0,112.0 1520.0,108.0 1524.0,116.0 1516.0,120.0" fill="#addfd8" stroke="#9a9a9a" stroke-width="0.6" stroke-opacity="0.7"/>
<polygon points="1436.0,448.0 1444.0,424.0 1460.0,420.0 1480.0,448.0" fill="#addfd8" stroke="#9a9a9a" stroke-width="0.6" stroke-opacity="0.7"/>
<polygon points="1148.0,340.0 1160.0,332.0 1172.0,356.0 1180.0,380.0 1196.0,396.0 1192.0,408.0 1172.0,408.0 1156.0,392.0 1148.0,364.0" fill="#eedaaa" stroke="#9a9a9a" stroke-width="0.6" stroke-opacity="0.7"/>
<polygon points="1120.0,396.0 1132.0,396.0 1140.0,420.0 1128.0,428.0 1116.0,416.0" fill="#eedaaa" stroke="#9a9a9a" stroke-width="0.6" stroke-opacity="0.7"/>
<polygon points="1588.0,428.0 1596.0,416.0 1612.0,396.0 1620.0,380.0 1628.0,364.0 1632.0,348.0 1644.0,340.0 1660.0,348.0 1668.0,364.0 1672.0,388.0 1668.0,412.0 1660.0,428.0 1652.0,448.0 1588.0,448.0" fill="#eedaaa" stroke="#9a9a9a" stroke-width="0.6" stroke-opacity="0.7"/>
<polygon points="1620.0,404.0 1636.0,392.0 1652.0,396.0 1660.0,416.0 1652.0,436.0 1644.0,448.0 1624.0,448.0 1618.0,424.0" fill="#d6b067" stroke="#9a9a9a" stroke-width="0.6" stroke-opacity="0.7"/>
<polygon points="1640.0,420.0 1648.0,418.0 1650.0,432.0 1642.0,434.0" fill="#b67827" stroke="#9a9a9a" stroke-width="0.6" stroke-opacity="0.7"/>
<polygon points="1592.0,424.0 1600.0,420.0 1604.0,448.0 1592.0,448.0" fill="#d6b067" stroke="#9a9a9a" stroke-width="0.6" stroke-opacity="0.7"/>
<polygon points="1676.0,236.0 1684.0,232.0 1688.0,260.0 1680.0,268.0" fill="#eedaaa" stroke="#9a9a9a" stroke-width="0.6" stroke-opacity="0.7"/>
<polygon points="1696.0,300.0 1708.0,296.0 1720.0,300.0 1720.0,332.0 1708.0,332.0 1700.0,324.0" fill="#eedaaa" stroke="#9a9a9a" stroke-width="0.6" stroke-opacity="0.7"/>
<polygon points="1592.0,284.0 1598.0,280.0 1602.0,300.0 1596.0,304.0" fill="#eedaaa" stroke="#9a9a9a" stroke-width="0.6" stroke-opacity="0.7"/>
<polygon points="1660.0,316.0 1668.0,312.0 1672.0,332.0 1664.0,336.0" fill="#eedaaa" stroke="#9a9a9a" stroke-width="0.6" stroke-opacity="0.7"/>
<polygon points="1212.0,424.0 1220.0,420.0 1228.0,448.0 1212.0,448.0" fill="#eedaaa" stroke="#9a9a9a" stroke-width="0.6" stroke-opacity="0.7"/>
<polygon points="1092.0,432.0 1100.0,428.0 1104.0,448.0 1092.0,448.0" fill="#eedaaa" stroke="#9a9a9a" stroke-width="0.6" stroke-opacity="0.7"/>
<rect x="1021" y="447.5" width="698.5" height="6" fill="#fff"/>
<line x1="1304.4" y1="46.0" x2="1304.4" y2="453.5" stroke="#ff45ff" stroke-width="2.6" stroke-dasharray="9.2,10"/>
<line x1="1348" y1="46.0" x2="1348" y2="453.5" stroke="#ff45ff" stroke-width="2.6" stroke-dasharray="9.2,10"/>
<line x1="1609.2" y1="46.0" x2="1609.2" y2="453.5" stroke="#ff45ff" stroke-width="2.6"/>
<line x1="1652.8" y1="46.0" x2="1652.8" y2="453.5" stroke="#ff45ff" stroke-width="2.6"/>
<polyline points="1238.0,268.0 1238.0,232.0 1240.0,204.0 1252.0,184.0 1268.0,176.0 1284.0,172.0 1308.0,174.0 1332.0,176.0 1352.0,178.0 1364.0,188.0 1372.0,200.0 1380.0,216.0 1388.0,232.0 1396.0,252.0 1400.0,276.0 1406.0,292.0 1420.0,308.0 1428.0,324.0 1436.0,340.0 1440.0,364.0 1440.0,388.0 1432.0,404.0 1420.0,412.0 1396.0,416.0 1372.0,416.8 1348.0,416.0 1332.0,412.0 1324.0,404.0 1316.0,388.0 1308.0,364.0 1300.0,360.0 1284.0,354.0 1268.0,348.0 1256.0,336.0 1248.0,320.0 1246.0,308.0 1248.0,292.0 1238.0,268.0" fill="none" stroke="#a60b2e" stroke-width="2.9" stroke-linejoin="round"/>
<polyline points="1266.0,248.0 1276.0,228.0 1292.0,218.0 1308.0,216.0 1324.0,220.0 1340.0,232.0 1356.0,244.0 1368.0,260.0 1376.0,280.0 1380.0,300.0 1382.0,324.0 1380.0,348.0 1372.0,368.0 1364.0,376.0 1352.0,378.0 1344.0,372.0 1336.0,360.0 1324.0,344.0 1316.0,320.0 1304.0,316.0 1296.0,308.0 1284.0,288.0 1272.0,268.0 1266.0,248.0" fill="none" stroke="#a60b2e" stroke-width="2.9" stroke-linejoin="round"/>
<polyline points="1720.0,268.0 1708.0,300.0 1700.0,324.0 1696.0,348.0 1696.0,364.0 1708.0,380.0 1720.0,384.0" fill="none" stroke="#a60b2e" stroke-width="2.9" stroke-linejoin="round"/>
<polyline points="1684.0,448.0 1700.0,442.0 1720.0,444.0" fill="none" stroke="#a60b2e" stroke-width="2.9" stroke-linejoin="round"/>
<polyline points="1060.0,372.0 1052.0,356.0 1048.0,324.0 1048.0,300.0 1052.0,276.0 1064.0,252.0 1080.0,224.0 1100.0,208.0 1124.0,202.0 1140.0,204.0 1156.0,212.0 1168.0,224.0 1180.0,232.0 1188.0,248.0 1186.0,268.0 1180.0,292.0 1176.0,324.0 1172.0,348.0 1168.0,372.0 1160.0,392.0 1144.0,408.0 1124.0,412.0 1104.0,408.0 1084.0,396.0 1072.0,384.0 1060.0,372.0" fill="none" stroke="#a60b2e" stroke-width="2.9" stroke-linejoin="round" stroke-dasharray="11.5,12"/>
<polyline points="1080.0,316.0 1082.0,284.0 1088.0,260.0 1100.0,240.0 1116.0,230.0 1136.0,232.0 1152.0,240.0 1164.0,252.0 1162.0,276.0 1156.0,292.0 1148.0,316.0 1140.0,344.0 1132.0,360.0 1116.0,364.0 1100.0,360.0 1088.0,348.0 1080.0,332.0 1080.0,316.0" fill="none" stroke="#a60b2e" stroke-width="2.9" stroke-linejoin="round" stroke-dasharray="11.5,12"/>
<polyline points="1020.0,424.0 1028.0,432.0 1032.0,448.0" fill="none" stroke="#a60b2e" stroke-width="2.9" stroke-linejoin="round" stroke-dasharray="11.5,12"/>
<polyline points="1524.0,276.0 1528.0,244.0 1540.0,212.0 1556.0,188.0 1572.0,172.0 1588.0,164.0 1612.0,162.0 1632.0,164.0 1652.0,170.0 1668.0,180.0 1680.0,196.0 1686.0,220.0 1688.0,244.0 1684.0,268.0 1680.0,292.0 1676.0,316.0 1668.0,340.0 1660.0,364.0 1648.0,384.0 1632.0,396.0 1616.0,406.0 1596.0,412.0 1580.0,410.0 1556.0,404.0 1544.0,396.0 1536.0,384.0 1532.0,364.0 1528.0,340.0 1527.2,316.0 1524.8,292.0 1524.0,276.0" fill="none" stroke="#a60b2e" stroke-width="2.9" stroke-linejoin="round" stroke-dasharray="11.5,12"/>
<polyline points="1552.0,268.0 1558.0,240.0 1572.0,220.0 1588.0,208.0 1608.0,204.0 1628.0,204.0 1648.0,208.0 1660.0,216.0 1668.0,232.0 1672.0,256.0 1668.0,284.0 1660.0,308.0 1652.0,332.0 1644.0,352.0 1632.0,368.0 1616.0,376.0 1600.0,380.0 1584.0,376.0 1572.0,364.0 1560.0,348.0 1552.0,324.0 1550.0,300.0 1552.0,268.0" fill="none" stroke="#a60b2e" stroke-width="2.9" stroke-linejoin="round" stroke-dasharray="11.5,12"/>
<polyline points="1568.0,300.0 1572.0,276.0 1584.0,256.0 1600.0,244.0 1620.0,240.0 1636.0,248.0 1644.0,268.0 1644.0,292.0 1636.0,316.0 1628.0,336.0 1616.0,344.0 1604.0,344.0 1592.0,336.0 1580.0,324.0 1572.0,316.0 1568.0,300.0" fill="none" stroke="#a60b2e" stroke-width="2.9" stroke-linejoin="round" stroke-dasharray="11.5,12"/>
<polyline points="1596.0,300.0 1612.0,296.0 1624.0,304.0 1628.0,320.0 1620.0,332.0 1608.0,334.0 1600.0,324.0 1596.0,300.0" fill="none" stroke="#a60b2e" stroke-width="2.9" stroke-linejoin="round" stroke-dasharray="11.5,12"/>
<path d="M1022.5,91.2L1008.5,91.2M1013.1,90.7L1008.5,91.2L1013.1,91.8" />
<path d="M1057.3,91.2L1020.3,90.2M1032.8,89.0L1020.3,90.2L1032.2,92.1" />
<path d="M1092.1,91.2L1044.1,92.2M1059.6,89.9L1044.1,92.2L1060.2,93.9" />
<path d="M1126.8,91.2L1079.8,93.2M1094.8,90.6L1079.8,93.2L1095.9,94.6" />
<path d="M1161.6,91.2L1119.6,95.2M1132.3,92.2L1119.6,95.2L1134.6,95.7" />
<path d="M1196.4,91.2L1140.4,94.2M1158.0,90.9L1140.4,94.2L1159.7,95.6" />
<path d="M1231.2,91.2L1104.2,95.2M1145.0,88.6L1104.2,95.2L1147.2,99.2" />
<path d="M1266.0,91.2L1230.0,84.2M1243.8,85.1L1230.0,84.2L1239.9,88.1" />
<path d="M1300.7,91.2L1287.7,78.2M1295.7,82.0L1287.7,78.2L1288.3,83.1" />
<path d="M1335.5,91.2L1347.5,74.2M1348.4,80.4L1347.5,74.2L1338.7,79.4" />
<path d="M1370.3,91.2L1400.3,73.2M1395.5,80.4L1400.3,73.2L1385.3,77.9" />
<path d="M1405.1,91.2L1450.1,76.2M1439.5,83.1L1450.1,76.2L1431.0,79.3" />
<path d="M1439.9,91.2L1489.9,78.2M1477.0,84.6L1489.9,78.2L1469.7,80.4" />
<path d="M1474.6,91.2L1532.6,85.2M1515.2,89.7L1532.6,85.2L1511.8,84.8" />
<path d="M1057.3,136.0L1050.5,130.3M1054.4,131.9L1050.5,130.3L1051.1,132.5" />
<path d="M1092.1,136.0L1087.7,137.5M1088.7,136.8L1087.7,137.5L1089.6,137.2" />
<path d="M1126.8,136.0L1124.9,148.9M1121.9,144.6L1124.9,148.9L1129.2,144.7" />
<path d="M1161.6,136.0L1156.7,152.9M1153.6,147.1L1156.7,152.9L1163.1,147.5" />
<path d="M1196.4,136.0L1193.9,141.7M1193.1,139.7L1193.9,141.7L1196.4,139.9" />
<path d="M1231.2,136.0L1227.6,131.1M1230.2,132.6L1227.6,131.1L1227.4,132.9" />
<path d="M1266.0,136.0L1261.6,116.2M1268.7,122.6L1261.6,116.2L1257.5,122.9" />
<path d="M1300.7,136.0L1303.6,107.7M1310.7,117.2L1303.6,107.7L1294.6,116.9" />
<path d="M1335.5,136.0L1342.6,105.1M1349.0,115.6L1342.6,105.1L1331.5,115.0" />
<path d="M1022.5,180.8L1053.2,175.4M1044.6,178.5L1053.2,175.4L1041.6,175.9" />
<path d="M1057.3,180.8L1082.4,178.1M1074.9,180.0L1082.4,178.1L1073.4,177.9" />
<path d="M1092.1,180.8L1107.6,186.9M1100.8,185.5L1107.6,186.9L1104.2,184.2" />
<path d="M1126.8,180.8L1140.8,191.4M1133.2,188.5L1140.8,191.4L1139.2,187.3" />
<path d="M1161.6,180.8L1174.0,198.0M1165.0,192.8L1174.0,198.0L1174.8,191.8" />
<path d="M1196.4,180.8L1205.9,184.2M1201.8,183.5L1205.9,184.2L1203.7,182.7" />
<path d="M1231.2,180.8L1237.7,180.0M1235.8,180.5L1237.7,180.0L1235.3,179.9" />
<path d="M1266.0,180.8L1268.3,162.2M1272.8,168.4L1268.3,162.2L1262.2,168.2" />
<path d="M1300.7,180.8L1302.8,152.3M1310.2,161.8L1302.8,152.3L1294.1,161.6" />
<path d="M1335.5,180.8L1334.7,154.2M1342.5,162.9L1334.7,154.2L1327.4,163.0" />
<path d="M1022.5,225.5L1051.9,218.7M1044.1,222.2L1051.9,218.7L1040.3,219.7" />
<path d="M1057.3,225.5L1078.4,226.2M1071.3,226.8L1078.4,226.2L1071.6,225.1" />
<path d="M1092.1,225.5L1107.6,231.5M1100.8,230.1L1107.6,231.5L1104.2,228.8" />
<path d="M1126.8,225.5L1142.7,235.7M1134.6,233.0L1142.7,235.7L1140.3,231.7" />
<path d="M1161.6,225.5L1173.5,247.9M1163.2,241.0L1173.5,247.9L1175.9,240.0" />
<path d="M1196.4,225.5L1205.9,234.7M1200.2,232.0L1205.9,234.7L1205.3,231.2" />
<path d="M1231.2,225.5L1237.7,229.9M1234.3,228.7L1237.7,229.9L1236.8,228.2" />
<path d="M1266.0,225.5L1264.8,209.2M1269.8,214.5L1264.8,209.2L1260.6,214.6" />
<path d="M1300.7,225.5L1295.6,202.8M1303.7,210.1L1295.6,202.8L1290.9,210.5" />
<path d="M1335.5,225.5L1324.8,202.8M1334.8,209.8L1324.8,202.8L1321.9,210.7" />
<path d="M1022.5,270.2L1038.1,264.9M1034.4,267.3L1038.1,264.9L1031.4,266.0" />
<path d="M1057.3,270.2L1065.1,274.5M1061.3,273.4L1065.1,274.5L1063.7,272.8" />
<path d="M1092.1,270.2L1095.7,274.5M1093.3,273.2L1095.7,274.5L1095.7,272.9" />
<path d="M1126.8,270.2L1126.2,284.3M1122.4,279.6L1126.2,284.3L1130.4,279.7" />
<path d="M1161.6,270.2L1161.3,290.4M1155.7,283.7L1161.3,290.4L1167.1,283.8" />
<path d="M1196.4,270.2L1199.2,277.7M1196.2,275.3L1199.2,277.7L1200.4,275.1" />
<path d="M1231.2,270.2L1231.1,272.4M1230.5,271.7L1231.1,272.4L1231.7,271.7" />
<path d="M1266.0,270.2L1260.3,261.2M1264.7,264.0L1260.3,261.2L1259.6,264.4" />
<path d="M1300.7,270.2L1289.5,255.1M1297.5,259.6L1289.5,255.1L1288.9,260.6" />
<path d="M1335.5,270.2L1318.7,250.6M1329.8,256.4L1318.7,250.6L1318.7,257.8" />
<path d="M1057.3,315.0L1056.6,316.2M1056.5,315.8L1056.6,316.2L1057.2,315.8" />
<path d="M1092.1,315.0L1090.4,322.8M1088.7,320.2L1090.4,322.8L1093.1,320.3" />
<path d="M1126.8,315.0L1125.7,332.1M1121.2,326.4L1125.7,332.1L1130.9,326.5" />
<path d="M1161.6,315.0L1163.4,333.4M1157.6,327.4L1163.4,333.4L1168.0,327.3" />
<path d="M1196.4,315.0L1200.0,320.2M1197.4,318.6L1200.0,320.2L1200.3,318.3" />
<path d="M1231.2,315.0L1232.4,317.5M1231.3,316.7L1232.4,317.5L1232.7,316.6" />
<path d="M1266.0,315.0L1263.0,308.2M1265.9,310.3L1263.0,308.2L1262.0,310.6" />
<path d="M1300.7,315.0L1293.5,305.6M1298.6,308.4L1293.5,305.6L1293.2,309.0" />
<path d="M1335.5,315.0L1324.0,296.3M1333.1,302.0L1324.0,296.3L1322.5,302.9" />
<path d="M1057.3,359.8L1051.9,360.5M1053.4,360.0L1051.9,360.5L1053.9,360.5" />
<path d="M1092.1,359.8L1091.2,369.3M1088.8,366.1L1091.2,369.3L1094.2,366.2" />
<path d="M1126.8,359.8L1127.5,374.6M1123.1,369.7L1127.5,374.6L1131.5,369.7" />
<path d="M1161.6,359.8L1172.7,370.1M1166.1,367.1L1172.7,370.1L1172.0,366.2" />
<path d="M1196.4,359.8L1211.2,364.0M1205.1,363.2L1211.2,364.0L1207.5,362.0" />
<path d="M1231.2,359.8L1245.7,362.1M1240.2,361.9L1245.7,362.1L1241.6,360.7" />
<path d="M1266.0,359.8L1277.6,358.7M1274.0,359.5L1277.6,358.7L1273.4,358.5" />
<path d="M1300.7,359.8L1305.4,354.1M1305.5,356.2L1305.4,354.1L1302.3,355.8" />
<path d="M1335.5,359.8L1333.3,349.4M1337.0,352.7L1333.3,349.4L1331.1,352.9" />
<path d="M1057.3,404.5L1058.5,406.5M1057.5,405.9L1058.5,406.5L1058.7,405.8" />
<path d="M1092.1,404.5L1093.0,413.1M1090.3,410.3L1093.0,413.1L1095.1,410.2" />
<path d="M1126.8,404.5L1130.2,414.4M1126.3,411.3L1130.2,414.4L1131.9,411.0" />
<path d="M1161.6,404.5L1172.7,406.5M1168.5,406.3L1172.7,406.5L1169.6,405.3" />
<path d="M1196.4,404.5L1215.2,402.5M1209.5,403.9L1215.2,402.5L1208.4,402.4" />
<path d="M1231.2,404.5L1253.7,404.6M1246.2,405.5L1253.7,404.6L1246.3,403.6" />
<path d="M1266.0,404.5L1285.5,406.5M1278.5,406.6L1285.5,406.5L1279.6,405.0" />
<path d="M1300.7,404.5L1313.4,401.1M1310.2,402.8L1313.4,401.1L1308.3,401.7" />
<path d="M1335.5,404.5L1342.6,401.1M1341.2,402.5L1342.6,401.1L1339.3,402.0" />
<path d="M1509.4,91.2L1582.4,93.1M1557.8,95.6L1582.4,93.1L1558.9,89.4" />
<path d="M1544.2,91.2L1624.9,98.4M1596.2,99.4L1624.9,98.4L1600.3,92.7" />
<path d="M1579.0,91.2L1651.5,99.8M1625.1,100.0L1651.5,99.8L1630.0,93.9" />
<path d="M1613.8,91.2L1688.6,97.1M1662.3,98.3L1688.6,97.1L1665.6,92.0" />
<path d="M1648.5,91.2L1716.5,101.1M1691.3,100.7L1716.5,101.1L1696.9,95.0" />
<path d="M1370.3,136.0L1380.6,101.1M1387.1,113.0L1380.6,101.1L1367.3,112.2" />
<path d="M1405.1,136.0L1413.8,113.6M1417.3,121.3L1413.8,113.6L1404.6,120.6" />
<path d="M1439.9,136.0L1441.2,122.3M1444.6,126.9L1441.2,122.3L1436.9,126.8" />
<path d="M1474.6,136.0L1470.9,130.3M1473.8,132.0L1470.9,130.3L1470.5,132.3" />
<path d="M1509.4,136.0L1501.4,143.6M1501.9,140.7L1501.4,143.6L1506.2,141.4" />
<path d="M1544.2,136.0L1536.0,147.6M1535.4,143.4L1536.0,147.6L1542.0,144.1" />
<path d="M1579.0,136.0L1579.0,154.2M1573.8,148.2L1579.0,154.2L1584.1,148.2" />
<path d="M1613.8,136.0L1631.6,160.3M1618.8,153.0L1631.6,160.3L1632.6,151.5" />
<path d="M1648.5,136.0L1682.0,166.7M1662.3,158.0L1682.0,166.7L1679.6,155.2" />
<path d="M1683.3,136.0L1716.5,152.9M1700.8,148.7L1716.5,152.9L1710.3,145.9" />
<path d="M1370.3,180.8L1361.2,152.9M1372.1,161.7L1361.2,152.9L1356.3,162.4" />
<path d="M1405.1,180.8L1387.3,163.0M1398.2,168.1L1387.3,163.0L1388.1,169.6" />
<path d="M1439.9,180.8L1415.1,170.1M1426.3,172.6L1415.1,170.1L1420.3,174.7" />
<path d="M1474.6,180.8L1448.3,178.1M1457.8,177.9L1448.3,178.1L1456.3,180.1" />
<path d="M1509.4,180.8L1484.2,182.6M1492.0,180.9L1484.2,182.6L1493.0,183.1" />
<path d="M1544.2,180.8L1525.3,191.4M1528.6,187.1L1525.3,191.4L1534.6,188.7" />
<path d="M1579.0,180.8L1573.1,199.3M1569.8,193.0L1573.1,199.3L1580.3,193.4" />
<path d="M1613.8,180.8L1628.9,206.5M1616.6,198.6L1628.9,206.5L1631.2,197.4" />
<path d="M1648.5,180.8L1690.0,216.6M1666.1,206.5L1690.0,216.6L1686.4,203.0" />
<path d="M1683.3,180.8L1716.5,195.4M1701.4,191.9L1716.5,195.4L1709.7,189.1" />
<path d="M1370.3,225.5L1350.6,199.3M1364.5,207.1L1350.6,199.3L1349.7,208.8" />
<path d="M1405.1,225.5L1379.3,208.1M1392.7,212.8L1379.3,208.1L1382.9,214.9" />
<path d="M1439.9,225.5L1411.2,212.6M1424.3,215.7L1411.2,212.6L1417.0,218.1" />
<path d="M1474.6,225.5L1444.3,221.4M1455.5,221.5L1444.3,221.4L1453.2,224.0" />
<path d="M1509.4,225.5L1480.2,225.1M1490.0,224.0L1480.2,225.1L1489.7,226.5" />
<path d="M1544.2,225.5L1524.0,235.7M1527.8,231.5L1524.0,235.7L1533.6,233.2" />
<path d="M1579.0,225.5L1573.1,241.8M1570.4,236.2L1573.1,241.8L1579.7,236.7" />
<path d="M1613.8,225.5L1627.6,253.8M1615.0,245.0L1627.6,253.8L1631.0,243.9" />
<path d="M1648.5,225.5L1688.6,255.9M1666.8,247.5L1688.6,255.9L1684.0,244.2" />
<path d="M1683.3,225.5L1716.5,240.5M1701.3,236.9L1716.5,240.5L1709.8,234.2" />
<path d="M1370.3,270.2L1353.0,248.5M1364.9,254.9L1353.0,248.5L1352.5,256.4" />
<path d="M1405.1,270.2L1383.3,249.8M1396.3,255.6L1383.3,249.8L1384.7,257.5" />
<path d="M1439.9,270.2L1415.7,255.9M1427.7,259.6L1415.7,255.9L1419.6,261.6" />
<path d="M1474.6,270.2L1451.0,263.9M1460.6,265.0L1451.0,263.9L1457.0,267.0" />
<path d="M1509.4,270.2L1486.8,271.0M1494.1,269.8L1486.8,271.0L1494.5,271.7" />
<path d="M1544.2,270.2L1526.1,281.7M1528.9,277.1L1526.1,281.7L1535.3,278.6" />
<path d="M1579.0,270.2L1569.7,284.3M1568.8,279.3L1569.7,284.3L1576.7,280.1" />
<path d="M1613.8,270.2L1627.6,297.6M1615.3,289.1L1627.6,297.6L1630.8,288.0" />
<path d="M1648.5,270.2L1679.3,297.6M1661.4,289.9L1679.3,297.6L1676.9,287.3" />
<path d="M1683.3,270.2L1716.5,284.3M1701.6,281.1L1716.5,284.3L1709.5,278.3" />
<path d="M1370.3,315.0L1355.1,293.6M1366.2,300.0L1355.1,293.6L1354.1,301.3" />
<path d="M1405.1,315.0L1385.4,293.6M1398.0,299.8L1385.4,293.6L1385.8,301.5" />
<path d="M1439.9,315.0L1415.1,298.4M1428.0,302.8L1415.1,298.4L1418.6,304.9" />
<path d="M1474.6,315.0L1450.2,306.9M1460.6,308.5L1450.2,306.9L1456.0,310.6" />
<path d="M1509.4,315.0L1486.8,317.5M1493.6,315.7L1486.8,317.5L1495.0,317.6" />
<path d="M1544.2,315.0L1526.7,324.9M1529.6,320.9L1526.7,324.9L1535.3,322.4" />
<path d="M1579.0,315.0L1573.1,327.6M1571.5,323.2L1573.1,327.6L1578.6,323.7" />
<path d="M1613.8,315.0L1627.6,343.5M1614.9,334.7L1627.6,343.5L1631.1,333.5" />
<path d="M1648.5,315.0L1675.4,341.9M1658.9,334.2L1675.4,341.9L1674.1,331.9" />
<path d="M1683.3,315.0L1716.5,325.5M1702.6,323.4L1716.5,325.5L1708.5,320.6" />
<path d="M1370.3,359.8L1362.6,341.4M1370.3,347.1L1362.6,341.4L1359.9,347.8" />
<path d="M1405.1,359.8L1388.1,341.9M1398.7,347.1L1388.1,341.9L1388.6,348.5" />
<path d="M1439.9,359.8L1416.5,345.4M1428.3,349.1L1416.5,345.4L1420.1,351.1" />
<path d="M1474.6,359.8L1450.2,352.0M1460.4,353.5L1450.2,352.0L1456.1,355.6" />
<path d="M1509.4,359.8L1490.8,362.6M1496.1,360.9L1490.8,362.6L1497.8,362.5" />
<path d="M1544.2,359.8L1529.3,367.4M1532.1,364.3L1529.3,367.4L1536.4,365.5" />
<path d="M1579.0,359.8L1573.1,366.6M1573.1,364.1L1573.1,366.6L1577.0,364.6" />
<path d="M1613.8,359.8L1625.4,382.6M1615.1,375.5L1625.4,382.6L1628.0,374.5" />
<path d="M1648.5,359.8L1679.3,388.7M1661.0,380.4L1679.3,388.7L1677.4,377.8" />
<path d="M1683.3,359.8L1716.5,368.5M1703.1,367.0L1716.5,368.5L1708.0,364.2" />
<path d="M1370.3,404.5L1386.5,389.7M1385.3,395.3L1386.5,389.7L1376.9,393.9" />
<path d="M1405.1,404.5L1412.5,395.8M1412.5,399.0L1412.5,395.8L1407.6,398.4" />
<path d="M1439.9,404.5L1443.0,399.8M1443.3,401.5L1443.0,399.8L1440.7,401.2" />
<path d="M1474.6,404.5L1476.2,405.1M1475.5,405.0L1476.2,405.1L1475.9,404.9" />
<path d="M1509.4,404.5L1482.9,404.6M1491.6,403.5L1482.9,404.6L1491.6,405.7" />
<path d="M1544.2,404.5L1524.0,413.6M1528.1,409.8L1524.0,413.6L1533.3,411.5" />
<path d="M1579.0,404.5L1565.2,406.5M1569.2,405.2L1565.2,406.5L1570.3,406.4" />
<path d="M1613.8,404.5L1616.9,411.8M1613.8,409.5L1616.9,411.8L1618.0,409.2" />
<path d="M1648.5,404.5L1672.7,419.7M1660.4,415.7L1672.7,419.7L1669.0,413.7" />
<path d="M1683.3,404.5L1716.5,411.8M1703.5,410.8L1716.5,411.8L1707.6,408.0" />
<path d="M1022.5,46.5L1004.5,47.5" style="stroke-width:2.6"/>
<path d="M1057.3,46.5L1038.3,47.5" style="stroke-width:2.6"/>
<path d="M1092.1,46.5L1072.1,47.5" style="stroke-width:2.6"/>
<path d="M1126.8,46.5L1105.8,47.5" style="stroke-width:2.6"/>
<path d="M1161.6,46.5L1139.6,47.5" style="stroke-width:2.6"/>
<path d="M1196.4,46.5L1186.4,47.5" style="stroke-width:2.6"/>
<path d="M1231.2,46.5L1220.2,47.5" style="stroke-width:2.6"/>
<path d="M1266.0,46.5L1254.0,47.5" style="stroke-width:2.6"/>
<path d="M1300.7,46.5L1287.7,47.5" style="stroke-width:2.6"/>
<path d="M1335.5,46.5L1321.5,47.5" style="stroke-width:2.6"/>
<path d="M1370.3,46.5L1355.3,47.5" style="stroke-width:2.6"/>
<path d="M1405.1,46.5L1389.1,47.5" style="stroke-width:2.6"/>
<path d="M1439.9,46.5L1422.9,47.5" style="stroke-width:2.6"/>
<path d="M1474.6,46.5L1456.6,47.5" style="stroke-width:2.6"/>
<path d="M1509.4,46.5L1490.4,47.5" style="stroke-width:2.6"/>
<path d="M1544.2,46.5L1524.2,47.5" style="stroke-width:2.6"/>
<path d="M1579.0,46.5L1558.0,47.5" style="stroke-width:2.6"/>
<path d="M1613.8,46.5L1591.8,47.5" style="stroke-width:2.6"/>
<path d="M1648.5,46.5L1638.5,47.5" style="stroke-width:2.6"/>
<path d="M1683.3,46.5L1672.3,47.5" style="stroke-width:2.6"/>
<path d="M1718.1,46.5L1706.1,47.5" style="stroke-width:2.6"/>
<path d="M1022.5,449.2L1005.5,447.2" style="stroke-width:2.6"/>
<path d="M1057.3,449.2L1041.3,448.2" style="stroke-width:2.6"/>
<path d="M1092.1,449.2L1077.1,449.2" style="stroke-width:2.6"/>
<path d="M1126.8,449.2L1112.8,450.2" style="stroke-width:2.6"/>
<path d="M1161.6,449.2L1148.6,451.2" style="stroke-width:2.6"/>
<path d="M1196.4,449.2L1184.4,447.2" style="stroke-width:2.6"/>
<path d="M1231.2,449.2L1209.2,448.2" style="stroke-width:2.6"/>
<path d="M1266.0,449.2L1245.0,449.2" style="stroke-width:2.6"/>
<path d="M1300.7,449.2L1280.7,450.2" style="stroke-width:2.6"/>
<path d="M1335.5,449.2L1316.5,451.2" style="stroke-width:2.6"/>
<path d="M1370.3,449.2L1352.3,447.2" style="stroke-width:2.6"/>
<path d="M1405.1,449.2L1388.1,448.2" style="stroke-width:2.6"/>
<path d="M1439.9,449.2L1423.9,449.2" style="stroke-width:2.6"/>
<path d="M1474.6,449.2L1459.6,450.2" style="stroke-width:2.6"/>
<path d="M1509.4,449.2L1495.4,451.2" style="stroke-width:2.6"/>
<path d="M1544.2,449.2L1531.2,447.2" style="stroke-width:2.6"/>
<path d="M1579.0,449.2L1567.0,448.2" style="stroke-width:2.6"/>
<path d="M1613.8,449.2L1591.8,449.2" style="stroke-width:2.6"/>
<path d="M1648.5,449.2L1627.5,450.2" style="stroke-width:2.6"/>
<path d="M1683.3,449.2L1663.3,451.2" style="stroke-width:2.6"/>
<path d="M1718.1,449.2L1699.1,447.2" style="stroke-width:2.6"/>
</g>
<rect x="1022.5" y="46.0" width="695.5" height="406.0" fill="none" stroke="#262626" stroke-width="3"/>
<line x1="1022.5" y1="92.0" x2="1031" y2="92.0" stroke="#262626" stroke-width="3"/>
<line x1="1718.0" y1="92.0" x2="1709.5" y2="92.0" stroke="#262626" stroke-width="3"/>
<line x1="1022.5" y1="136.5" x2="1031" y2="136.5" stroke="#262626" stroke-width="3"/>
<line x1="1718.0" y1="136.5" x2="1709.5" y2="136.5" stroke="#262626" stroke-width="3"/>
<line x1="1022.5" y1="181.0" x2="1031" y2="181.0" stroke="#262626" stroke-width="3"/>
<line x1="1718.0" y1="181.0" x2="1709.5" y2="181.0" stroke="#262626" stroke-width="3"/>
<line x1="1022.5" y1="225.5" x2="1031" y2="225.5" stroke="#262626" stroke-width="3"/>
<line x1="1718.0" y1="225.5" x2="1709.5" y2="225.5" stroke="#262626" stroke-width="3"/>
<line x1="1022.5" y1="270.0" x2="1031" y2="270.0" stroke="#262626" stroke-width="3"/>
<line x1="1718.0" y1="270.0" x2="1709.5" y2="270.0" stroke="#262626" stroke-width="3"/>
<line x1="1022.5" y1="314.5" x2="1031" y2="314.5" stroke="#262626" stroke-width="3"/>
<line x1="1718.0" y1="314.5" x2="1709.5" y2="314.5" stroke="#262626" stroke-width="3"/>
<line x1="1022.5" y1="359.0" x2="1031" y2="359.0" stroke="#262626" stroke-width="3"/>
<line x1="1718.0" y1="359.0" x2="1709.5" y2="359.0" stroke="#262626" stroke-width="3"/>
<line x1="1022.5" y1="403.5" x2="1031" y2="403.5" stroke="#262626" stroke-width="3"/>
<line x1="1718.0" y1="403.5" x2="1709.5" y2="403.5" stroke="#262626" stroke-width="3"/>
<line x1="1022.5" y1="448.0" x2="1031" y2="448.0" stroke="#262626" stroke-width="3"/>
<line x1="1718.0" y1="448.0" x2="1709.5" y2="448.0" stroke="#262626" stroke-width="3"/>
<line x1="1196.4" y1="452.0" x2="1196.4" y2="443.5" stroke="#262626" stroke-width="3"/>
<line x1="1196.4" y1="46.0" x2="1196.4" y2="54.5" stroke="#262626" stroke-width="3"/>
<line x1="1370.2" y1="452.0" x2="1370.2" y2="443.5" stroke="#262626" stroke-width="3"/>
<line x1="1370.2" y1="46.0" x2="1370.2" y2="54.5" stroke="#262626" stroke-width="3"/>
<line x1="1544.1" y1="452.0" x2="1544.1" y2="443.5" stroke="#262626" stroke-width="3"/>
<line x1="1544.1" y1="46.0" x2="1544.1" y2="54.5" stroke="#262626" stroke-width="3"/>
<text x="1014.5" y="58.2" text-anchor="end" class="t" textLength="46.8" lengthAdjust="spacingAndGlyphs">100</text>
<text x="1014.5" y="102.7" text-anchor="end" class="t" textLength="46.8" lengthAdjust="spacingAndGlyphs">200</text>
<text x="1014.5" y="147.2" text-anchor="end" class="t" textLength="46.8" lengthAdjust="spacingAndGlyphs">300</text>
<text x="1014.5" y="191.7" text-anchor="end" class="t" textLength="46.8" lengthAdjust="spacingAndGlyphs">400</text>
<text x="1014.5" y="236.2" text-anchor="end" class="t" textLength="46.8" lengthAdjust="spacingAndGlyphs">500</text>
<text x="1014.5" y="280.7" text-anchor="end" class="t" textLength="46.8" lengthAdjust="spacingAndGlyphs">600</text>
<text x="1014.5" y="325.2" text-anchor="end" class="t" textLength="46.8" lengthAdjust="spacingAndGlyphs">700</text>
<text x="1014.5" y="369.7" text-anchor="end" class="t" textLength="46.8" lengthAdjust="spacingAndGlyphs">800</text>
<text x="1014.5" y="414.2" text-anchor="end" class="t" textLength="46.8" lengthAdjust="spacingAndGlyphs">900</text>
<text x="1014.5" y="458.7" text-anchor="end" class="t" textLength="62.3" lengthAdjust="spacingAndGlyphs">1000</text>
<text x="1022.5" y="487.5" text-anchor="middle" class="t" textLength="61.7" lengthAdjust="spacingAndGlyphs">10°S</text>
<text x="1196.4" y="487.5" text-anchor="middle" class="t" textLength="27.1" lengthAdjust="spacingAndGlyphs">0°</text>
<text x="1370.2" y="487.5" text-anchor="middle" class="t" textLength="63.3" lengthAdjust="spacingAndGlyphs">10°N</text>
<text x="1544.1" y="487.5" text-anchor="middle" class="t" textLength="63.3" lengthAdjust="spacingAndGlyphs">20°N</text>
<text x="1718.0" y="487.5" text-anchor="middle" class="t" textLength="63.3" lengthAdjust="spacingAndGlyphs">30°N</text>
<text x="944.5" y="249.0" text-anchor="middle" class="t" textLength="198.9" lengthAdjust="spacingAndGlyphs" transform="rotate(-90 944.5 249.0)">Pressure level</text>
<text x="1024.0" y="30.5" class="ti"><tspan font-weight="bold">(d) P27</tspan> (May 11 – May 15)</text>
<rect x="1309" y="468.7" width="36" height="8" fill="#ff45ff"/>
<rect x="1613" y="470" width="36" height="8" fill="#ff45ff"/>
<rect x="1626.5" y="455" width="9" height="38" fill="#ff45ff"/>
<clipPath id="clipe"><rect x="1025" y="552.5" width="693" height="404.0"/></clipPath>
<g clip-path="url(#clipe)">
<rect x="1022" y="549.5" width="699" height="405.0" fill="#faf0e3"/>
<polygon points="1020.0,549.0 1720.0,549.0 1720.0,641.0 1700.0,649.0 1676.0,641.0 1660.0,629.0 1636.0,637.0 1612.0,653.0 1588.0,645.0 1572.0,629.0 1540.0,641.0 1520.0,645.0 1500.0,641.0 1480.0,645.0 1460.0,653.0 1440.0,649.0 1420.0,657.0 1400.0,661.0 1380.0,657.0 1360.0,653.0 1340.0,649.0 1324.0,645.0 1308.0,653.0 1292.0,649.0 1276.0,645.0 1260.0,641.0 1244.0,653.0 1228.0,649.0 1212.0,661.0 1196.0,649.0 1180.0,653.0 1156.0,645.0 1140.0,649.0 1116.0,645.0 1100.0,641.0 1080.0,645.0 1060.0,641.0 1044.0,629.0 1020.0,633.0" fill="#e2f0f0" stroke="#9a9a9a" stroke-width="0.6" stroke-opacity="0.7"/>
<polygon points="1020.0,579.0 1040.0,587.0 1058.0,597.0 1040.0,609.0 1020.0,623.0" fill="#faf0e3" stroke="#9a9a9a" stroke-width="0.6" stroke-opacity="0.7"/>
<polygon points="1024.0,553.0 1036.0,551.0 1050.0,553.8 1040.0,561.0 1028.0,560.2" fill="#faf0e3" stroke="#9a9a9a" stroke-width="0.6" stroke-opacity="0.7"/>
<polygon points="1292.0,569.0 1312.0,565.0 1332.0,571.0 1324.0,583.0 1300.0,585.0" fill="#faf0e3" stroke="#9a9a9a" stroke-width="0.6" stroke-opacity="0.7"/>
<polygon points="1316.0,567.0 1340.0,559.0 1380.0,555.0 1420.0,555.0 1460.0,557.0 1500.0,559.0 1540.0,561.0 1580.0,565.0 1600.0,573.0 1604.0,593.0 1592.0,609.0 1572.0,617.0 1552.0,629.0 1540.0,641.0 1520.0,645.0 1500.0,641.0 1480.0,645.0 1460.0,641.0 1440.0,637.0 1420.0,629.0 1400.0,629.0 1380.0,637.0 1360.0,645.0 1340.0,649.0 1324.0,649.0 1308.0,657.0 1292.0,659.0 1276.0,655.0 1262.0,645.0 1264.0,625.0 1276.0,613.0 1300.0,609.0 1316.0,597.0 1312.0,581.0" fill="#faf0e3" stroke="#9a9a9a" stroke-width="0.6" stroke-opacity="0.7"/>
<polygon points="1244.0,653.0 1260.0,681.0 1268.0,717.0 1280.0,749.0 1292.0,781.0 1308.0,805.0 1316.0,829.0 1300.0,853.0 1308.0,877.0 1324.0,893.0 1340.0,901.0 1364.0,897.0 1388.0,901.0 1420.0,901.0 1460.0,905.0 1500.0,901.0 1532.0,897.0 1556.0,889.0 1572.0,869.0 1580.0,837.0 1588.0,805.0 1600.0,773.0 1612.0,749.0 1620.0,725.0 1628.0,701.0 1636.0,677.0 1644.0,653.0 1620.0,653.0 1600.0,645.0 1580.0,637.0 1556.0,645.0 1532.0,645.0 1500.0,645.0 1460.0,653.0 1420.0,657.0 1380.0,657.0 1340.0,653.0 1300.0,653.0 1268.0,649.0" fill="#e2f0f0" stroke="#9a9a9a" stroke-width="0.6" stroke-opacity="0.7"/>
<polygon points="1448.4,685.8 1458.8,679.8 1515.6,679.8 1516.8,689.0 1511.2,703.8 1520.0,715.8 1532.0,724.6 1540.8,742.6 1537.6,763.4 1526.0,769.0 1514.0,760.2 1497.6,776.6 1491.6,787.0 1480.0,763.4 1468.0,724.6 1458.8,705.4" fill="#faf0e3" stroke="#9a9a9a" stroke-width="0.6" stroke-opacity="0.7"/>
<polygon points="1487.2,730.6 1493.2,723.0 1505.2,730.6 1493.2,745.4" fill="#e2f0f0" stroke="#9a9a9a" stroke-width="0.6" stroke-opacity="0.7"/>
<polygon points="1537.6,772.2 1545.2,775.0 1552.8,778.2 1560.0,775.0 1560.0,860.2 1511.2,860.2 1515.6,828.6 1522.8,813.8 1537.6,795.8" fill="#faf0e3" stroke="#9a9a9a" stroke-width="0.6" stroke-opacity="0.7"/>
<polygon points="1300.0,794.2 1319.2,794.2 1325.2,788.6 1337.2,763.4 1356.4,797.4 1349.2,813.8 1329.6,843.4 1319.2,857.0 1300.0,828.6" fill="#faf0e3" stroke="#9a9a9a" stroke-width="0.6" stroke-opacity="0.7"/>
<polygon points="1396.0,733.0 1412.0,729.0 1428.0,741.0 1444.0,757.0 1452.0,781.0 1448.0,805.0 1436.0,813.0 1420.0,805.0 1404.0,789.0 1396.0,765.0" fill="#faf0e3" stroke="#9a9a9a" stroke-width="0.6" stroke-opacity="0.7"/>
<polygon points="1452.0,681.0 1468.0,677.0 1484.0,685.0 1480.0,701.0 1464.0,709.0 1452.0,697.0" fill="#faf0e3" stroke="#9a9a9a" stroke-width="0.6" stroke-opacity="0.7"/>
<polygon points="1492.0,645.0 1520.0,645.0 1540.0,661.0 1552.0,681.0 1536.0,693.0 1516.0,685.0 1500.0,669.0" fill="#faf0e3" stroke="#9a9a9a" stroke-width="0.6" stroke-opacity="0.7"/>
<polygon points="1520.0,757.0 1536.0,749.0 1548.0,773.0 1540.0,805.0 1528.0,797.0" fill="#faf0e3" stroke="#9a9a9a" stroke-width="0.6" stroke-opacity="0.7"/>
<polygon points="1020.0,661.0 1044.0,653.0 1060.0,669.0 1068.0,689.0 1060.0,717.0 1044.0,729.0 1032.0,717.0 1020.0,709.0" fill="#e2f0f0" stroke="#9a9a9a" stroke-width="0.6" stroke-opacity="0.7"/>
<polygon points="1020.0,761.0 1036.0,757.0 1052.0,773.0 1056.0,805.0 1044.0,829.0 1028.0,837.0 1020.0,829.0" fill="#e2f0f0" stroke="#9a9a9a" stroke-width="0.6" stroke-opacity="0.7"/>
<polygon points="1088.0,665.0 1116.0,661.0 1140.0,669.0 1152.0,693.0 1140.0,717.0 1116.0,725.0 1096.0,717.0 1088.0,693.0" fill="#e2f0f0" stroke="#9a9a9a" stroke-width="0.6" stroke-opacity="0.7"/>
<polygon points="1644.0,701.0 1660.0,693.0 1680.0,709.0 1700.0,701.0 1720.0,693.0 1720.0,805.0 1700.0,797.0 1680.0,789.0 1660.0,773.0 1648.0,741.0" fill="#e2f0f0" stroke="#9a9a9a" stroke-width="0.6" stroke-opacity="0.7"/>
<polygon points="1296.0,953.0 1300.0,933.0 1324.0,925.0 1348.0,921.0 1380.0,909.0 1420.0,905.0 1460.0,909.0 1500.0,913.0 1540.0,909.0 1572.0,901.0 1596.0,909.0 1612.0,933.0 1620.0,953.0" fill="#e2f0f0" stroke="#9a9a9a" stroke-width="0.6" stroke-opacity="0.7"/>
<polygon points="1596.0,837.0 1612.0,829.0 1628.0,845.0 1620.0,877.0 1604.0,885.0 1592.0,869.0" fill="#e2f0f0" stroke="#9a9a9a" stroke-width="0.6" stroke-opacity="0.7"/>
<polygon points="1020.0,893.0 1036.0,889.0 1044.0,909.0 1032.0,925.0 1020.0,925.0" fill="#e2f0f0" stroke="#9a9a9a" stroke-width="0.6" stroke-opacity="0.7"/>
<polygon points="1068.0,575.0 1086.0,565.8 1104.0,569.0 1112.0,571.0 1122.0,555.0 1132.0,553.0 1140.0,553.0 1152.0,561.0 1168.0,565.0 1180.0,567.0 1200.0,575.0 1220.0,577.0 1232.0,579.0 1240.0,575.0 1252.0,571.0 1268.0,565.8 1274.0,575.0 1274.0,587.0 1270.0,601.0 1260.0,609.0 1240.0,613.0 1232.0,625.0 1218.0,633.0 1208.0,649.0 1196.0,649.0 1188.0,645.0 1176.0,641.0 1164.0,637.0 1148.0,633.0 1136.0,633.0 1128.0,625.0 1116.0,627.0 1104.0,625.0 1092.0,623.0 1080.0,619.0 1074.0,609.0 1072.0,593.0" fill="#addfd8" stroke="#9a9a9a" stroke-width="0.6" stroke-opacity="0.7"/>
<polygon points="1082.0,596.2 1090.0,583.0 1104.0,579.0 1124.0,577.8 1136.0,569.0 1148.0,561.0 1164.0,569.0 1180.0,575.0 1196.0,583.0 1212.0,589.0 1232.0,591.0 1250.0,593.0 1254.0,599.0 1240.0,607.0 1232.0,617.0 1216.0,609.0 1206.0,615.0 1206.0,625.0 1200.0,637.0 1196.0,639.0 1188.0,633.0 1172.0,629.0 1160.0,629.0 1148.0,625.0 1132.0,625.0 1116.0,621.0 1100.0,617.0 1088.0,609.0" fill="#6cbeb3" stroke="#9a9a9a" stroke-width="0.6" stroke-opacity="0.7"/>
<polygon points="1090.0,593.0 1100.0,585.8 1112.0,583.0 1128.0,581.8 1136.0,575.0 1146.0,565.8 1160.0,575.0 1176.0,581.0 1190.0,587.0 1204.0,593.0 1208.0,601.0 1206.0,609.0 1200.0,613.0 1196.0,629.0 1192.0,631.0 1184.0,623.0 1172.0,619.0 1160.0,617.0 1148.0,617.0 1136.0,617.0 1128.0,615.0 1116.0,611.0 1104.0,609.0 1094.0,603.0" fill="#2c8e86" stroke="#9a9a9a" stroke-width="0.6" stroke-opacity="0.7"/>
<polygon points="1092.0,595.0 1104.0,589.0 1116.0,587.0 1128.0,587.0 1140.0,581.0 1146.0,575.0 1156.0,583.0 1168.0,589.0 1180.0,593.8 1186.0,597.0 1176.0,601.0 1164.0,603.0 1152.0,607.0 1140.0,609.0 1132.0,609.0 1116.0,607.0 1100.0,603.0" fill="#01625a" stroke="#9a9a9a" stroke-width="0.6" stroke-opacity="0.7"/>
<polygon points="1104.0,596.2 1112.0,592.6 1120.0,593.8 1128.0,592.6 1140.0,589.8 1146.0,589.0 1152.0,595.0 1140.0,597.8 1128.0,598.6 1116.0,599.8 1108.0,599.8" fill="#003c30" stroke="#9a9a9a" stroke-width="0.6" stroke-opacity="0.7"/>
<polygon points="1596.0,597.0 1612.0,581.0 1628.0,569.0 1644.0,561.0 1668.0,557.0 1692.0,557.0 1720.0,561.0 1720.0,629.0 1700.0,629.0 1684.0,625.0 1668.0,621.0 1652.0,617.0 1636.0,621.0 1620.0,617.0 1604.0,613.0" fill="#addfd8" stroke="#9a9a9a" stroke-width="0.6" stroke-opacity="0.7"/>
<polygon points="1628.0,593.0 1644.0,581.0 1668.0,573.0 1692.0,573.0 1720.0,577.0 1720.0,613.0 1700.0,617.0 1676.0,613.0 1652.0,609.0 1636.0,605.0" fill="#6cbeb3" stroke="#9a9a9a" stroke-width="0.6" stroke-opacity="0.7"/>
<polygon points="1652.0,593.0 1668.0,585.0 1692.0,585.0 1720.0,589.0 1720.0,609.0 1700.0,609.0 1676.0,607.0 1660.0,603.0" fill="#2c8e86" stroke="#9a9a9a" stroke-width="0.6" stroke-opacity="0.7"/>
<polygon points="1676.0,593.0 1692.0,589.0 1708.0,593.0 1700.0,601.0 1684.0,601.0" fill="#01625a" stroke="#9a9a9a" stroke-width="0.6" stroke-opacity="0.7"/>
<polygon points="1284.0,549.0 1308.0,549.0 1324.0,557.0 1300.0,561.0" fill="#addfd8" stroke="#9a9a9a" stroke-width="0.6" stroke-opacity="0.7"/>
<polygon points="1364.0,953.0 1368.0,909.0 1380.0,897.0 1400.0,901.0 1420.0,881.0 1428.0,889.0 1440.0,901.0 1460.0,909.0 1484.0,917.0 1500.0,921.0 1520.0,917.0 1540.0,917.0 1556.0,909.0 1572.0,893.0 1580.0,853.0 1592.0,837.0 1600.0,845.0 1604.0,869.0 1596.0,893.0 1588.0,917.0 1580.0,933.0 1572.0,953.0" fill="#addfd8" stroke="#9a9a9a" stroke-width="0.6" stroke-opacity="0.7"/>
<polygon points="1508.0,921.0 1540.0,921.0 1548.0,953.0 1508.0,953.0" fill="#6cbeb3" stroke="#9a9a9a" stroke-width="0.6" stroke-opacity="0.7"/>
<polygon points="1516.0,933.0 1524.0,925.0 1536.0,929.0 1540.0,953.0 1516.0,953.0" fill="#2c8e86" stroke="#9a9a9a" stroke-width="0.6" stroke-opacity="0.7"/>
<polygon points="1572.0,889.0 1580.0,885.0 1584.0,909.0 1576.0,913.0" fill="#6cbeb3" stroke="#9a9a9a" stroke-width="0.6" stroke-opacity="0.7"/>
<polygon points="1644.0,809.0 1660.0,805.0 1668.0,821.0 1660.0,837.0 1648.0,829.0" fill="#addfd8" stroke="#9a9a9a" stroke-width="0.6" stroke-opacity="0.7"/>
<polygon points="1680.0,721.0 1692.0,721.0 1696.0,737.0 1688.0,741.0" fill="#addfd8" stroke="#9a9a9a" stroke-width="0.6" stroke-opacity="0.7"/>
<polygon points="1520.0,639.0 1532.0,637.0 1536.0,647.0 1526.0,649.0" fill="#addfd8" stroke="#9a9a9a" stroke-width="0.6" stroke-opacity="0.7"/>
<polygon points="1316.0,885.0 1324.0,881.0 1328.0,893.0 1320.0,895.0" fill="#addfd8" stroke="#9a9a9a" stroke-width="0.6" stroke-opacity="0.7"/>
<polygon points="1328.0,573.0 1348.0,565.0 1380.0,561.0 1412.0,559.0 1440.0,561.0 1468.0,563.0 1500.0,565.0 1524.0,567.0 1548.0,565.0 1572.0,569.0 1584.0,577.0 1580.0,589.0 1560.0,597.0 1540.0,605.0 1520.0,609.0 1500.0,609.0 1480.0,605.0 1460.0,609.0 1440.0,609.0 1420.0,609.0 1404.0,609.0 1388.0,617.0 1376.0,629.0 1364.0,629.0 1352.0,613.0 1340.0,597.0 1332.0,585.0" fill="#eedaaa" stroke="#9a9a9a" stroke-width="0.6" stroke-opacity="0.7"/>
<polygon points="1356.0,577.0 1380.0,569.0 1404.0,567.0 1428.0,567.0 1452.0,569.0 1476.0,571.0 1500.0,573.0 1524.0,573.0 1548.0,577.0 1564.0,585.0 1552.0,593.0 1532.0,597.0 1508.0,597.0 1484.0,593.0 1460.0,597.0 1436.0,601.0 1412.0,597.0 1396.0,601.0 1380.0,609.0 1368.0,605.0 1360.0,593.0" fill="#d6b067" stroke="#9a9a9a" stroke-width="0.6" stroke-opacity="0.7"/>
<polygon points="1384.0,573.0 1404.0,569.0 1428.0,569.0 1444.0,577.0 1436.0,585.0 1416.0,587.0 1400.0,585.0 1388.0,581.0" fill="#b67827" stroke="#9a9a9a" stroke-width="0.6" stroke-opacity="0.7"/>
<polygon points="1496.0,575.0 1512.0,573.0 1528.0,581.0 1536.0,593.0 1524.0,599.0 1508.0,597.0 1500.0,589.0" fill="#b67827" stroke="#9a9a9a" stroke-width="0.6" stroke-opacity="0.7"/>
<polygon points="1412.0,573.0 1420.0,571.0 1428.0,575.0 1420.0,577.0" fill="#874e0a" stroke="#9a9a9a" stroke-width="0.6" stroke-opacity="0.7"/>
<polygon points="1140.0,733.0 1156.0,725.0 1180.0,729.0 1204.0,727.0 1220.0,733.0 1216.0,757.0 1208.0,773.0 1196.0,789.0 1188.0,805.0 1172.0,813.0 1164.0,829.0 1156.0,845.0 1148.0,829.0 1140.0,805.0 1136.0,781.0 1134.0,757.0" fill="#eedaaa" stroke="#9a9a9a" stroke-width="0.6" stroke-opacity="0.7"/>
<polygon points="1192.0,757.0 1200.0,753.0 1204.0,773.0 1196.0,781.0 1190.0,773.0" fill="#d6b067" stroke="#9a9a9a" stroke-width="0.6" stroke-opacity="0.7"/>
<polygon points="1084.0,953.0 1092.0,925.0 1108.0,909.0 1124.0,901.0 1140.0,893.0 1156.0,877.0 1172.0,869.0 1188.0,865.0 1204.0,869.0 1220.0,885.0 1220.0,909.0 1212.0,929.0 1196.0,933.0 1180.0,925.0 1156.0,917.0 1140.0,921.0 1132.0,953.0" fill="#eedaaa" stroke="#9a9a9a" stroke-width="0.6" stroke-opacity="0.7"/>
<polygon points="1092.0,941.0 1108.0,929.0 1124.0,933.0 1132.0,953.0 1092.0,953.0" fill="#d6b067" stroke="#9a9a9a" stroke-width="0.6" stroke-opacity="0.7"/>
<polygon points="1068.0,901.0 1080.0,893.0 1088.0,909.0 1084.0,933.0 1072.0,929.0" fill="#eedaaa" stroke="#9a9a9a" stroke-width="0.6" stroke-opacity="0.7"/>
<polygon points="1228.0,741.0 1236.0,737.0 1244.0,765.0 1240.0,789.0 1232.0,789.0 1226.0,765.0" fill="#eedaaa" stroke="#9a9a9a" stroke-width="0.6" stroke-opacity="0.7"/>
<polygon points="1628.0,953.0 1632.0,917.0 1644.0,893.0 1660.0,877.0 1676.0,861.0 1692.0,845.0 1700.0,829.0 1708.0,821.0 1720.0,817.0 1720.0,953.0" fill="#eedaaa" stroke="#9a9a9a" stroke-width="0.6" stroke-opacity="0.7"/>
<polygon points="1644.0,909.0 1660.0,893.0 1676.0,893.0 1692.0,909.0 1700.0,933.0 1692.0,949.0 1668.0,953.0 1648.0,949.0" fill="#d6b067" stroke="#9a9a9a" stroke-width="0.6" stroke-opacity="0.7"/>
<polygon points="1588.0,773.0 1600.0,765.0 1608.0,781.0 1604.0,797.0 1592.0,797.0" fill="#eedaaa" stroke="#9a9a9a" stroke-width="0.6" stroke-opacity="0.7"/>
<polygon points="1632.0,665.0 1652.0,657.0 1672.0,661.0 1676.0,681.0 1660.0,701.0 1640.0,697.0 1632.0,681.0" fill="#eedaaa" stroke="#9a9a9a" stroke-width="0.6" stroke-opacity="0.7"/>
<polygon points="1564.0,813.0 1572.0,813.0 1576.0,825.0 1568.0,827.0" fill="#eedaaa" stroke="#9a9a9a" stroke-width="0.6" stroke-opacity="0.7"/>
<polygon points="1308.0,953.0 1316.0,929.0 1328.0,933.0 1332.0,953.0" fill="#eedaaa" stroke="#9a9a9a" stroke-width="0.6" stroke-opacity="0.7"/>
<rect x="1022" y="953.5" width="699" height="6" fill="#fff"/>
<line x1="1088.8" y1="551.0" x2="1088.8" y2="959.5" stroke="#ff45ff" stroke-width="2.6"/>
<line x1="1132.4" y1="551.0" x2="1132.4" y2="959.5" stroke="#ff45ff" stroke-width="2.6"/>
<line x1="1480" y1="551.0" x2="1480" y2="959.5" stroke="#ff45ff" stroke-width="2.6" stroke-dasharray="9.2,10"/>
<line x1="1524" y1="551.0" x2="1524" y2="959.5" stroke="#ff45ff" stroke-width="2.6" stroke-dasharray="9.2,10"/>
<polyline points="1326.0,731.0 1340.0,717.0 1356.0,703.0 1372.0,697.8 1388.0,703.0 1404.0,709.0 1420.0,711.0 1440.0,709.0 1460.0,703.0 1480.0,701.0 1500.0,703.0 1520.0,709.0 1536.0,721.0 1548.0,737.0 1552.0,757.0 1546.0,781.0 1548.0,805.0 1556.0,829.0 1554.0,853.0 1548.0,877.0 1536.0,897.0 1524.0,913.0 1508.0,925.0 1492.0,925.8 1472.0,923.0 1456.0,921.0 1436.0,921.0 1412.0,921.0 1392.0,913.0 1380.0,897.0 1368.0,885.0 1356.0,873.0 1340.0,853.0 1334.0,829.0 1328.0,809.0 1326.0,789.0 1326.0,757.0 1326.0,731.0" fill="none" stroke="#a60b2e" stroke-width="2.9" stroke-linejoin="round"/>
<polyline points="1372.0,793.0 1380.0,785.0 1404.0,781.0 1424.0,793.0 1444.0,785.0 1460.0,777.0 1476.0,775.0 1494.0,779.0 1508.0,793.0 1516.0,809.0 1516.0,825.0 1510.0,845.0 1500.0,861.0 1494.0,875.0 1480.0,865.0 1472.0,857.0 1460.0,845.0 1444.0,857.0 1424.0,869.0 1416.0,861.0 1404.0,845.0 1396.0,837.0 1380.0,829.0 1372.0,821.0 1372.0,793.0" fill="none" stroke="#a60b2e" stroke-width="2.9" stroke-linejoin="round"/>
<polyline points="1028.0,857.0 1036.0,829.0 1036.0,797.0 1040.0,773.0 1052.0,749.0 1064.0,729.0 1080.0,705.0 1092.0,685.0 1112.0,673.0 1136.0,669.0 1160.0,673.0 1180.0,677.0 1196.0,685.0 1212.0,701.0 1228.0,717.0 1240.0,737.0 1244.0,761.0 1240.0,789.0 1244.0,817.0 1252.0,833.0 1268.0,849.0 1284.0,865.0 1300.0,885.0 1312.0,901.0 1320.0,913.0" fill="none" stroke="#a60b2e" stroke-width="2.9" stroke-linejoin="round" stroke-dasharray="11.5,12"/>
<polyline points="1092.0,913.0 1112.0,917.0 1140.0,917.0 1164.0,913.0 1188.0,905.0 1208.0,897.0 1228.0,901.0 1244.0,909.0 1268.0,913.0 1292.0,913.0 1316.0,915.0" fill="none" stroke="#a60b2e" stroke-width="2.9" stroke-linejoin="round" stroke-dasharray="11.5,12"/>
<polyline points="1056.0,869.0 1052.0,837.0 1052.0,805.0 1060.0,773.0 1072.0,745.0 1088.0,725.0 1104.0,713.0 1124.0,705.0 1144.0,707.0 1164.0,713.0 1184.0,721.0 1200.0,737.0 1212.0,757.0 1216.0,781.0 1212.0,805.0 1204.0,829.0 1192.0,853.0 1180.0,873.0 1164.0,889.0 1144.0,901.0 1124.0,909.0 1104.0,909.0 1084.0,901.0 1068.0,889.0 1056.0,869.0" fill="none" stroke="#a60b2e" stroke-width="2.9" stroke-linejoin="round" stroke-dasharray="11.5,12"/>
<polyline points="1072.0,829.0 1072.0,797.0 1080.0,773.0 1092.0,749.0 1108.0,737.0 1128.0,731.0 1148.0,733.0 1168.0,741.0 1184.0,753.0 1192.0,773.0 1192.0,801.0 1188.0,829.0 1180.0,853.0 1168.0,869.0 1152.0,881.0 1132.0,889.0 1112.0,885.0 1096.0,873.0 1084.0,857.0 1072.0,829.0" fill="none" stroke="#a60b2e" stroke-width="2.9" stroke-linejoin="round" stroke-dasharray="11.5,12"/>
<polyline points="1088.0,805.0 1092.0,781.0 1104.0,761.0 1120.0,751.0 1140.0,751.0 1156.0,757.0 1172.0,773.0 1176.0,797.0 1172.0,821.0 1160.0,841.0 1144.0,857.0 1128.0,861.0 1112.0,853.0 1100.0,837.0 1088.0,805.0" fill="none" stroke="#a60b2e" stroke-width="2.9" stroke-linejoin="round" stroke-dasharray="11.5,12"/>
<polyline points="1112.0,797.0 1120.0,781.0 1136.0,777.0 1148.0,789.0 1148.0,809.0 1140.0,825.0 1128.0,833.0 1120.0,821.0 1112.0,797.0" fill="none" stroke="#a60b2e" stroke-width="2.9" stroke-linejoin="round" stroke-dasharray="11.5,12"/>
<polyline points="1592.0,953.0 1588.0,929.0 1596.0,901.0 1608.0,881.0 1620.0,865.0 1628.0,845.0 1636.0,825.0 1644.0,805.0 1652.0,781.0 1656.0,757.0 1656.0,733.0 1664.0,721.0 1680.0,721.0 1692.0,737.0 1700.0,761.0 1708.0,789.0 1714.0,813.0 1720.0,829.0" fill="none" stroke="#a60b2e" stroke-width="2.9" stroke-linejoin="round" stroke-dasharray="11.5,12"/>
<polyline points="1628.0,953.0 1628.0,929.0 1636.0,909.0 1652.0,897.0 1664.0,889.0 1680.0,885.0 1700.0,889.0 1716.0,901.0 1720.0,909.0" fill="none" stroke="#a60b2e" stroke-width="2.9" stroke-linejoin="round" stroke-dasharray="11.5,12"/>
<polyline points="1660.0,953.0 1660.0,933.0 1668.0,909.0 1684.0,897.0 1700.0,909.0 1708.0,933.0 1700.0,949.0 1684.0,953.0" fill="none" stroke="#a60b2e" stroke-width="2.9" stroke-linejoin="round" stroke-dasharray="11.5,12"/>
<polyline points="1616.0,853.0 1624.0,829.0 1636.0,813.0 1660.0,805.0 1680.0,797.0 1700.0,789.0" fill="none" stroke="#a60b2e" stroke-width="2.9" stroke-linejoin="round" stroke-dasharray="11.5,12"/>
<path d="M1023.5,596.2L1037.3,596.8M1032.6,597.2L1037.3,596.8L1032.9,596.0" />
<path d="M1058.3,596.2L1079.7,598.9M1071.9,598.9L1079.7,598.9L1073.4,597.1" />
<path d="M1093.1,596.2L1111.6,605.3M1102.9,603.1L1111.6,605.3L1108.1,601.5" />
<path d="M1127.8,596.2L1124.9,608.7M1122.3,604.5L1124.9,608.7L1129.4,604.7" />
<path d="M1162.6,596.2L1139.5,609.5M1143.3,604.2L1139.5,609.5L1150.9,606.1" />
<path d="M1197.4,596.2L1158.6,606.9M1168.4,601.7L1158.6,606.9L1174.4,605.0" />
<path d="M1232.2,596.2L1184.6,603.4M1198.3,599.1L1184.6,603.4L1202.4,603.0" />
<path d="M1267.0,596.2L1213.8,602.1M1229.7,597.9L1213.8,602.1L1233.0,602.4" />
<path d="M1301.7,596.2L1253.7,597.3M1269.2,594.9L1253.7,597.3L1269.9,599.0" />
<path d="M1336.5,596.2L1288.2,593.6M1304.9,592.4L1288.2,593.6L1303.4,596.5" />
<path d="M1023.5,641.0L1038.6,640.9M1033.6,641.5L1038.6,640.9L1033.6,640.3" />
<path d="M1058.3,641.0L1073.1,644.6M1067.2,644.0L1073.1,644.6L1069.2,642.8" />
<path d="M1093.1,641.0L1107.6,660.5M1097.3,654.7L1107.6,660.5L1108.3,653.5" />
<path d="M1127.8,641.0L1142.1,671.7M1128.7,662.2L1142.1,671.7L1146.1,661.0" />
<path d="M1162.6,641.0L1170.8,673.3M1159.0,663.0L1170.8,673.3L1177.3,662.3" />
<path d="M1197.4,641.0L1199.2,673.3M1189.5,662.7L1199.2,673.3L1207.8,662.5" />
<path d="M1232.2,641.0L1227.1,659.2M1223.6,653.0L1227.1,659.2L1233.9,653.4" />
<path d="M1267.0,641.0L1260.3,649.9M1260.0,646.7L1260.3,649.9L1265.0,647.2" />
<path d="M1301.7,641.0L1297.5,641.4M1298.8,641.1L1297.5,641.4L1299.0,641.5" />
<path d="M1336.5,641.0L1338.6,634.0M1339.9,636.4L1338.6,634.0L1336.0,636.2" />
<path d="M1023.5,685.8L1038.6,686.5M1033.4,686.9L1038.6,686.5L1033.8,685.7" />
<path d="M1058.3,685.8L1071.8,687.1M1067.0,687.2L1071.8,687.1L1067.7,686.1" />
<path d="M1093.1,685.8L1103.6,702.5M1095.4,697.4L1103.6,702.5L1104.9,696.5" />
<path d="M1127.8,685.8L1133.6,718.4M1122.5,707.9L1133.6,718.4L1141.0,707.4" />
<path d="M1162.6,685.8L1162.9,722.9M1152.3,710.7L1162.9,722.9L1173.3,710.7" />
<path d="M1197.4,685.8L1194.7,722.1M1185.3,710.0L1194.7,722.1L1205.9,710.3" />
<path d="M1232.2,685.8L1231.1,711.0M1224.3,702.6L1231.1,711.0L1238.6,702.7" />
<path d="M1267.0,685.8L1267.5,695.6M1264.5,692.4L1267.5,695.6L1270.1,692.3" />
<path d="M1301.7,685.8L1306.2,687.1M1304.4,686.8L1306.2,687.1L1305.1,686.5" />
<path d="M1336.5,685.8L1344.5,680.4M1343.4,682.5L1344.5,680.4L1340.3,681.9" />
<path d="M1023.5,730.6L1039.9,729.6M1034.8,730.6L1039.9,729.6L1034.2,729.2" />
<path d="M1058.3,730.6L1069.1,734.3M1064.5,733.6L1069.1,734.3L1066.6,732.7" />
<path d="M1093.1,730.6L1094.3,748.7M1088.8,742.8L1094.3,748.7L1099.0,742.7" />
<path d="M1127.8,730.6L1127.5,762.8M1118.5,752.1L1127.5,762.8L1136.7,752.2" />
<path d="M1162.6,730.6L1162.9,768.9M1151.9,756.2L1162.9,768.9L1173.6,756.2" />
<path d="M1197.4,730.6L1197.9,764.6M1188.1,753.4L1197.9,764.6L1207.4,753.4" />
<path d="M1232.2,730.6L1239.1,754.0M1230.2,746.6L1239.1,754.0L1243.4,746.0" />
<path d="M1267.0,730.6L1274.9,740.7M1269.4,737.7L1274.9,740.7L1275.2,737.0" />
<path d="M1301.7,730.6L1310.8,734.9M1306.6,733.8L1310.8,734.9L1309.0,733.1" />
<path d="M1336.5,730.6L1345.3,726.9M1343.4,728.5L1345.3,726.9L1341.3,727.8" />
<path d="M1058.3,775.4L1055.8,784.0M1054.2,781.1L1055.8,784.0L1059.1,781.3" />
<path d="M1093.1,775.4L1082.4,792.8M1081.0,786.6L1082.4,792.8L1090.8,787.5" />
<path d="M1127.8,775.4L1115.6,801.3M1112.3,792.2L1115.6,801.3L1127.0,793.2" />
<path d="M1162.6,775.4L1154.1,807.1M1147.9,796.3L1154.1,807.1L1165.9,797.0" />
<path d="M1197.4,775.4L1192.6,799.1M1187.5,791.1L1192.6,799.1L1200.9,791.5" />
<path d="M1232.2,775.4L1236.4,792.0M1230.3,786.7L1236.4,792.0L1239.7,786.3" />
<path d="M1267.0,775.4L1270.9,787.4M1266.2,783.6L1270.9,787.4L1273.0,783.3" />
<path d="M1301.7,775.4L1305.4,781.3M1302.5,779.5L1305.4,781.3L1305.9,779.2" />
<path d="M1336.5,775.4L1338.6,771.5M1339.0,772.9L1338.6,771.5L1336.8,772.7" />
<path d="M1058.3,820.2L1053.2,826.5M1053.1,824.2L1053.2,826.5L1056.6,824.6" />
<path d="M1093.1,820.2L1085.1,839.8M1082.2,833.0L1085.1,839.8L1093.2,833.6" />
<path d="M1127.8,820.2L1122.2,844.3M1117.3,836.1L1122.2,844.3L1130.9,836.6" />
<path d="M1162.6,820.2L1160.2,845.1M1154.0,836.8L1160.2,845.1L1168.0,837.0" />
<path d="M1197.4,820.2L1195.8,834.4M1192.3,829.7L1195.8,834.4L1200.4,829.8" />
<path d="M1232.2,820.2L1229.8,832.6M1227.1,828.4L1229.8,832.6L1234.1,828.6" />
<path d="M1267.0,820.2L1266.4,830.5M1263.7,827.1L1266.4,830.5L1269.5,827.1" />
<path d="M1301.7,820.2L1301.5,827.3M1299.6,824.9L1301.5,827.3L1303.6,825.0" />
<path d="M1336.5,820.2L1335.5,820.4M1335.8,820.3L1335.5,820.4L1335.9,820.4" />
<path d="M1058.3,865.0L1051.3,871.6M1051.8,869.1L1051.3,871.6L1055.5,869.7" />
<path d="M1093.1,865.0L1089.6,882.2M1085.8,876.4L1089.6,882.2L1095.6,876.7" />
<path d="M1127.8,865.0L1126.2,886.2M1120.7,879.2L1126.2,886.2L1132.8,879.3" />
<path d="M1162.6,865.0L1168.7,881.4M1162.0,876.3L1168.7,881.4L1171.4,875.8" />
<path d="M1197.4,865.0L1205.9,875.1M1200.2,872.1L1205.9,875.1L1205.9,871.4" />
<path d="M1232.2,865.0L1241.7,875.1M1235.7,872.2L1241.7,875.1L1241.4,871.4" />
<path d="M1267.0,865.0L1277.0,873.5M1271.3,871.1L1277.0,873.5L1276.1,870.3" />
<path d="M1301.7,865.0L1310.8,872.4M1305.7,870.3L1310.8,872.4L1309.9,869.6" />
<path d="M1336.5,865.0L1344.5,863.7M1342.2,864.4L1344.5,863.7L1341.5,863.8" />
<path d="M1058.3,909.8L1051.3,914.9M1052.2,912.9L1051.3,914.9L1055.1,913.5" />
<path d="M1093.1,909.8L1087.7,924.7M1085.2,919.6L1087.7,924.7L1093.7,920.0" />
<path d="M1127.8,909.8L1126.7,923.9M1123.1,919.2L1126.7,923.9L1131.1,919.3" />
<path d="M1162.6,909.8L1167.4,916.0M1164.1,914.1L1167.4,916.0L1167.5,913.7" />
<path d="M1197.4,909.8L1209.9,910.1M1205.7,910.5L1209.9,910.1L1205.8,909.5" />
<path d="M1232.2,909.8L1249.7,914.1M1242.7,913.4L1249.7,914.1L1245.1,912.0" />
<path d="M1267.0,909.8L1288.2,916.8M1279.2,915.4L1288.2,916.8L1283.2,913.6" />
<path d="M1301.7,909.8L1324.0,916.0M1314.9,914.9L1324.0,916.0L1318.4,913.0" />
<path d="M1336.5,909.8L1359.9,910.7M1351.9,911.4L1359.9,910.7L1352.4,909.4" />
<path d="M1371.3,596.2L1334.6,587.0M1349.3,588.5L1334.6,587.0L1344.1,591.6" />
<path d="M1406.1,596.2L1382.9,583.0M1394.3,586.4L1382.9,583.0L1386.8,588.3" />
<path d="M1440.9,596.2L1432.1,582.2M1438.9,586.4L1432.1,582.2L1431.0,587.2" />
<path d="M1475.6,596.2L1486.5,584.1M1486.4,588.5L1486.5,584.1L1479.5,587.6" />
<path d="M1510.4,596.2L1538.3,584.8M1532.3,589.8L1538.3,584.8L1525.9,587.4" />
<path d="M1545.2,596.2L1591.4,588.8M1578.2,593.2L1591.4,588.8L1574.1,589.3" />
<path d="M1580.0,596.2L1636.5,593.6M1618.6,596.8L1636.5,593.6L1617.1,592.1" />
<path d="M1614.8,596.2L1665.7,598.1M1648.4,599.6L1665.7,598.1L1649.5,595.4" />
<path d="M1649.5,596.2L1705.6,607.9M1683.8,606.4L1705.6,607.9L1690.4,601.7" />
<path d="M1684.3,596.2L1717.5,606.1M1703.8,604.2L1717.5,606.1L1709.4,601.4" />
<path d="M1371.3,641.0L1377.6,618.6M1381.9,626.2L1377.6,618.6L1369.2,625.7" />
<path d="M1406.1,641.0L1413.5,623.9M1415.9,629.8L1413.5,623.9L1406.2,629.2" />
<path d="M1440.9,641.0L1446.7,623.3M1449.8,629.4L1446.7,623.3L1439.8,628.9" />
<path d="M1475.6,641.0L1478.5,626.0M1481.8,631.1L1478.5,626.0L1473.3,630.8" />
<path d="M1510.4,641.0L1511.7,626.0M1515.5,631.0L1511.7,626.0L1507.1,630.9" />
<path d="M1545.2,641.0L1542.3,629.2M1546.6,633.0L1542.3,629.2L1539.9,633.2" />
<path d="M1580.0,641.0L1576.8,636.6M1579.1,637.9L1576.8,636.6L1576.6,638.2" />
<path d="M1614.8,641.0L1615.8,651.2M1612.6,647.9L1615.8,651.2L1618.4,647.8" />
<path d="M1649.5,641.0L1657.8,663.2M1648.8,656.2L1657.8,663.2L1661.3,655.5" />
<path d="M1684.3,641.0L1702.9,665.8M1689.7,658.4L1702.9,665.8L1703.8,656.9" />
<path d="M1371.3,685.8L1381.1,665.8M1383.5,672.8L1381.1,665.8L1372.2,672.0" />
<path d="M1406.1,685.8L1416.1,673.8M1416.2,678.2L1416.1,673.8L1409.4,677.3" />
<path d="M1440.9,685.8L1448.0,670.6M1449.9,675.9L1448.0,670.6L1441.3,675.3" />
<path d="M1475.6,685.8L1477.2,671.7M1480.7,676.4L1477.2,671.7L1472.7,676.3" />
<path d="M1510.4,685.8L1507.7,669.8M1513.2,675.0L1507.7,669.8L1504.1,675.2" />
<path d="M1545.2,685.8L1537.8,673.8M1543.6,677.4L1537.8,673.8L1536.8,678.1" />
<path d="M1580.0,685.8L1572.8,681.8M1576.3,682.8L1572.8,681.8L1574.0,683.4" />
<path d="M1614.8,685.8L1614.0,696.4M1611.2,692.8L1614.0,696.4L1617.2,692.9" />
<path d="M1649.5,685.8L1664.4,705.7M1653.9,699.7L1664.4,705.7L1665.1,698.5" />
<path d="M1684.3,685.8L1713.5,708.3M1697.5,702.1L1713.5,708.3L1710.3,699.7" />
<path d="M1371.3,730.6L1377.6,712.3M1380.7,718.6L1377.6,712.3L1370.4,718.1" />
<path d="M1406.1,730.6L1412.2,718.9M1413.5,723.0L1412.2,718.9L1406.9,722.5" />
<path d="M1440.9,730.6L1445.3,717.6M1447.5,722.1L1445.3,717.6L1440.2,721.7" />
<path d="M1475.6,730.6L1476.7,715.0M1480.8,720.2L1476.7,715.0L1471.9,720.1" />
<path d="M1510.4,730.6L1506.4,714.2M1512.4,719.4L1506.4,714.2L1503.1,719.8" />
<path d="M1545.2,730.6L1537.8,720.3M1543.1,723.4L1537.8,720.3L1537.3,724.0" />
<path d="M1580.0,730.6L1573.3,726.4M1576.7,727.5L1573.3,726.4L1574.3,728.0" />
<path d="M1614.8,730.6L1614.0,737.5M1612.3,735.2L1614.0,737.5L1616.2,735.3" />
<path d="M1649.5,730.6L1661.8,745.0M1653.7,740.7L1661.8,745.0L1661.8,739.7" />
<path d="M1684.3,730.6L1706.9,757.4M1691.8,749.5L1706.9,757.4L1707.0,747.6" />
<path d="M1371.3,775.4L1373.7,760.1M1377.2,765.2L1373.7,760.1L1368.5,765.0" />
<path d="M1406.1,775.4L1406.8,761.4M1410.6,766.1L1406.8,761.4L1402.6,766.0" />
<path d="M1440.9,775.4L1444.0,763.6M1446.3,767.6L1444.0,763.6L1439.6,767.3" />
<path d="M1475.6,775.4L1476.7,760.1M1480.7,765.2L1476.7,760.1L1472.0,765.1" />
<path d="M1510.4,775.4L1505.1,759.3M1511.4,764.4L1505.1,759.3L1502.3,764.8" />
<path d="M1545.2,775.4L1534.3,762.8M1541.5,766.5L1534.3,762.8L1534.3,767.4" />
<path d="M1580.0,775.4L1567.0,769.9M1572.8,771.2L1567.0,769.9L1569.7,772.3" />
<path d="M1614.8,775.4L1606.8,777.4M1608.9,776.4L1606.8,777.4L1610.0,777.0" />
<path d="M1649.5,775.4L1651.1,785.3M1647.8,782.1L1651.1,785.3L1653.4,782.0" />
<path d="M1684.3,775.4L1696.3,807.9M1683.1,797.7L1696.3,807.9L1701.5,796.7" />
<path d="M1371.3,820.2L1372.3,810.6M1374.7,813.8L1372.3,810.6L1369.3,813.7" />
<path d="M1406.1,820.2L1404.2,805.2M1409.1,810.1L1404.2,805.2L1400.6,810.3" />
<path d="M1440.9,820.2L1439.5,807.9M1443.4,811.9L1439.5,807.9L1436.5,812.0" />
<path d="M1475.6,820.2L1473.2,805.2M1478.3,810.1L1473.2,805.2L1469.8,810.3" />
<path d="M1510.4,820.2L1502.4,807.9M1508.6,811.6L1502.4,807.9L1501.6,812.3" />
<path d="M1545.2,820.2L1533.5,806.0M1541.4,810.2L1533.5,806.0L1533.4,811.2" />
<path d="M1580.0,820.2L1570.2,811.9M1575.8,814.2L1570.2,811.9L1571.0,815.0" />
<path d="M1614.8,820.2L1606.0,821.2M1608.6,820.5L1606.0,821.2L1609.2,821.2" />
<path d="M1649.5,820.2L1642.4,833.1M1641.1,828.6L1642.4,833.1L1648.4,829.2" />
<path d="M1684.3,820.2L1684.3,853.0M1675.0,842.2L1684.3,853.0L1693.6,842.2" />
<path d="M1371.3,865.0L1375.0,854.9M1376.6,858.4L1375.0,854.9L1370.9,858.1" />
<path d="M1406.1,865.0L1408.2,853.0M1410.9,857.1L1408.2,853.0L1404.1,856.9" />
<path d="M1440.9,865.0L1440.6,854.9M1443.5,858.2L1440.6,854.9L1437.8,858.2" />
<path d="M1475.6,865.0L1471.9,851.7M1476.9,855.9L1471.9,851.7L1469.4,856.3" />
<path d="M1510.4,865.0L1502.4,854.4M1508.1,857.5L1502.4,854.4L1502.1,858.2" />
<path d="M1545.2,865.0L1533.5,850.4M1541.5,854.7L1533.5,850.4L1533.2,855.7" />
<path d="M1580.0,865.0L1562.7,853.8M1571.6,856.8L1562.7,853.8L1565.3,858.2" />
<path d="M1614.8,865.0L1594.0,871.6M1599.0,868.6L1594.0,871.6L1602.8,870.3" />
<path d="M1649.5,865.0L1632.6,882.2M1633.3,875.8L1632.6,882.2L1643.0,877.3" />
<path d="M1684.3,865.0L1677.7,891.5M1672.4,882.5L1677.7,891.5L1687.4,883.1" />
<path d="M1371.3,909.8L1388.3,902.7M1384.7,905.7L1388.3,902.7L1380.7,904.3" />
<path d="M1406.1,909.8L1415.6,900.0M1415.2,903.7L1415.6,900.0L1409.7,902.9" />
<path d="M1440.9,909.8L1442.2,904.8M1443.1,906.5L1442.2,904.8L1440.3,906.4" />
<path d="M1475.6,909.8L1471.9,899.5M1476.1,902.7L1471.9,899.5L1470.2,903.1" />
<path d="M1510.4,909.8L1499.8,900.0M1506.1,902.8L1499.8,900.0L1500.5,903.7" />
<path d="M1545.2,909.8L1523.7,899.5M1533.7,902.0L1523.7,899.5L1527.9,903.8" />
<path d="M1580.0,909.8L1544.9,910.1M1556.4,908.6L1544.9,910.1L1556.6,911.5" />
<path d="M1614.8,909.8L1575.5,914.9M1587.0,911.6L1575.5,914.9L1589.9,914.9" />
<path d="M1649.5,909.8L1616.6,916.8M1625.5,913.1L1616.6,916.8L1629.5,915.8" />
<path d="M1684.3,909.8L1669.7,928.7M1669.2,921.9L1669.7,928.7L1679.9,923.1" />
<path d="M1023.5,551.4L1005.5,552.4" style="stroke-width:2.6"/>
<path d="M1058.3,551.4L1039.3,552.4" style="stroke-width:2.6"/>
<path d="M1093.1,551.4L1073.1,552.4" style="stroke-width:2.6"/>
<path d="M1127.8,551.4L1106.8,552.4" style="stroke-width:2.6"/>
<path d="M1162.6,551.4L1140.6,552.4" style="stroke-width:2.6"/>
<path d="M1197.4,551.4L1187.4,552.4" style="stroke-width:2.6"/>
<path d="M1232.2,551.4L1221.2,552.4" style="stroke-width:2.6"/>
<path d="M1267.0,551.4L1255.0,552.4" style="stroke-width:2.6"/>
<path d="M1301.7,551.4L1288.7,552.4" style="stroke-width:2.6"/>
<path d="M1336.5,551.4L1322.5,552.4" style="stroke-width:2.6"/>
<path d="M1371.3,551.4L1356.3,552.4" style="stroke-width:2.6"/>
<path d="M1406.1,551.4L1390.1,552.4" style="stroke-width:2.6"/>
<path d="M1440.9,551.4L1423.9,552.4" style="stroke-width:2.6"/>
<path d="M1475.6,551.4L1457.6,552.4" style="stroke-width:2.6"/>
<path d="M1510.4,551.4L1491.4,552.4" style="stroke-width:2.6"/>
<path d="M1545.2,551.4L1525.2,552.4" style="stroke-width:2.6"/>
<path d="M1580.0,551.4L1559.0,552.4" style="stroke-width:2.6"/>
<path d="M1614.8,551.4L1592.8,552.4" style="stroke-width:2.6"/>
<path d="M1649.5,551.4L1639.5,552.4" style="stroke-width:2.6"/>
<path d="M1684.3,551.4L1673.3,552.4" style="stroke-width:2.6"/>
<path d="M1719.1,551.4L1707.1,552.4" style="stroke-width:2.6"/>
<path d="M1023.5,954.6L1006.5,952.6" style="stroke-width:2.6"/>
<path d="M1058.3,954.6L1042.3,953.6" style="stroke-width:2.6"/>
<path d="M1093.1,954.6L1078.1,954.6" style="stroke-width:2.6"/>
<path d="M1127.8,954.6L1113.8,955.6" style="stroke-width:2.6"/>
<path d="M1162.6,954.6L1149.6,956.6" style="stroke-width:2.6"/>
<path d="M1197.4,954.6L1185.4,952.6" style="stroke-width:2.6"/>
<path d="M1232.2,954.6L1210.2,953.6" style="stroke-width:2.6"/>
<path d="M1267.0,954.6L1246.0,954.6" style="stroke-width:2.6"/>
<path d="M1301.7,954.6L1281.7,955.6" style="stroke-width:2.6"/>
<path d="M1336.5,954.6L1317.5,956.6" style="stroke-width:2.6"/>
<path d="M1371.3,954.6L1353.3,952.6" style="stroke-width:2.6"/>
<path d="M1406.1,954.6L1389.1,953.6" style="stroke-width:2.6"/>
<path d="M1440.9,954.6L1424.9,954.6" style="stroke-width:2.6"/>
<path d="M1475.6,954.6L1460.6,955.6" style="stroke-width:2.6"/>
<path d="M1510.4,954.6L1496.4,956.6" style="stroke-width:2.6"/>
<path d="M1545.2,954.6L1532.2,952.6" style="stroke-width:2.6"/>
<path d="M1580.0,954.6L1568.0,953.6" style="stroke-width:2.6"/>
<path d="M1614.8,954.6L1592.8,954.6" style="stroke-width:2.6"/>
<path d="M1649.5,954.6L1628.5,955.6" style="stroke-width:2.6"/>
<path d="M1684.3,954.6L1664.3,956.6" style="stroke-width:2.6"/>
<path d="M1719.1,954.6L1700.1,952.6" style="stroke-width:2.6"/>
</g>
<rect x="1023.5" y="551.0" width="696" height="407.0" fill="none" stroke="#262626" stroke-width="3"/>
<line x1="1023.5" y1="597.1" x2="1032" y2="597.1" stroke="#262626" stroke-width="3"/>
<line x1="1719.5" y1="597.1" x2="1711" y2="597.1" stroke="#262626" stroke-width="3"/>
<line x1="1023.5" y1="641.7" x2="1032" y2="641.7" stroke="#262626" stroke-width="3"/>
<line x1="1719.5" y1="641.7" x2="1711" y2="641.7" stroke="#262626" stroke-width="3"/>
<line x1="1023.5" y1="686.3" x2="1032" y2="686.3" stroke="#262626" stroke-width="3"/>
<line x1="1719.5" y1="686.3" x2="1711" y2="686.3" stroke="#262626" stroke-width="3"/>
<line x1="1023.5" y1="730.9" x2="1032" y2="730.9" stroke="#262626" stroke-width="3"/>
<line x1="1719.5" y1="730.9" x2="1711" y2="730.9" stroke="#262626" stroke-width="3"/>
<line x1="1023.5" y1="775.6" x2="1032" y2="775.6" stroke="#262626" stroke-width="3"/>
<line x1="1719.5" y1="775.6" x2="1711" y2="775.6" stroke="#262626" stroke-width="3"/>
<line x1="1023.5" y1="820.2" x2="1032" y2="820.2" stroke="#262626" stroke-width="3"/>
<line x1="1719.5" y1="820.2" x2="1711" y2="820.2" stroke="#262626" stroke-width="3"/>
<line x1="1023.5" y1="864.8" x2="1032" y2="864.8" stroke="#262626" stroke-width="3"/>
<line x1="1719.5" y1="864.8" x2="1711" y2="864.8" stroke="#262626" stroke-width="3"/>
<line x1="1023.5" y1="909.4" x2="1032" y2="909.4" stroke="#262626" stroke-width="3"/>
<line x1="1719.5" y1="909.4" x2="1711" y2="909.4" stroke="#262626" stroke-width="3"/>
<line x1="1023.5" y1="954.0" x2="1032" y2="954.0" stroke="#262626" stroke-width="3"/>
<line x1="1719.5" y1="954.0" x2="1711" y2="954.0" stroke="#262626" stroke-width="3"/>
<line x1="1197.5" y1="958.0" x2="1197.5" y2="949.5" stroke="#262626" stroke-width="3"/>
<line x1="1197.5" y1="551.0" x2="1197.5" y2="559.5" stroke="#262626" stroke-width="3"/>
<line x1="1371.5" y1="958.0" x2="1371.5" y2="949.5" stroke="#262626" stroke-width="3"/>
<line x1="1371.5" y1="551.0" x2="1371.5" y2="559.5" stroke="#262626" stroke-width="3"/>
<line x1="1545.5" y1="958.0" x2="1545.5" y2="949.5" stroke="#262626" stroke-width="3"/>
<line x1="1545.5" y1="551.0" x2="1545.5" y2="559.5" stroke="#262626" stroke-width="3"/>
<text x="1015.5" y="563.2" text-anchor="end" class="t" textLength="46.8" lengthAdjust="spacingAndGlyphs">100</text>
<text x="1015.5" y="607.8" text-anchor="end" class="t" textLength="46.8" lengthAdjust="spacingAndGlyphs">200</text>
<text x="1015.5" y="652.4" text-anchor="end" class="t" textLength="46.8" lengthAdjust="spacingAndGlyphs">300</text>
<text x="1015.5" y="697.0" text-anchor="end" class="t" textLength="46.8" lengthAdjust="spacingAndGlyphs">400</text>
<text x="1015.5" y="741.6" text-anchor="end" class="t" textLength="46.8" lengthAdjust="spacingAndGlyphs">500</text>
<text x="1015.5" y="786.3" text-anchor="end" class="t" textLength="46.8" lengthAdjust="spacingAndGlyphs">600</text>
<text x="1015.5" y="830.9" text-anchor="end" class="t" textLength="46.8" lengthAdjust="spacingAndGlyphs">700</text>
<text x="1015.5" y="875.5" text-anchor="end" class="t" textLength="46.8" lengthAdjust="spacingAndGlyphs">800</text>
<text x="1015.5" y="920.1" text-anchor="end" class="t" textLength="46.8" lengthAdjust="spacingAndGlyphs">900</text>
<text x="1015.5" y="964.7" text-anchor="end" class="t" textLength="62.3" lengthAdjust="spacingAndGlyphs">1000</text>
<text x="1023.5" y="993" text-anchor="middle" class="t" textLength="61.7" lengthAdjust="spacingAndGlyphs">10°S</text>
<text x="1197.5" y="993" text-anchor="middle" class="t" textLength="27.1" lengthAdjust="spacingAndGlyphs">0°</text>
<text x="1371.5" y="993" text-anchor="middle" class="t" textLength="63.3" lengthAdjust="spacingAndGlyphs">10°N</text>
<text x="1545.5" y="993" text-anchor="middle" class="t" textLength="63.3" lengthAdjust="spacingAndGlyphs">20°N</text>
<text x="1719.5" y="993" text-anchor="middle" class="t" textLength="63.3" lengthAdjust="spacingAndGlyphs">30°N</text>
<text x="944.5" y="754.5" text-anchor="middle" class="t" textLength="198.9" lengthAdjust="spacingAndGlyphs" transform="rotate(-90 944.5 754.5)">Pressure level</text>
<text x="1024.0" y="537.5" class="ti"><tspan font-weight="bold">(e) P28</tspan> (May 16 – May 20)</text>
<rect x="1094.9" y="975.6" width="36" height="8" fill="#ff45ff"/>
<rect x="1108.4" y="960.6" width="9" height="38" fill="#ff45ff"/>
<rect x="1484" y="975.6" width="36" height="8" fill="#ff45ff"/>
<rect x="1017" y="1054" width="35.5" height="35.5" fill="#543005"/>
<rect x="1017" y="1089" width="35.5" height="35.5" fill="#874e0a"/>
<rect x="1017" y="1124" width="35.5" height="35.5" fill="#b67827"/>
<rect x="1017" y="1159" width="35.5" height="35.5" fill="#d6b067"/>
<rect x="1017" y="1194" width="35.5" height="35.5" fill="#eedaaa"/>
<rect x="1017" y="1229" width="35.5" height="35.5" fill="#faf0e3"/>
<rect x="1017" y="1264" width="35.5" height="35.5" fill="#e2f0f0"/>
<rect x="1017" y="1299" width="35.5" height="35.5" fill="#addfd8"/>
<rect x="1017" y="1334" width="35.5" height="35.5" fill="#6cbeb3"/>
<rect x="1017" y="1369" width="35.5" height="35.5" fill="#2c8e86"/>
<rect x="1017" y="1404" width="35.5" height="35.5" fill="#01625a"/>
<rect x="1017" y="1439" width="35.5" height="35.5" fill="#003c30"/>
<rect x="1017" y="1054" width="35.5" height="420" fill="none" stroke="#777" stroke-width="0.6"/>
<text x="1061.5" y="1060.0" class="cb">1.8</text>
<text x="1061.5" y="1128.0" class="cb">1.2</text>
<text x="1060.0" y="1198.5" class="cb">0.6</text>
<text x="1071.0" y="1271.5" class="cb">0</text>
<text x="1062.5" y="1337.5" class="cb">-0.6</text>
<text x="1062.5" y="1408.5" class="cb">-1.2</text>
<text x="1062.5" y="1472.5" class="cb">-1.8</text>
</svg></body></html>
